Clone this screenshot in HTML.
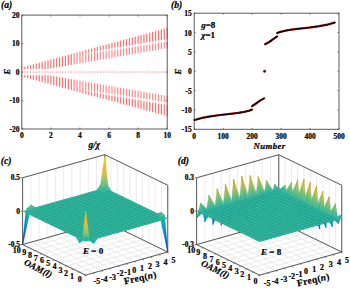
<!DOCTYPE html>
<html><head><meta charset="utf-8"><style>html,body{margin:0;padding:0;background:#fff;overflow:hidden}svg{display:block} text{stroke:#000;stroke-width:0.22px}</style></head>
<body><svg width="350" height="291" viewBox="0 0 350 291">
<defs><linearGradient id="g1" gradientUnits="userSpaceOnUse" x1="103.8" y1="188.8" x2="104.0" y2="184.7"><stop offset="0.00" stop-color="#46bb95"/><stop offset="0.20" stop-color="#4cbc92"/><stop offset="0.40" stop-color="#52bd8f"/><stop offset="0.60" stop-color="#57bd8c"/><stop offset="0.80" stop-color="#5dbf89"/><stop offset="1.00" stop-color="#62c086"/></linearGradient><linearGradient id="g2" gradientUnits="userSpaceOnUse" x1="100.6" y1="184.6" x2="102.1" y2="155.9"><stop offset="0.00" stop-color="#62c086"/><stop offset="0.20" stop-color="#9dc468"/><stop offset="0.40" stop-color="#d8c046"/><stop offset="0.60" stop-color="#ffb220"/><stop offset="0.80" stop-color="#ffcf01"/><stop offset="1.00" stop-color="#ffff00"/></linearGradient><linearGradient id="g3" gradientUnits="userSpaceOnUse" x1="106.9" y1="192.3" x2="105.8" y2="188.2"><stop offset="0.00" stop-color="#33b8a1"/><stop offset="0.20" stop-color="#36b99f"/><stop offset="0.40" stop-color="#3ab99c"/><stop offset="0.60" stop-color="#3eba9a"/><stop offset="0.80" stop-color="#42bb98"/><stop offset="1.00" stop-color="#46bb95"/></linearGradient><linearGradient id="g4" gradientUnits="userSpaceOnUse" x1="111.1" y1="191.1" x2="110.7" y2="184.8"><stop offset="0.00" stop-color="#33b8a1"/><stop offset="0.20" stop-color="#3cba9c"/><stop offset="0.40" stop-color="#45bb96"/><stop offset="0.60" stop-color="#4fbc91"/><stop offset="0.80" stop-color="#59be8b"/><stop offset="1.00" stop-color="#62c086"/></linearGradient><linearGradient id="g5" gradientUnits="userSpaceOnUse" x1="99.7" y1="191.9" x2="101.7" y2="187.7"><stop offset="0.00" stop-color="#33b8a1"/><stop offset="0.20" stop-color="#36b99f"/><stop offset="0.40" stop-color="#3ab99c"/><stop offset="0.60" stop-color="#3eba9a"/><stop offset="0.80" stop-color="#42bb98"/><stop offset="1.00" stop-color="#46bb95"/></linearGradient><linearGradient id="g6" gradientUnits="userSpaceOnUse" x1="96.5" y1="190.4" x2="97.5" y2="184.1"><stop offset="0.00" stop-color="#33b8a1"/><stop offset="0.20" stop-color="#3cba9c"/><stop offset="0.40" stop-color="#45bb96"/><stop offset="0.60" stop-color="#4fbc91"/><stop offset="0.80" stop-color="#59be8b"/><stop offset="1.00" stop-color="#62c086"/></linearGradient><linearGradient id="g7" gradientUnits="userSpaceOnUse" x1="99.7" y1="191.9" x2="99.9" y2="188.6"><stop offset="0.00" stop-color="#33b8a1"/><stop offset="0.20" stop-color="#36b99f"/><stop offset="0.40" stop-color="#3ab99c"/><stop offset="0.60" stop-color="#3eba9a"/><stop offset="0.80" stop-color="#42bb98"/><stop offset="1.00" stop-color="#46bb95"/></linearGradient><linearGradient id="g8" gradientUnits="userSpaceOnUse" x1="157.3" y1="216.7" x2="159.9" y2="211.5"><stop offset="0.00" stop-color="#33b8a1"/><stop offset="0.20" stop-color="#39b99d"/><stop offset="0.40" stop-color="#3fba99"/><stop offset="0.60" stop-color="#46bb95"/><stop offset="0.80" stop-color="#4dbc92"/><stop offset="1.00" stop-color="#55bd8e"/></linearGradient><linearGradient id="g9" gradientUnits="userSpaceOnUse" x1="154.2" y1="215.2" x2="154.0" y2="214.3"><stop offset="0.00" stop-color="#33b8a1"/><stop offset="0.20" stop-color="#39b99d"/><stop offset="0.40" stop-color="#3fba99"/><stop offset="0.60" stop-color="#46bb95"/><stop offset="0.80" stop-color="#4dbc92"/><stop offset="1.00" stop-color="#55bd8e"/></linearGradient><linearGradient id="g10" gradientUnits="userSpaceOnUse" x1="34.0" y1="210.4" x2="32.3" y2="204.4"><stop offset="0.00" stop-color="#33b8a1"/><stop offset="0.20" stop-color="#3ab99c"/><stop offset="0.40" stop-color="#42bb98"/><stop offset="0.60" stop-color="#4abc93"/><stop offset="0.80" stop-color="#53bd8e"/><stop offset="1.00" stop-color="#5bbe8a"/></linearGradient><linearGradient id="g11" gradientUnits="userSpaceOnUse" x1="34.9" y1="207.7" x2="35.3" y2="207.0"><stop offset="0.00" stop-color="#33b8a1"/><stop offset="0.20" stop-color="#3ab99c"/><stop offset="0.40" stop-color="#42bb98"/><stop offset="0.60" stop-color="#4abc93"/><stop offset="0.80" stop-color="#53bd8e"/><stop offset="1.00" stop-color="#5bbe8a"/></linearGradient><linearGradient id="g12" gradientUnits="userSpaceOnUse" x1="160.5" y1="218.3" x2="162.5" y2="214.1"><stop offset="0.00" stop-color="#33b8a1"/><stop offset="0.20" stop-color="#36b99f"/><stop offset="0.40" stop-color="#3ab99c"/><stop offset="0.60" stop-color="#3eba9a"/><stop offset="0.80" stop-color="#42bb98"/><stop offset="1.00" stop-color="#46bb95"/></linearGradient><linearGradient id="g13" gradientUnits="userSpaceOnUse" x1="157.3" y1="216.7" x2="158.5" y2="211.6"><stop offset="0.00" stop-color="#33b8a1"/><stop offset="0.20" stop-color="#39b99d"/><stop offset="0.40" stop-color="#3fba99"/><stop offset="0.60" stop-color="#46bb95"/><stop offset="0.80" stop-color="#4dbc92"/><stop offset="1.00" stop-color="#55bd8e"/></linearGradient><linearGradient id="g14" gradientUnits="userSpaceOnUse" x1="34.0" y1="210.4" x2="33.8" y2="204.8"><stop offset="0.00" stop-color="#33b8a1"/><stop offset="0.20" stop-color="#3ab99c"/><stop offset="0.40" stop-color="#42bb98"/><stop offset="0.60" stop-color="#4abc93"/><stop offset="0.80" stop-color="#53bd8e"/><stop offset="1.00" stop-color="#5bbe8a"/></linearGradient><linearGradient id="g15" gradientUnits="userSpaceOnUse" x1="167.8" y1="252.0" x2="179.6" y2="227.5"><stop offset="0.00" stop-color="#352a87"/><stop offset="0.20" stop-color="#1b55d7"/><stop offset="0.40" stop-color="#0f77db"/><stop offset="0.60" stop-color="#0d93d2"/><stop offset="0.80" stop-color="#07aac1"/><stop offset="1.00" stop-color="#33b8a1"/></linearGradient><linearGradient id="g16" gradientUnits="userSpaceOnUse" x1="167.8" y1="252.0" x2="158.9" y2="216.5"><stop offset="0.00" stop-color="#352a87"/><stop offset="0.20" stop-color="#1559da"/><stop offset="0.40" stop-color="#117ad9"/><stop offset="0.60" stop-color="#0998d1"/><stop offset="0.80" stop-color="#0eaeba"/><stop offset="1.00" stop-color="#46bb95"/></linearGradient><linearGradient id="g17" gradientUnits="userSpaceOnUse" x1="22.6" y1="244.6" x2="14.5" y2="215.9"><stop offset="0.00" stop-color="#352a87"/><stop offset="0.20" stop-color="#1b55d7"/><stop offset="0.40" stop-color="#0f77db"/><stop offset="0.60" stop-color="#0d93d2"/><stop offset="0.80" stop-color="#07aac1"/><stop offset="1.00" stop-color="#33b8a1"/></linearGradient><linearGradient id="g18" gradientUnits="userSpaceOnUse" x1="22.6" y1="244.6" x2="36.7" y2="213.2"><stop offset="0.00" stop-color="#352a87"/><stop offset="0.20" stop-color="#1758d9"/><stop offset="0.40" stop-color="#1079da"/><stop offset="0.60" stop-color="#0a96d1"/><stop offset="0.80" stop-color="#0bacbd"/><stop offset="1.00" stop-color="#3fba99"/></linearGradient><linearGradient id="g19" gradientUnits="userSpaceOnUse" x1="93.8" y1="243.4" x2="94.1" y2="238.1"><stop offset="0.00" stop-color="#14b0b5"/><stop offset="0.20" stop-color="#19b2b2"/><stop offset="0.40" stop-color="#1fb3ae"/><stop offset="0.60" stop-color="#25b5aa"/><stop offset="0.80" stop-color="#2cb6a5"/><stop offset="1.00" stop-color="#33b8a1"/></linearGradient><linearGradient id="g20" gradientUnits="userSpaceOnUse" x1="79.3" y1="242.7" x2="79.6" y2="237.3"><stop offset="0.00" stop-color="#14b0b5"/><stop offset="0.20" stop-color="#19b2b2"/><stop offset="0.40" stop-color="#1fb3ae"/><stop offset="0.60" stop-color="#25b5aa"/><stop offset="0.80" stop-color="#2cb6a5"/><stop offset="1.00" stop-color="#33b8a1"/></linearGradient><linearGradient id="g21" gradientUnits="userSpaceOnUse" x1="93.8" y1="243.4" x2="95.0" y2="238.5"><stop offset="0.00" stop-color="#14b0b5"/><stop offset="0.20" stop-color="#1eb3ae"/><stop offset="0.40" stop-color="#29b6a7"/><stop offset="0.60" stop-color="#36b99f"/><stop offset="0.80" stop-color="#45bb96"/><stop offset="1.00" stop-color="#55bd8e"/></linearGradient><linearGradient id="g22" gradientUnits="userSpaceOnUse" x1="93.8" y1="243.4" x2="91.1" y2="236.6"><stop offset="0.00" stop-color="#14b0b5"/><stop offset="0.20" stop-color="#1ab2b1"/><stop offset="0.40" stop-color="#21b4ac"/><stop offset="0.60" stop-color="#28b6a7"/><stop offset="0.80" stop-color="#30b7a2"/><stop offset="1.00" stop-color="#39b99d"/></linearGradient><linearGradient id="g23" gradientUnits="userSpaceOnUse" x1="79.3" y1="242.7" x2="78.7" y2="237.3"><stop offset="0.00" stop-color="#14b0b5"/><stop offset="0.20" stop-color="#1eb3ae"/><stop offset="0.40" stop-color="#29b6a7"/><stop offset="0.60" stop-color="#36b99f"/><stop offset="0.80" stop-color="#45bb96"/><stop offset="1.00" stop-color="#55bd8e"/></linearGradient><linearGradient id="g24" gradientUnits="userSpaceOnUse" x1="79.3" y1="242.7" x2="83.7" y2="236.4"><stop offset="0.00" stop-color="#14b0b5"/><stop offset="0.20" stop-color="#1ab2b1"/><stop offset="0.40" stop-color="#21b4ac"/><stop offset="0.60" stop-color="#28b6a7"/><stop offset="0.80" stop-color="#30b7a2"/><stop offset="1.00" stop-color="#39b99d"/></linearGradient><linearGradient id="g25" gradientUnits="userSpaceOnUse" x1="82.4" y1="236.9" x2="83.8" y2="210.9"><stop offset="0.00" stop-color="#55bd8e"/><stop offset="0.20" stop-color="#8fc46f"/><stop offset="0.40" stop-color="#c8c451"/><stop offset="0.60" stop-color="#feb427"/><stop offset="0.80" stop-color="#ffc20a"/><stop offset="1.00" stop-color="#ffff00"/></linearGradient><linearGradient id="g26" gradientUnits="userSpaceOnUse" x1="86.6" y1="238.4" x2="86.6" y2="237.1"><stop offset="0.00" stop-color="#39b99d"/><stop offset="0.20" stop-color="#3eba9a"/><stop offset="0.40" stop-color="#43bb97"/><stop offset="0.60" stop-color="#49bc94"/><stop offset="0.80" stop-color="#4fbc91"/><stop offset="1.00" stop-color="#55bd8e"/></linearGradient><linearGradient id="g27" gradientUnits="userSpaceOnUse" x1="281.9" y1="192.9" x2="273.6" y2="185.3"><stop offset="0.00" stop-color="#18b1b2"/><stop offset="0.20" stop-color="#24b5aa"/><stop offset="0.40" stop-color="#33b8a1"/><stop offset="0.60" stop-color="#43bb97"/><stop offset="0.80" stop-color="#55bd8e"/><stop offset="1.00" stop-color="#66c084"/></linearGradient><linearGradient id="g28" gradientUnits="userSpaceOnUse" x1="281.9" y1="192.9" x2="276.4" y2="193.9"><stop offset="0.00" stop-color="#18b1b2"/><stop offset="0.20" stop-color="#24b5aa"/><stop offset="0.40" stop-color="#33b8a1"/><stop offset="0.60" stop-color="#43bb97"/><stop offset="0.80" stop-color="#55bd8e"/><stop offset="1.00" stop-color="#66c084"/></linearGradient><linearGradient id="g29" gradientUnits="userSpaceOnUse" x1="280.9" y1="192.3" x2="284.5" y2="185.0"><stop offset="0.00" stop-color="#33b8a1"/><stop offset="0.20" stop-color="#3eba9a"/><stop offset="0.40" stop-color="#4abc93"/><stop offset="0.60" stop-color="#57bd8d"/><stop offset="0.80" stop-color="#63c086"/><stop offset="1.00" stop-color="#70c17f"/></linearGradient><linearGradient id="g30" gradientUnits="userSpaceOnUse" x1="281.9" y1="192.9" x2="281.1" y2="185.7"><stop offset="0.00" stop-color="#18b1b2"/><stop offset="0.20" stop-color="#26b5a9"/><stop offset="0.40" stop-color="#36b99f"/><stop offset="0.60" stop-color="#48bb94"/><stop offset="0.80" stop-color="#5cbe8a"/><stop offset="1.00" stop-color="#70c17f"/></linearGradient><linearGradient id="g31" gradientUnits="userSpaceOnUse" x1="270.5" y1="198.2" x2="269.1" y2="193.2"><stop offset="0.00" stop-color="#06a7c5"/><stop offset="0.20" stop-color="#09abbf"/><stop offset="0.40" stop-color="#10afb9"/><stop offset="0.60" stop-color="#1ab2b1"/><stop offset="0.80" stop-color="#25b5a9"/><stop offset="1.00" stop-color="#33b8a1"/></linearGradient><linearGradient id="g32" gradientUnits="userSpaceOnUse" x1="270.5" y1="198.2" x2="273.7" y2="184.0"><stop offset="0.00" stop-color="#06a7c5"/><stop offset="0.20" stop-color="#0dadbb"/><stop offset="0.40" stop-color="#1db3af"/><stop offset="0.60" stop-color="#32b8a1"/><stop offset="0.80" stop-color="#4bbc93"/><stop offset="1.00" stop-color="#66c084"/></linearGradient><linearGradient id="g33" gradientUnits="userSpaceOnUse" x1="288.2" y1="199.3" x2="289.6" y2="196.5"><stop offset="0.00" stop-color="#07aac1"/><stop offset="0.20" stop-color="#0cadbb"/><stop offset="0.40" stop-color="#14b0b5"/><stop offset="0.60" stop-color="#1db3af"/><stop offset="0.80" stop-color="#27b5a8"/><stop offset="1.00" stop-color="#33b8a1"/></linearGradient><linearGradient id="g34" gradientUnits="userSpaceOnUse" x1="288.2" y1="199.3" x2="287.1" y2="185.1"><stop offset="0.00" stop-color="#07aac1"/><stop offset="0.20" stop-color="#13b0b6"/><stop offset="0.40" stop-color="#25b5aa"/><stop offset="0.60" stop-color="#3bb99c"/><stop offset="0.80" stop-color="#55bd8d"/><stop offset="1.00" stop-color="#70c17f"/></linearGradient><linearGradient id="g35" gradientUnits="userSpaceOnUse" x1="269.6" y1="193.1" x2="266.0" y2="180.5"><stop offset="0.00" stop-color="#33b8a1"/><stop offset="0.20" stop-color="#49bb94"/><stop offset="0.40" stop-color="#60bf87"/><stop offset="0.60" stop-color="#78c27b"/><stop offset="0.80" stop-color="#90c46f"/><stop offset="1.00" stop-color="#a7c463"/></linearGradient><linearGradient id="g36" gradientUnits="userSpaceOnUse" x1="270.5" y1="198.2" x2="274.0" y2="182.1"><stop offset="0.00" stop-color="#06a7c5"/><stop offset="0.20" stop-color="#14b0b5"/><stop offset="0.40" stop-color="#31b8a2"/><stop offset="0.60" stop-color="#57bd8c"/><stop offset="0.80" stop-color="#7fc377"/><stop offset="1.00" stop-color="#a7c463"/></linearGradient><linearGradient id="g37" gradientUnits="userSpaceOnUse" x1="287.2" y1="195.3" x2="293.1" y2="183.2"><stop offset="0.00" stop-color="#33b8a1"/><stop offset="0.20" stop-color="#4abc93"/><stop offset="0.40" stop-color="#63c086"/><stop offset="0.60" stop-color="#7cc379"/><stop offset="0.80" stop-color="#95c46c"/><stop offset="1.00" stop-color="#aec45f"/></linearGradient><linearGradient id="g38" gradientUnits="userSpaceOnUse" x1="288.2" y1="199.3" x2="286.3" y2="183.0"><stop offset="0.00" stop-color="#07aac1"/><stop offset="0.20" stop-color="#1bb2b1"/><stop offset="0.40" stop-color="#39b99d"/><stop offset="0.60" stop-color="#60bf88"/><stop offset="0.80" stop-color="#87c473"/><stop offset="1.00" stop-color="#aec45f"/></linearGradient><linearGradient id="g39" gradientUnits="userSpaceOnUse" x1="262.3" y1="206.0" x2="259.5" y2="195.9"><stop offset="0.00" stop-color="#0d93d2"/><stop offset="0.20" stop-color="#069ece"/><stop offset="0.40" stop-color="#06a6c6"/><stop offset="0.60" stop-color="#0cadbb"/><stop offset="0.80" stop-color="#1db3af"/><stop offset="1.00" stop-color="#33b8a1"/></linearGradient><linearGradient id="g40" gradientUnits="userSpaceOnUse" x1="262.3" y1="206.0" x2="267.4" y2="180.6"><stop offset="0.00" stop-color="#0d93d2"/><stop offset="0.20" stop-color="#06a5c8"/><stop offset="0.40" stop-color="#17b1b3"/><stop offset="0.60" stop-color="#3fba99"/><stop offset="0.80" stop-color="#73c27d"/><stop offset="1.00" stop-color="#a7c463"/></linearGradient><linearGradient id="g41" gradientUnits="userSpaceOnUse" x1="294.5" y1="206.8" x2="297.6" y2="200.4"><stop offset="0.00" stop-color="#079ccf"/><stop offset="0.20" stop-color="#06a4c9"/><stop offset="0.40" stop-color="#07aac1"/><stop offset="0.60" stop-color="#11afb8"/><stop offset="0.80" stop-color="#20b4ad"/><stop offset="1.00" stop-color="#33b8a1"/></linearGradient><linearGradient id="g42" gradientUnits="userSpaceOnUse" x1="294.5" y1="206.8" x2="292.9" y2="182.3"><stop offset="0.00" stop-color="#079ccf"/><stop offset="0.20" stop-color="#08aac1"/><stop offset="0.40" stop-color="#22b4ab"/><stop offset="0.60" stop-color="#4dbc92"/><stop offset="0.80" stop-color="#7ec378"/><stop offset="1.00" stop-color="#aec45f"/></linearGradient><linearGradient id="g43" gradientUnits="userSpaceOnUse" x1="261.4" y1="195.4" x2="256.2" y2="177.2"><stop offset="0.00" stop-color="#33b8a1"/><stop offset="0.20" stop-color="#56bd8d"/><stop offset="0.40" stop-color="#7bc37a"/><stop offset="0.60" stop-color="#9fc467"/><stop offset="0.80" stop-color="#c3c454"/><stop offset="1.00" stop-color="#eabb39"/></linearGradient><linearGradient id="g44" gradientUnits="userSpaceOnUse" x1="262.3" y1="206.0" x2="268.0" y2="178.6"><stop offset="0.00" stop-color="#0d93d2"/><stop offset="0.20" stop-color="#06a8c3"/><stop offset="0.40" stop-color="#29b6a7"/><stop offset="0.60" stop-color="#66c084"/><stop offset="0.80" stop-color="#a7c463"/><stop offset="1.00" stop-color="#eabb39"/></linearGradient><linearGradient id="g45" gradientUnits="userSpaceOnUse" x1="293.5" y1="198.4" x2="301.6" y2="181.7"><stop offset="0.00" stop-color="#33b8a1"/><stop offset="0.20" stop-color="#56bd8d"/><stop offset="0.40" stop-color="#7cc379"/><stop offset="0.60" stop-color="#a0c466"/><stop offset="0.80" stop-color="#c5c453"/><stop offset="1.00" stop-color="#ecbb37"/></linearGradient><linearGradient id="g46" gradientUnits="userSpaceOnUse" x1="294.5" y1="206.8" x2="291.7" y2="180.4"><stop offset="0.00" stop-color="#079ccf"/><stop offset="0.20" stop-color="#0cadbc"/><stop offset="0.40" stop-color="#36b89f"/><stop offset="0.60" stop-color="#71c27e"/><stop offset="0.80" stop-color="#adc45f"/><stop offset="1.00" stop-color="#ecbb37"/></linearGradient><linearGradient id="g47" gradientUnits="userSpaceOnUse" x1="254.1" y1="212.8" x2="250.1" y2="198.5"><stop offset="0.00" stop-color="#137fd6"/><stop offset="0.20" stop-color="#108ed2"/><stop offset="0.40" stop-color="#069ece"/><stop offset="0.60" stop-color="#07a9c3"/><stop offset="0.80" stop-color="#17b1b3"/><stop offset="1.00" stop-color="#33b8a1"/></linearGradient><linearGradient id="g48" gradientUnits="userSpaceOnUse" x1="254.1" y1="212.8" x2="260.7" y2="177.1"><stop offset="0.00" stop-color="#137fd6"/><stop offset="0.20" stop-color="#079ecf"/><stop offset="0.40" stop-color="#15b1b4"/><stop offset="0.60" stop-color="#53bd8e"/><stop offset="0.80" stop-color="#9ec467"/><stop offset="1.00" stop-color="#eabb39"/></linearGradient><linearGradient id="g49" gradientUnits="userSpaceOnUse" x1="300.8" y1="215.5" x2="306.1" y2="204.5"><stop offset="0.00" stop-color="#1484d4"/><stop offset="0.20" stop-color="#0d93d2"/><stop offset="0.40" stop-color="#06a0cd"/><stop offset="0.60" stop-color="#07aac1"/><stop offset="0.80" stop-color="#18b1b2"/><stop offset="1.00" stop-color="#33b8a1"/></linearGradient><linearGradient id="g50" gradientUnits="userSpaceOnUse" x1="300.8" y1="215.5" x2="298.5" y2="179.7"><stop offset="0.00" stop-color="#1484d4"/><stop offset="0.20" stop-color="#06a1cc"/><stop offset="0.40" stop-color="#1ab2b1"/><stop offset="0.60" stop-color="#59be8b"/><stop offset="0.80" stop-color="#a2c465"/><stop offset="1.00" stop-color="#ecbb37"/></linearGradient><linearGradient id="g51" gradientUnits="userSpaceOnUse" x1="253.1" y1="197.7" x2="247.1" y2="176.3"><stop offset="0.00" stop-color="#33b8a1"/><stop offset="0.20" stop-color="#5dbf89"/><stop offset="0.40" stop-color="#89c472"/><stop offset="0.60" stop-color="#b4c45b"/><stop offset="0.80" stop-color="#e3bd3e"/><stop offset="1.00" stop-color="#ffb222"/></linearGradient><linearGradient id="g52" gradientUnits="userSpaceOnUse" x1="254.1" y1="212.8" x2="261.0" y2="177.6"><stop offset="0.00" stop-color="#137fd6"/><stop offset="0.20" stop-color="#06a0cd"/><stop offset="0.40" stop-color="#1fb3ae"/><stop offset="0.60" stop-color="#69c183"/><stop offset="0.80" stop-color="#bac458"/><stop offset="1.00" stop-color="#ffb222"/></linearGradient><linearGradient id="g53" gradientUnits="userSpaceOnUse" x1="299.8" y1="201.5" x2="309.5" y2="181.6"><stop offset="0.00" stop-color="#33b8a1"/><stop offset="0.20" stop-color="#5ebf88"/><stop offset="0.40" stop-color="#8cc471"/><stop offset="0.60" stop-color="#b8c459"/><stop offset="0.80" stop-color="#e8bc3a"/><stop offset="1.00" stop-color="#ffb11f"/></linearGradient><linearGradient id="g54" gradientUnits="userSpaceOnUse" x1="300.8" y1="215.5" x2="297.6" y2="179.5"><stop offset="0.00" stop-color="#1484d4"/><stop offset="0.20" stop-color="#06a3ca"/><stop offset="0.40" stop-color="#26b5a9"/><stop offset="0.60" stop-color="#72c27e"/><stop offset="0.80" stop-color="#c2c454"/><stop offset="1.00" stop-color="#ffb11f"/></linearGradient><linearGradient id="g55" gradientUnits="userSpaceOnUse" x1="245.9" y1="218.5" x2="241.0" y2="201.1"><stop offset="0.00" stop-color="#0b73dd"/><stop offset="0.20" stop-color="#1483d5"/><stop offset="0.40" stop-color="#0a96d1"/><stop offset="0.60" stop-color="#06a5c8"/><stop offset="0.80" stop-color="#12b0b6"/><stop offset="1.00" stop-color="#33b8a1"/></linearGradient><linearGradient id="g56" gradientUnits="userSpaceOnUse" x1="245.9" y1="218.5" x2="253.7" y2="176.1"><stop offset="0.00" stop-color="#0b73dd"/><stop offset="0.20" stop-color="#0b95d1"/><stop offset="0.40" stop-color="#11afb7"/><stop offset="0.60" stop-color="#5bbe8a"/><stop offset="0.80" stop-color="#b3c45c"/><stop offset="1.00" stop-color="#ffb222"/></linearGradient><linearGradient id="g57" gradientUnits="userSpaceOnUse" x1="307.1" y1="221.8" x2="313.7" y2="208.2"><stop offset="0.00" stop-color="#0f77db"/><stop offset="0.20" stop-color="#1486d3"/><stop offset="0.40" stop-color="#0899d1"/><stop offset="0.60" stop-color="#06a6c6"/><stop offset="0.80" stop-color="#14b0b5"/><stop offset="1.00" stop-color="#33b8a1"/></linearGradient><linearGradient id="g58" gradientUnits="userSpaceOnUse" x1="307.1" y1="221.8" x2="304.4" y2="178.9"><stop offset="0.00" stop-color="#0f77db"/><stop offset="0.20" stop-color="#089ad0"/><stop offset="0.40" stop-color="#17b1b3"/><stop offset="0.60" stop-color="#64c085"/><stop offset="0.80" stop-color="#bbc458"/><stop offset="1.00" stop-color="#ffb11f"/></linearGradient><linearGradient id="g59" gradientUnits="userSpaceOnUse" x1="244.9" y1="200.0" x2="238.5" y2="177.1"><stop offset="0.00" stop-color="#33b8a1"/><stop offset="0.20" stop-color="#60bf87"/><stop offset="0.40" stop-color="#90c46f"/><stop offset="0.60" stop-color="#bec456"/><stop offset="0.80" stop-color="#efba34"/><stop offset="1.00" stop-color="#ffb01a"/></linearGradient><linearGradient id="g60" gradientUnits="userSpaceOnUse" x1="245.9" y1="218.5" x2="253.4" y2="178.4"><stop offset="0.00" stop-color="#0b73dd"/><stop offset="0.20" stop-color="#0a97d1"/><stop offset="0.40" stop-color="#15b1b4"/><stop offset="0.60" stop-color="#65c085"/><stop offset="0.80" stop-color="#c0c455"/><stop offset="1.00" stop-color="#ffb01a"/></linearGradient><linearGradient id="g61" gradientUnits="userSpaceOnUse" x1="306.1" y1="204.5" x2="315.6" y2="185.0"><stop offset="0.00" stop-color="#33b8a1"/><stop offset="0.20" stop-color="#5dbf89"/><stop offset="0.40" stop-color="#8ac472"/><stop offset="0.60" stop-color="#b6c45b"/><stop offset="0.80" stop-color="#e5bd3d"/><stop offset="1.00" stop-color="#ffb221"/></linearGradient><linearGradient id="g62" gradientUnits="userSpaceOnUse" x1="307.1" y1="221.8" x2="304.3" y2="182.9"><stop offset="0.00" stop-color="#0f77db"/><stop offset="0.20" stop-color="#089ad1"/><stop offset="0.40" stop-color="#16b1b4"/><stop offset="0.60" stop-color="#61bf87"/><stop offset="0.80" stop-color="#b8c45a"/><stop offset="1.00" stop-color="#ffb221"/></linearGradient><linearGradient id="g63" gradientUnits="userSpaceOnUse" x1="237.7" y1="221.9" x2="232.5" y2="203.5"><stop offset="0.00" stop-color="#066fdf"/><stop offset="0.20" stop-color="#137fd6"/><stop offset="0.40" stop-color="#0d93d2"/><stop offset="0.60" stop-color="#06a4c9"/><stop offset="0.80" stop-color="#11afb8"/><stop offset="1.00" stop-color="#33b8a1"/></linearGradient><linearGradient id="g64" gradientUnits="userSpaceOnUse" x1="237.7" y1="221.9" x2="245.9" y2="177.0"><stop offset="0.00" stop-color="#066fdf"/><stop offset="0.20" stop-color="#0d93d2"/><stop offset="0.40" stop-color="#11afb8"/><stop offset="0.60" stop-color="#60bf87"/><stop offset="0.80" stop-color="#bec456"/><stop offset="1.00" stop-color="#ffb01a"/></linearGradient><linearGradient id="g65" gradientUnits="userSpaceOnUse" x1="313.4" y1="226.0" x2="320.5" y2="211.4"><stop offset="0.00" stop-color="#0b73dd"/><stop offset="0.20" stop-color="#1483d5"/><stop offset="0.40" stop-color="#0a96d1"/><stop offset="0.60" stop-color="#06a5c8"/><stop offset="0.80" stop-color="#12b0b6"/><stop offset="1.00" stop-color="#33b8a1"/></linearGradient><linearGradient id="g66" gradientUnits="userSpaceOnUse" x1="313.4" y1="226.0" x2="310.4" y2="182.4"><stop offset="0.00" stop-color="#0b73dd"/><stop offset="0.20" stop-color="#0b96d1"/><stop offset="0.40" stop-color="#12afb7"/><stop offset="0.60" stop-color="#5cbe89"/><stop offset="0.80" stop-color="#b5c45b"/><stop offset="1.00" stop-color="#ffb221"/></linearGradient><linearGradient id="g67" gradientUnits="userSpaceOnUse" x1="236.7" y1="202.3" x2="230.5" y2="180.1"><stop offset="0.00" stop-color="#33b8a1"/><stop offset="0.20" stop-color="#5fbf88"/><stop offset="0.40" stop-color="#8dc470"/><stop offset="0.60" stop-color="#bac458"/><stop offset="0.80" stop-color="#eabb38"/><stop offset="1.00" stop-color="#ffb11d"/></linearGradient><linearGradient id="g68" gradientUnits="userSpaceOnUse" x1="237.7" y1="221.9" x2="245.0" y2="181.2"><stop offset="0.00" stop-color="#066fdf"/><stop offset="0.20" stop-color="#0d92d2"/><stop offset="0.40" stop-color="#0faeb9"/><stop offset="0.60" stop-color="#5cbe8a"/><stop offset="0.80" stop-color="#b8c459"/><stop offset="1.00" stop-color="#ffb11d"/></linearGradient><linearGradient id="g69" gradientUnits="userSpaceOnUse" x1="312.4" y1="207.6" x2="321.8" y2="188.3"><stop offset="0.00" stop-color="#33b8a1"/><stop offset="0.20" stop-color="#5dbf89"/><stop offset="0.40" stop-color="#89c472"/><stop offset="0.60" stop-color="#b4c45b"/><stop offset="0.80" stop-color="#e3bd3e"/><stop offset="1.00" stop-color="#ffb222"/></linearGradient><linearGradient id="g70" gradientUnits="userSpaceOnUse" x1="313.4" y1="226.0" x2="310.7" y2="186.1"><stop offset="0.00" stop-color="#0b73dd"/><stop offset="0.20" stop-color="#0b95d1"/><stop offset="0.40" stop-color="#11afb7"/><stop offset="0.60" stop-color="#5bbe8a"/><stop offset="0.80" stop-color="#b3c45c"/><stop offset="1.00" stop-color="#ffb222"/></linearGradient><linearGradient id="g71" gradientUnits="userSpaceOnUse" x1="229.5" y1="224.2" x2="224.3" y2="205.8"><stop offset="0.00" stop-color="#066fdf"/><stop offset="0.20" stop-color="#137fd6"/><stop offset="0.40" stop-color="#0d93d2"/><stop offset="0.60" stop-color="#06a4c9"/><stop offset="0.80" stop-color="#11afb8"/><stop offset="1.00" stop-color="#33b8a1"/></linearGradient><linearGradient id="g72" gradientUnits="userSpaceOnUse" x1="229.5" y1="224.2" x2="237.7" y2="180.0"><stop offset="0.00" stop-color="#066fdf"/><stop offset="0.20" stop-color="#0d92d2"/><stop offset="0.40" stop-color="#0faeb9"/><stop offset="0.60" stop-color="#5cbe8a"/><stop offset="0.80" stop-color="#b8c459"/><stop offset="1.00" stop-color="#ffb11d"/></linearGradient><linearGradient id="g73" gradientUnits="userSpaceOnUse" x1="319.7" y1="229.1" x2="326.8" y2="214.5"><stop offset="0.00" stop-color="#0b73dd"/><stop offset="0.20" stop-color="#1483d5"/><stop offset="0.40" stop-color="#0a96d1"/><stop offset="0.60" stop-color="#06a5c8"/><stop offset="0.80" stop-color="#12b0b6"/><stop offset="1.00" stop-color="#33b8a1"/></linearGradient><linearGradient id="g74" gradientUnits="userSpaceOnUse" x1="319.7" y1="229.1" x2="316.6" y2="185.7"><stop offset="0.00" stop-color="#0b73dd"/><stop offset="0.20" stop-color="#0b95d1"/><stop offset="0.40" stop-color="#11afb7"/><stop offset="0.60" stop-color="#5bbe8a"/><stop offset="0.80" stop-color="#b3c45c"/><stop offset="1.00" stop-color="#ffb222"/></linearGradient><linearGradient id="g75" gradientUnits="userSpaceOnUse" x1="228.5" y1="204.6" x2="222.9" y2="184.9"><stop offset="0.00" stop-color="#33b8a1"/><stop offset="0.20" stop-color="#59be8b"/><stop offset="0.40" stop-color="#82c376"/><stop offset="0.60" stop-color="#a9c461"/><stop offset="0.80" stop-color="#d2c24a"/><stop offset="1.00" stop-color="#f8b62d"/></linearGradient><linearGradient id="g76" gradientUnits="userSpaceOnUse" x1="229.5" y1="224.2" x2="235.9" y2="185.9"><stop offset="0.00" stop-color="#066fdf"/><stop offset="0.20" stop-color="#0f8fd2"/><stop offset="0.40" stop-color="#0aacbd"/><stop offset="0.60" stop-color="#4bbc93"/><stop offset="0.80" stop-color="#a2c465"/><stop offset="1.00" stop-color="#f8b62d"/></linearGradient><linearGradient id="g77" gradientUnits="userSpaceOnUse" x1="318.7" y1="210.6" x2="327.1" y2="193.3"><stop offset="0.00" stop-color="#33b8a1"/><stop offset="0.20" stop-color="#58be8c"/><stop offset="0.40" stop-color="#7fc377"/><stop offset="0.60" stop-color="#a5c464"/><stop offset="0.80" stop-color="#cbc34f"/><stop offset="1.00" stop-color="#f3b831"/></linearGradient><linearGradient id="g78" gradientUnits="userSpaceOnUse" x1="319.7" y1="229.1" x2="317.5" y2="191.5"><stop offset="0.00" stop-color="#0b73dd"/><stop offset="0.20" stop-color="#0d93d2"/><stop offset="0.40" stop-color="#0cadbc"/><stop offset="0.60" stop-color="#4bbc93"/><stop offset="0.80" stop-color="#9fc467"/><stop offset="1.00" stop-color="#f3b831"/></linearGradient><linearGradient id="g79" gradientUnits="userSpaceOnUse" x1="221.2" y1="225.4" x2="216.4" y2="208.0"><stop offset="0.00" stop-color="#0b73dd"/><stop offset="0.20" stop-color="#1483d5"/><stop offset="0.40" stop-color="#0a96d1"/><stop offset="0.60" stop-color="#06a5c8"/><stop offset="0.80" stop-color="#12b0b6"/><stop offset="1.00" stop-color="#33b8a1"/></linearGradient><linearGradient id="g80" gradientUnits="userSpaceOnUse" x1="221.2" y1="225.4" x2="229.1" y2="184.9"><stop offset="0.00" stop-color="#0b73dd"/><stop offset="0.20" stop-color="#0c94d2"/><stop offset="0.40" stop-color="#0daebb"/><stop offset="0.60" stop-color="#50bc90"/><stop offset="0.80" stop-color="#a5c464"/><stop offset="1.00" stop-color="#f8b62d"/></linearGradient><linearGradient id="g81" gradientUnits="userSpaceOnUse" x1="326.0" y1="227.7" x2="331.3" y2="216.7"><stop offset="0.00" stop-color="#1484d4"/><stop offset="0.20" stop-color="#0d93d2"/><stop offset="0.40" stop-color="#06a0cd"/><stop offset="0.60" stop-color="#07aac1"/><stop offset="0.80" stop-color="#18b1b2"/><stop offset="1.00" stop-color="#33b8a1"/></linearGradient><linearGradient id="g82" gradientUnits="userSpaceOnUse" x1="326.0" y1="227.7" x2="323.7" y2="191.2"><stop offset="0.00" stop-color="#1484d4"/><stop offset="0.20" stop-color="#06a1cc"/><stop offset="0.40" stop-color="#1cb3af"/><stop offset="0.60" stop-color="#5ebf88"/><stop offset="0.80" stop-color="#a8c462"/><stop offset="1.00" stop-color="#f3b831"/></linearGradient><linearGradient id="g83" gradientUnits="userSpaceOnUse" x1="220.3" y1="206.9" x2="215.3" y2="189.2"><stop offset="0.00" stop-color="#33b8a1"/><stop offset="0.20" stop-color="#55bd8e"/><stop offset="0.40" stop-color="#78c27b"/><stop offset="0.60" stop-color="#9bc469"/><stop offset="0.80" stop-color="#bec456"/><stop offset="1.00" stop-color="#e4bd3d"/></linearGradient><linearGradient id="g84" gradientUnits="userSpaceOnUse" x1="221.2" y1="225.4" x2="226.9" y2="190.3"><stop offset="0.00" stop-color="#0b73dd"/><stop offset="0.20" stop-color="#0e92d2"/><stop offset="0.40" stop-color="#09acbe"/><stop offset="0.60" stop-color="#42bb98"/><stop offset="0.80" stop-color="#92c46d"/><stop offset="1.00" stop-color="#e4bd3d"/></linearGradient><linearGradient id="g85" gradientUnits="userSpaceOnUse" x1="325.0" y1="213.7" x2="332.5" y2="198.3"><stop offset="0.00" stop-color="#33b8a1"/><stop offset="0.20" stop-color="#53bd8f"/><stop offset="0.40" stop-color="#74c27d"/><stop offset="0.60" stop-color="#96c46c"/><stop offset="0.80" stop-color="#b7c45a"/><stop offset="1.00" stop-color="#dac044"/></linearGradient><linearGradient id="g86" gradientUnits="userSpaceOnUse" x1="326.0" y1="227.7" x2="324.0" y2="197.0"><stop offset="0.00" stop-color="#1484d4"/><stop offset="0.20" stop-color="#06a0cd"/><stop offset="0.40" stop-color="#16b1b4"/><stop offset="0.60" stop-color="#4fbc91"/><stop offset="0.80" stop-color="#94c46c"/><stop offset="1.00" stop-color="#dac044"/></linearGradient><linearGradient id="g87" gradientUnits="userSpaceOnUse" x1="213.0" y1="224.4" x2="209.0" y2="210.1"><stop offset="0.00" stop-color="#137fd6"/><stop offset="0.20" stop-color="#108ed2"/><stop offset="0.40" stop-color="#069ece"/><stop offset="0.60" stop-color="#07a9c3"/><stop offset="0.80" stop-color="#17b1b3"/><stop offset="1.00" stop-color="#33b8a1"/></linearGradient><linearGradient id="g88" gradientUnits="userSpaceOnUse" x1="213.0" y1="224.4" x2="219.7" y2="189.2"><stop offset="0.00" stop-color="#137fd6"/><stop offset="0.20" stop-color="#079dcf"/><stop offset="0.40" stop-color="#14b0b5"/><stop offset="0.60" stop-color="#50bc90"/><stop offset="0.80" stop-color="#99c46a"/><stop offset="1.00" stop-color="#e4bd3d"/></linearGradient><linearGradient id="g89" gradientUnits="userSpaceOnUse" x1="332.3" y1="226.8" x2="336.1" y2="219.0"><stop offset="0.00" stop-color="#0b95d1"/><stop offset="0.20" stop-color="#06a0cd"/><stop offset="0.40" stop-color="#06a7c5"/><stop offset="0.60" stop-color="#0daebb"/><stop offset="0.80" stop-color="#1eb3ae"/><stop offset="1.00" stop-color="#33b8a1"/></linearGradient><linearGradient id="g90" gradientUnits="userSpaceOnUse" x1="332.3" y1="226.8" x2="330.7" y2="196.6"><stop offset="0.00" stop-color="#0b95d1"/><stop offset="0.20" stop-color="#07a9c3"/><stop offset="0.40" stop-color="#27b5a8"/><stop offset="0.60" stop-color="#5fbf88"/><stop offset="0.80" stop-color="#9cc468"/><stop offset="1.00" stop-color="#dac044"/></linearGradient><linearGradient id="g91" gradientUnits="userSpaceOnUse" x1="212.1" y1="209.2" x2="208.2" y2="195.4"><stop offset="0.00" stop-color="#33b8a1"/><stop offset="0.20" stop-color="#4cbc92"/><stop offset="0.40" stop-color="#66c084"/><stop offset="0.60" stop-color="#81c376"/><stop offset="0.80" stop-color="#9cc468"/><stop offset="1.00" stop-color="#b6c45b"/></linearGradient><linearGradient id="g92" gradientUnits="userSpaceOnUse" x1="213.0" y1="224.4" x2="217.3" y2="196.4"><stop offset="0.00" stop-color="#137fd6"/><stop offset="0.20" stop-color="#089ad0"/><stop offset="0.40" stop-color="#0bacbd"/><stop offset="0.60" stop-color="#37b99f"/><stop offset="0.80" stop-color="#76c27c"/><stop offset="1.00" stop-color="#b6c45b"/></linearGradient><linearGradient id="g93" gradientUnits="userSpaceOnUse" x1="331.3" y1="216.7" x2="337.3" y2="204.5"><stop offset="0.00" stop-color="#33b8a1"/><stop offset="0.20" stop-color="#4abc93"/><stop offset="0.40" stop-color="#63c086"/><stop offset="0.60" stop-color="#7dc378"/><stop offset="0.80" stop-color="#96c46b"/><stop offset="1.00" stop-color="#afc45e"/></linearGradient><linearGradient id="g94" gradientUnits="userSpaceOnUse" x1="332.3" y1="226.8" x2="330.9" y2="204.0"><stop offset="0.00" stop-color="#0b95d1"/><stop offset="0.20" stop-color="#06a7c6"/><stop offset="0.40" stop-color="#1bb2b0"/><stop offset="0.60" stop-color="#47bb95"/><stop offset="0.80" stop-color="#7bc379"/><stop offset="1.00" stop-color="#afc45e"/></linearGradient><linearGradient id="g95" gradientUnits="userSpaceOnUse" x1="204.8" y1="221.7" x2="202.1" y2="212.0"><stop offset="0.00" stop-color="#0b95d1"/><stop offset="0.20" stop-color="#06a0cd"/><stop offset="0.40" stop-color="#06a7c5"/><stop offset="0.60" stop-color="#0daebb"/><stop offset="0.80" stop-color="#1eb3ae"/><stop offset="1.00" stop-color="#33b8a1"/></linearGradient><linearGradient id="g96" gradientUnits="userSpaceOnUse" x1="204.8" y1="221.7" x2="209.7" y2="195.3"><stop offset="0.00" stop-color="#0b95d1"/><stop offset="0.20" stop-color="#06a7c5"/><stop offset="0.40" stop-color="#1db3af"/><stop offset="0.60" stop-color="#4bbc93"/><stop offset="0.80" stop-color="#81c376"/><stop offset="1.00" stop-color="#b6c45b"/></linearGradient><linearGradient id="g97" gradientUnits="userSpaceOnUse" x1="338.6" y1="223.8" x2="340.0" y2="220.9"><stop offset="0.00" stop-color="#07aac1"/><stop offset="0.20" stop-color="#0cadbb"/><stop offset="0.40" stop-color="#14b0b5"/><stop offset="0.60" stop-color="#1db3af"/><stop offset="0.80" stop-color="#27b5a8"/><stop offset="1.00" stop-color="#33b8a1"/></linearGradient><linearGradient id="g98" gradientUnits="userSpaceOnUse" x1="338.6" y1="223.8" x2="338.0" y2="203.6"><stop offset="0.00" stop-color="#07aac1"/><stop offset="0.20" stop-color="#1bb2b0"/><stop offset="0.40" stop-color="#3ab99d"/><stop offset="0.60" stop-color="#60bf87"/><stop offset="0.80" stop-color="#88c473"/><stop offset="1.00" stop-color="#afc45e"/></linearGradient><linearGradient id="g99" gradientUnits="userSpaceOnUse" x1="203.9" y1="211.5" x2="201.4" y2="202.9"><stop offset="0.00" stop-color="#33b8a1"/><stop offset="0.20" stop-color="#40ba99"/><stop offset="0.40" stop-color="#4ebc91"/><stop offset="0.60" stop-color="#5dbf89"/><stop offset="0.80" stop-color="#6cc181"/><stop offset="1.00" stop-color="#7bc37a"/></linearGradient><linearGradient id="g100" gradientUnits="userSpaceOnUse" x1="204.8" y1="221.7" x2="207.2" y2="204.0"><stop offset="0.00" stop-color="#0b95d1"/><stop offset="0.20" stop-color="#06a4c9"/><stop offset="0.40" stop-color="#0eaeba"/><stop offset="0.60" stop-color="#2ab6a6"/><stop offset="0.80" stop-color="#50bc90"/><stop offset="1.00" stop-color="#7bc37a"/></linearGradient><linearGradient id="g101" gradientUnits="userSpaceOnUse" x1="337.6" y1="219.8" x2="340.6" y2="213.6"><stop offset="0.00" stop-color="#33b8a1"/><stop offset="0.20" stop-color="#3bb99c"/><stop offset="0.40" stop-color="#44bb97"/><stop offset="0.60" stop-color="#4dbc92"/><stop offset="0.80" stop-color="#57bd8c"/><stop offset="1.00" stop-color="#60bf87"/></linearGradient><linearGradient id="g102" gradientUnits="userSpaceOnUse" x1="338.6" y1="223.8" x2="338.2" y2="214.3"><stop offset="0.00" stop-color="#07aac1"/><stop offset="0.20" stop-color="#11afb8"/><stop offset="0.40" stop-color="#20b4ad"/><stop offset="0.60" stop-color="#33b8a1"/><stop offset="0.80" stop-color="#49bb94"/><stop offset="1.00" stop-color="#60bf87"/></linearGradient><linearGradient id="g103" gradientUnits="userSpaceOnUse" x1="196.6" y1="217.9" x2="195.5" y2="213.9"><stop offset="0.00" stop-color="#07aac1"/><stop offset="0.20" stop-color="#0cadbb"/><stop offset="0.40" stop-color="#14b0b5"/><stop offset="0.60" stop-color="#1db3af"/><stop offset="0.80" stop-color="#27b5a8"/><stop offset="1.00" stop-color="#33b8a1"/></linearGradient><linearGradient id="g104" gradientUnits="userSpaceOnUse" x1="196.6" y1="217.9" x2="199.3" y2="202.9"><stop offset="0.00" stop-color="#07aac1"/><stop offset="0.20" stop-color="#14b0b5"/><stop offset="0.40" stop-color="#28b6a8"/><stop offset="0.60" stop-color="#41ba99"/><stop offset="0.80" stop-color="#5dbf89"/><stop offset="1.00" stop-color="#7bc37a"/></linearGradient></defs>
<rect width="350" height="291" fill="#fff"/>
<g><rect x="21.20" y="67.49" width="1.2" height="1.42" fill="#ee5a5a" fill-opacity="0.85"/><rect x="21.20" y="75.18" width="1.2" height="1.42" fill="#ee5a5a" fill-opacity="0.85"/><rect x="21.20" y="71.45" width="1.2" height="1.2" fill="#f07070" fill-opacity="0.8"/><rect x="24.11" y="66.70" width="1.2" height="2.22" fill="#ee5a5a" fill-opacity="0.85"/><rect x="24.11" y="75.18" width="1.2" height="2.22" fill="#ee5a5a" fill-opacity="0.85"/><rect x="24.11" y="71.45" width="1.2" height="1.2" fill="#f07070" fill-opacity="0.8"/><rect x="27.02" y="65.91" width="1.2" height="3.01" fill="#ee5a5a" fill-opacity="0.85"/><rect x="27.02" y="75.18" width="1.2" height="3.01" fill="#ee5a5a" fill-opacity="0.85"/><rect x="27.02" y="71.45" width="1.2" height="1.2" fill="#f07070" fill-opacity="0.8"/><rect x="29.92" y="65.12" width="1.2" height="3.80" fill="#ee5a5a" fill-opacity="0.85"/><rect x="29.92" y="75.18" width="1.2" height="3.80" fill="#ee5a5a" fill-opacity="0.85"/><rect x="29.92" y="71.45" width="1.2" height="1.2" fill="#f07070" fill-opacity="0.8"/><rect x="32.83" y="64.33" width="1.2" height="4.59" fill="#ee5a5a" fill-opacity="0.85"/><rect x="32.83" y="75.18" width="1.2" height="4.59" fill="#ee5a5a" fill-opacity="0.85"/><rect x="32.83" y="71.45" width="1.2" height="1.2" fill="#f07070" fill-opacity="0.8"/><rect x="35.74" y="63.54" width="1.2" height="5.38" fill="#ee5a5a" fill-opacity="0.85"/><rect x="35.74" y="75.18" width="1.2" height="5.38" fill="#ee5a5a" fill-opacity="0.85"/><rect x="35.74" y="71.45" width="1.2" height="1.2" fill="#f07070" fill-opacity="0.8"/><rect x="38.65" y="62.74" width="1.2" height="6.17" fill="#ee5a5a" fill-opacity="0.85"/><rect x="38.65" y="75.18" width="1.2" height="6.17" fill="#ee5a5a" fill-opacity="0.85"/><rect x="38.65" y="71.45" width="1.2" height="1.2" fill="#f07070" fill-opacity="0.8"/><rect x="41.56" y="61.95" width="1.2" height="6.96" fill="#ee5a5a" fill-opacity="0.85"/><rect x="41.56" y="75.18" width="1.2" height="6.96" fill="#ee5a5a" fill-opacity="0.85"/><rect x="41.56" y="71.45" width="1.2" height="1.2" fill="#f07070" fill-opacity="0.8"/><rect x="44.46" y="61.16" width="1.2" height="7.76" fill="#ee5a5a" fill-opacity="0.85"/><rect x="44.46" y="75.18" width="1.2" height="7.76" fill="#ee5a5a" fill-opacity="0.85"/><rect x="44.46" y="71.45" width="1.2" height="1.2" fill="#f07070" fill-opacity="0.8"/><rect x="47.37" y="60.37" width="1.2" height="8.55" fill="#ee5a5a" fill-opacity="0.85"/><rect x="47.37" y="75.18" width="1.2" height="8.55" fill="#ee5a5a" fill-opacity="0.85"/><rect x="47.37" y="71.45" width="1.2" height="1.2" fill="#f07070" fill-opacity="0.8"/><rect x="50.28" y="59.58" width="1.2" height="8.92" fill="#ee5a5a" fill-opacity="0.85"/><rect x="50.28" y="75.60" width="1.2" height="8.92" fill="#ee5a5a" fill-opacity="0.85"/><rect x="50.28" y="71.45" width="1.2" height="1.2" fill="#f07070" fill-opacity="0.8"/><rect x="53.19" y="58.79" width="1.2" height="9.20" fill="#ee5a5a" fill-opacity="0.85"/><rect x="53.19" y="76.11" width="1.2" height="9.20" fill="#ee5a5a" fill-opacity="0.85"/><rect x="53.19" y="71.45" width="1.2" height="1.2" fill="#f07070" fill-opacity="0.8"/><rect x="56.10" y="57.99" width="1.2" height="9.48" fill="#ee5a5a" fill-opacity="0.85"/><rect x="56.10" y="76.62" width="1.2" height="9.48" fill="#ee5a5a" fill-opacity="0.85"/><rect x="56.10" y="71.45" width="1.2" height="1.2" fill="#f07070" fill-opacity="0.8"/><rect x="59.00" y="57.20" width="1.2" height="9.77" fill="#ee5a5a" fill-opacity="0.85"/><rect x="59.00" y="77.13" width="1.2" height="9.77" fill="#ee5a5a" fill-opacity="0.85"/><rect x="59.00" y="71.45" width="1.2" height="1.2" fill="#f07070" fill-opacity="0.8"/><rect x="61.91" y="56.41" width="1.2" height="10.05" fill="#ee5a5a" fill-opacity="0.85"/><rect x="61.91" y="77.64" width="1.2" height="10.05" fill="#ee5a5a" fill-opacity="0.85"/><rect x="61.91" y="71.45" width="1.2" height="1.2" fill="#f07070" fill-opacity="0.8"/><rect x="64.82" y="55.62" width="1.2" height="10.33" fill="#ee5a5a" fill-opacity="0.85"/><rect x="64.82" y="78.15" width="1.2" height="10.33" fill="#ee5a5a" fill-opacity="0.85"/><rect x="64.82" y="71.45" width="1.2" height="1.2" fill="#f07070" fill-opacity="0.8"/><rect x="67.73" y="54.83" width="1.2" height="10.61" fill="#ee5a5a" fill-opacity="0.85"/><rect x="67.73" y="78.66" width="1.2" height="10.61" fill="#ee5a5a" fill-opacity="0.85"/><rect x="67.73" y="71.45" width="1.2" height="1.2" fill="#f07070" fill-opacity="0.8"/><rect x="70.64" y="54.04" width="1.2" height="10.90" fill="#ee5a5a" fill-opacity="0.85"/><rect x="70.64" y="79.17" width="1.2" height="10.90" fill="#ee5a5a" fill-opacity="0.85"/><rect x="70.64" y="71.45" width="1.2" height="1.2" fill="#f07070" fill-opacity="0.8"/><rect x="73.54" y="56.47" width="1.2" height="7.96" fill="#ee5a5a" fill-opacity="0.7"/><rect x="73.54" y="54.67" width="1.2" height="1.79" fill="#ee5a5a" fill-opacity="0.8208"/><rect x="73.54" y="53.25" width="1.2" height="1.43" fill="#ee5a5a" fill-opacity="0.85"/><rect x="73.54" y="79.68" width="1.2" height="7.96" fill="#ee5a5a" fill-opacity="0.7"/><rect x="73.54" y="87.63" width="1.2" height="1.79" fill="#ee5a5a" fill-opacity="0.8208"/><rect x="73.54" y="89.43" width="1.2" height="1.43" fill="#ee5a5a" fill-opacity="0.85"/><rect x="73.54" y="71.45" width="1.2" height="1.2" fill="#f07070" fill-opacity="0.8"/><rect x="76.45" y="56.01" width="1.2" height="7.91" fill="#ee5a5a" fill-opacity="0.7"/><rect x="76.45" y="54.18" width="1.2" height="1.82" fill="#ee5a5a" fill-opacity="0.7623999999999999"/><rect x="76.45" y="52.45" width="1.2" height="1.73" fill="#ee5a5a" fill-opacity="0.85"/><rect x="76.45" y="80.19" width="1.2" height="7.91" fill="#ee5a5a" fill-opacity="0.7"/><rect x="76.45" y="88.09" width="1.2" height="1.82" fill="#ee5a5a" fill-opacity="0.7623999999999999"/><rect x="76.45" y="89.92" width="1.2" height="1.73" fill="#ee5a5a" fill-opacity="0.85"/><rect x="76.45" y="71.45" width="1.2" height="1.2" fill="#f07070" fill-opacity="0.8"/><rect x="79.36" y="55.55" width="1.2" height="7.86" fill="#ee5a5a" fill-opacity="0.7"/><rect x="79.36" y="53.70" width="1.2" height="1.85" fill="#ee5a5a" fill-opacity="0.704"/><rect x="79.36" y="51.66" width="1.2" height="2.04" fill="#ee5a5a" fill-opacity="0.85"/><rect x="79.36" y="80.70" width="1.2" height="7.86" fill="#ee5a5a" fill-opacity="0.7"/><rect x="79.36" y="88.55" width="1.2" height="1.85" fill="#ee5a5a" fill-opacity="0.704"/><rect x="79.36" y="90.40" width="1.2" height="2.04" fill="#ee5a5a" fill-opacity="0.85"/><rect x="79.36" y="71.45" width="1.2" height="1.2" fill="#f07070" fill-opacity="0.8"/><rect x="82.27" y="55.09" width="1.2" height="7.81" fill="#ee5a5a" fill-opacity="0.7"/><rect x="82.27" y="53.21" width="1.2" height="1.88" fill="#ee5a5a" fill-opacity="0.6456"/><rect x="82.27" y="50.87" width="1.2" height="2.34" fill="#ee5a5a" fill-opacity="0.85"/><rect x="82.27" y="81.20" width="1.2" height="7.81" fill="#ee5a5a" fill-opacity="0.7"/><rect x="82.27" y="89.01" width="1.2" height="1.88" fill="#ee5a5a" fill-opacity="0.6456"/><rect x="82.27" y="90.89" width="1.2" height="2.34" fill="#ee5a5a" fill-opacity="0.85"/><rect x="82.27" y="71.45" width="1.2" height="1.2" fill="#f07070" fill-opacity="0.8"/><rect x="85.18" y="54.63" width="1.2" height="7.75" fill="#ee5a5a" fill-opacity="0.7"/><rect x="85.18" y="52.72" width="1.2" height="1.91" fill="#ee5a5a" fill-opacity="0.5871999999999999"/><rect x="85.18" y="50.08" width="1.2" height="2.65" fill="#ee5a5a" fill-opacity="0.85"/><rect x="85.18" y="81.71" width="1.2" height="7.75" fill="#ee5a5a" fill-opacity="0.7"/><rect x="85.18" y="89.47" width="1.2" height="1.91" fill="#ee5a5a" fill-opacity="0.5871999999999999"/><rect x="85.18" y="91.38" width="1.2" height="2.65" fill="#ee5a5a" fill-opacity="0.85"/><rect x="85.18" y="71.45" width="1.2" height="1.2" fill="#f07070" fill-opacity="0.8"/><rect x="88.08" y="54.17" width="1.2" height="7.70" fill="#ee5a5a" fill-opacity="0.7"/><rect x="88.08" y="52.24" width="1.2" height="1.94" fill="#ee5a5a" fill-opacity="0.5287999999999998"/><rect x="88.08" y="49.29" width="1.2" height="2.95" fill="#ee5a5a" fill-opacity="0.85"/><rect x="88.08" y="82.22" width="1.2" height="7.70" fill="#ee5a5a" fill-opacity="0.7"/><rect x="88.08" y="89.93" width="1.2" height="1.94" fill="#ee5a5a" fill-opacity="0.5287999999999998"/><rect x="88.08" y="91.86" width="1.2" height="2.95" fill="#ee5a5a" fill-opacity="0.85"/><rect x="88.08" y="71.45" width="1.2" height="1.2" fill="#f07070" fill-opacity="0.8"/><rect x="90.99" y="53.71" width="1.2" height="7.65" fill="#ee5a5a" fill-opacity="0.7"/><rect x="90.99" y="51.75" width="1.2" height="1.96" fill="#ee5a5a" fill-opacity="0.4703999999999998"/><rect x="90.99" y="48.50" width="1.2" height="3.25" fill="#ee5a5a" fill-opacity="0.85"/><rect x="90.99" y="82.73" width="1.2" height="7.65" fill="#ee5a5a" fill-opacity="0.7"/><rect x="90.99" y="90.39" width="1.2" height="1.96" fill="#ee5a5a" fill-opacity="0.4703999999999998"/><rect x="90.99" y="92.35" width="1.2" height="3.25" fill="#ee5a5a" fill-opacity="0.85"/><rect x="90.99" y="71.45" width="1.2" height="1.2" fill="#f07070" fill-opacity="0.8"/><rect x="93.90" y="53.26" width="1.2" height="7.60" fill="#ee5a5a" fill-opacity="0.7"/><rect x="93.90" y="51.26" width="1.2" height="1.99" fill="#ee5a5a" fill-opacity="0.412"/><rect x="93.90" y="47.70" width="1.2" height="3.56" fill="#ee5a5a" fill-opacity="0.85"/><rect x="93.90" y="83.24" width="1.2" height="7.60" fill="#ee5a5a" fill-opacity="0.7"/><rect x="93.90" y="90.84" width="1.2" height="1.99" fill="#ee5a5a" fill-opacity="0.412"/><rect x="93.90" y="92.84" width="1.2" height="3.56" fill="#ee5a5a" fill-opacity="0.85"/><rect x="93.90" y="71.45" width="1.2" height="1.2" fill="#f07070" fill-opacity="0.8"/><rect x="96.81" y="52.80" width="1.2" height="7.55" fill="#ee5a5a" fill-opacity="0.7"/><rect x="96.81" y="50.78" width="1.2" height="2.02" fill="#ee5a5a" fill-opacity="0.35359999999999997"/><rect x="96.81" y="46.91" width="1.2" height="3.86" fill="#ee5a5a" fill-opacity="0.85"/><rect x="96.81" y="83.75" width="1.2" height="7.55" fill="#ee5a5a" fill-opacity="0.7"/><rect x="96.81" y="91.30" width="1.2" height="2.02" fill="#ee5a5a" fill-opacity="0.35359999999999997"/><rect x="96.81" y="93.32" width="1.2" height="3.86" fill="#ee5a5a" fill-opacity="0.85"/><rect x="96.81" y="71.45" width="1.2" height="1.2" fill="#f07070" fill-opacity="0.8"/><rect x="99.72" y="52.34" width="1.2" height="7.50" fill="#ee5a5a" fill-opacity="0.7"/><rect x="99.72" y="50.29" width="1.2" height="2.05" fill="#ee5a5a" fill-opacity="0.2951999999999999"/><rect x="99.72" y="46.12" width="1.2" height="4.17" fill="#ee5a5a" fill-opacity="0.85"/><rect x="99.72" y="84.26" width="1.2" height="7.50" fill="#ee5a5a" fill-opacity="0.7"/><rect x="99.72" y="91.76" width="1.2" height="2.05" fill="#ee5a5a" fill-opacity="0.2951999999999999"/><rect x="99.72" y="93.81" width="1.2" height="4.17" fill="#ee5a5a" fill-opacity="0.85"/><rect x="99.72" y="71.45" width="1.2" height="1.2" fill="#f07070" fill-opacity="0.8"/><rect x="102.62" y="51.88" width="1.2" height="7.45" fill="#ee5a5a" fill-opacity="0.7"/><rect x="102.62" y="49.80" width="1.2" height="2.08" fill="#ee5a5a" fill-opacity="0.2367999999999999"/><rect x="102.62" y="45.33" width="1.2" height="4.47" fill="#ee5a5a" fill-opacity="0.85"/><rect x="102.62" y="84.77" width="1.2" height="7.45" fill="#ee5a5a" fill-opacity="0.7"/><rect x="102.62" y="92.22" width="1.2" height="2.08" fill="#ee5a5a" fill-opacity="0.2367999999999999"/><rect x="102.62" y="94.30" width="1.2" height="4.47" fill="#ee5a5a" fill-opacity="0.85"/><rect x="102.62" y="71.45" width="1.2" height="1.2" fill="#f07070" fill-opacity="0.8"/><rect x="105.53" y="51.42" width="1.2" height="7.40" fill="#ee5a5a" fill-opacity="0.7"/><rect x="105.53" y="49.32" width="1.2" height="2.11" fill="#ee5a5a" fill-opacity="0.17839999999999978"/><rect x="105.53" y="44.54" width="1.2" height="4.78" fill="#ee5a5a" fill-opacity="0.85"/><rect x="105.53" y="85.28" width="1.2" height="7.40" fill="#ee5a5a" fill-opacity="0.7"/><rect x="105.53" y="92.68" width="1.2" height="2.11" fill="#ee5a5a" fill-opacity="0.17839999999999978"/><rect x="105.53" y="94.78" width="1.2" height="4.78" fill="#ee5a5a" fill-opacity="0.85"/><rect x="105.53" y="71.45" width="1.2" height="1.2" fill="#f07070" fill-opacity="0.8"/><rect x="108.44" y="50.96" width="1.2" height="7.35" fill="#ee5a5a" fill-opacity="0.7"/><rect x="108.44" y="48.83" width="1.2" height="2.14" fill="#ee5a5a" fill-opacity="0.12"/><rect x="108.44" y="43.75" width="1.2" height="5.08" fill="#ee5a5a" fill-opacity="0.85"/><rect x="108.44" y="85.79" width="1.2" height="7.35" fill="#ee5a5a" fill-opacity="0.7"/><rect x="108.44" y="93.14" width="1.2" height="2.14" fill="#ee5a5a" fill-opacity="0.12"/><rect x="108.44" y="95.27" width="1.2" height="5.08" fill="#ee5a5a" fill-opacity="0.85"/><rect x="108.44" y="71.45" width="1.2" height="1.2" fill="#f07070" fill-opacity="0.8"/><rect x="111.35" y="50.51" width="1.2" height="7.30" fill="#ee5a5a" fill-opacity="0.7"/><rect x="111.35" y="48.34" width="1.2" height="2.16" fill="#ee5a5a" fill-opacity="0.12"/><rect x="111.35" y="42.95" width="1.2" height="5.39" fill="#ee5a5a" fill-opacity="0.85"/><rect x="111.35" y="86.30" width="1.2" height="7.30" fill="#ee5a5a" fill-opacity="0.7"/><rect x="111.35" y="93.59" width="1.2" height="2.16" fill="#ee5a5a" fill-opacity="0.12"/><rect x="111.35" y="95.76" width="1.2" height="5.39" fill="#ee5a5a" fill-opacity="0.85"/><rect x="111.35" y="71.45" width="1.2" height="1.2" fill="#f07070" fill-opacity="0.8"/><rect x="114.26" y="50.05" width="1.2" height="7.25" fill="#ee5a5a" fill-opacity="0.7"/><rect x="114.26" y="47.85" width="1.2" height="2.19" fill="#ee5a5a" fill-opacity="0.12"/><rect x="114.26" y="42.16" width="1.2" height="5.69" fill="#ee5a5a" fill-opacity="0.85"/><rect x="114.26" y="86.80" width="1.2" height="7.25" fill="#ee5a5a" fill-opacity="0.7"/><rect x="114.26" y="94.05" width="1.2" height="2.19" fill="#ee5a5a" fill-opacity="0.12"/><rect x="114.26" y="96.25" width="1.2" height="5.69" fill="#ee5a5a" fill-opacity="0.85"/><rect x="114.26" y="71.45" width="1.2" height="1.2" fill="#f07070" fill-opacity="0.8"/><rect x="117.16" y="49.59" width="1.2" height="7.20" fill="#ee5a5a" fill-opacity="0.7"/><rect x="117.16" y="47.37" width="1.2" height="2.22" fill="#ee5a5a" fill-opacity="0.12"/><rect x="117.16" y="41.37" width="1.2" height="6.00" fill="#ee5a5a" fill-opacity="0.85"/><rect x="117.16" y="87.31" width="1.2" height="7.20" fill="#ee5a5a" fill-opacity="0.7"/><rect x="117.16" y="94.51" width="1.2" height="2.22" fill="#ee5a5a" fill-opacity="0.12"/><rect x="117.16" y="96.73" width="1.2" height="6.00" fill="#ee5a5a" fill-opacity="0.85"/><rect x="117.16" y="71.45" width="1.2" height="1.2" fill="#f07070" fill-opacity="0.8"/><rect x="120.07" y="49.13" width="1.2" height="7.15" fill="#ee5a5a" fill-opacity="0.7"/><rect x="120.07" y="46.88" width="1.2" height="2.25" fill="#ee5a5a" fill-opacity="0.12"/><rect x="120.07" y="40.58" width="1.2" height="6.30" fill="#ee5a5a" fill-opacity="0.85"/><rect x="120.07" y="87.82" width="1.2" height="7.15" fill="#ee5a5a" fill-opacity="0.7"/><rect x="120.07" y="94.97" width="1.2" height="2.25" fill="#ee5a5a" fill-opacity="0.12"/><rect x="120.07" y="97.22" width="1.2" height="6.30" fill="#ee5a5a" fill-opacity="0.85"/><rect x="120.07" y="71.45" width="1.2" height="1.2" fill="#f07070" fill-opacity="0.8"/><rect x="122.98" y="48.67" width="1.2" height="7.10" fill="#ee5a5a" fill-opacity="0.7"/><rect x="122.98" y="46.39" width="1.2" height="2.28" fill="#ee5a5a" fill-opacity="0.12"/><rect x="122.98" y="39.79" width="1.2" height="6.61" fill="#ee5a5a" fill-opacity="0.85"/><rect x="122.98" y="88.33" width="1.2" height="7.10" fill="#ee5a5a" fill-opacity="0.7"/><rect x="122.98" y="95.43" width="1.2" height="2.28" fill="#ee5a5a" fill-opacity="0.12"/><rect x="122.98" y="97.71" width="1.2" height="6.61" fill="#ee5a5a" fill-opacity="0.85"/><rect x="122.98" y="71.45" width="1.2" height="1.2" fill="#f07070" fill-opacity="0.8"/><rect x="125.89" y="48.21" width="1.2" height="7.05" fill="#ee5a5a" fill-opacity="0.7"/><rect x="125.89" y="45.91" width="1.2" height="2.31" fill="#ee5a5a" fill-opacity="0.12"/><rect x="125.89" y="39.00" width="1.2" height="6.91" fill="#ee5a5a" fill-opacity="0.85"/><rect x="125.89" y="88.84" width="1.2" height="7.05" fill="#ee5a5a" fill-opacity="0.7"/><rect x="125.89" y="95.89" width="1.2" height="2.31" fill="#ee5a5a" fill-opacity="0.12"/><rect x="125.89" y="98.19" width="1.2" height="6.91" fill="#ee5a5a" fill-opacity="0.85"/><rect x="125.89" y="71.45" width="1.2" height="1.2" fill="#f07070" fill-opacity="0.8"/><rect x="128.80" y="47.76" width="1.2" height="6.99" fill="#ee5a5a" fill-opacity="0.7"/><rect x="128.80" y="45.42" width="1.2" height="2.33" fill="#ee5a5a" fill-opacity="0.12"/><rect x="128.80" y="38.20" width="1.2" height="7.22" fill="#ee5a5a" fill-opacity="0.85"/><rect x="128.80" y="89.35" width="1.2" height="6.99" fill="#ee5a5a" fill-opacity="0.7"/><rect x="128.80" y="96.34" width="1.2" height="2.33" fill="#ee5a5a" fill-opacity="0.12"/><rect x="128.80" y="98.68" width="1.2" height="7.22" fill="#ee5a5a" fill-opacity="0.85"/><rect x="128.80" y="71.45" width="1.2" height="1.2" fill="#f07070" fill-opacity="0.8"/><rect x="131.70" y="47.30" width="1.2" height="6.94" fill="#ee5a5a" fill-opacity="0.7"/><rect x="131.70" y="44.93" width="1.2" height="2.36" fill="#ee5a5a" fill-opacity="0.12"/><rect x="131.70" y="37.41" width="1.2" height="7.52" fill="#ee5a5a" fill-opacity="0.85"/><rect x="131.70" y="89.86" width="1.2" height="6.94" fill="#ee5a5a" fill-opacity="0.7"/><rect x="131.70" y="96.80" width="1.2" height="2.36" fill="#ee5a5a" fill-opacity="0.12"/><rect x="131.70" y="99.17" width="1.2" height="7.52" fill="#ee5a5a" fill-opacity="0.85"/><rect x="131.70" y="71.45" width="1.2" height="1.2" fill="#f07070" fill-opacity="0.8"/><rect x="134.61" y="46.84" width="1.2" height="6.89" fill="#ee5a5a" fill-opacity="0.7"/><rect x="134.61" y="44.45" width="1.2" height="2.39" fill="#ee5a5a" fill-opacity="0.12"/><rect x="134.61" y="36.62" width="1.2" height="7.82" fill="#ee5a5a" fill-opacity="0.85"/><rect x="134.61" y="90.37" width="1.2" height="6.89" fill="#ee5a5a" fill-opacity="0.7"/><rect x="134.61" y="97.26" width="1.2" height="2.39" fill="#ee5a5a" fill-opacity="0.12"/><rect x="134.61" y="99.65" width="1.2" height="7.82" fill="#ee5a5a" fill-opacity="0.85"/><rect x="134.61" y="71.45" width="1.2" height="1.2" fill="#f07070" fill-opacity="0.8"/><rect x="137.52" y="46.38" width="1.2" height="6.84" fill="#ee5a5a" fill-opacity="0.7"/><rect x="137.52" y="43.96" width="1.2" height="2.42" fill="#ee5a5a" fill-opacity="0.12"/><rect x="137.52" y="35.83" width="1.2" height="8.13" fill="#ee5a5a" fill-opacity="0.85"/><rect x="137.52" y="90.88" width="1.2" height="6.84" fill="#ee5a5a" fill-opacity="0.7"/><rect x="137.52" y="97.72" width="1.2" height="2.42" fill="#ee5a5a" fill-opacity="0.12"/><rect x="137.52" y="100.14" width="1.2" height="8.13" fill="#ee5a5a" fill-opacity="0.85"/><rect x="137.52" y="71.45" width="1.2" height="1.2" fill="#f07070" fill-opacity="0.8"/><rect x="140.43" y="45.92" width="1.2" height="6.79" fill="#ee5a5a" fill-opacity="0.7"/><rect x="140.43" y="43.47" width="1.2" height="2.45" fill="#ee5a5a" fill-opacity="0.12"/><rect x="140.43" y="35.04" width="1.2" height="8.43" fill="#ee5a5a" fill-opacity="0.85"/><rect x="140.43" y="91.39" width="1.2" height="6.79" fill="#ee5a5a" fill-opacity="0.7"/><rect x="140.43" y="98.18" width="1.2" height="2.45" fill="#ee5a5a" fill-opacity="0.12"/><rect x="140.43" y="100.63" width="1.2" height="8.43" fill="#ee5a5a" fill-opacity="0.85"/><rect x="140.43" y="71.45" width="1.2" height="1.2" fill="#f07070" fill-opacity="0.8"/><rect x="143.34" y="45.46" width="1.2" height="6.74" fill="#ee5a5a" fill-opacity="0.7"/><rect x="143.34" y="42.99" width="1.2" height="2.48" fill="#ee5a5a" fill-opacity="0.12"/><rect x="143.34" y="34.25" width="1.2" height="8.74" fill="#ee5a5a" fill-opacity="0.85"/><rect x="143.34" y="91.90" width="1.2" height="6.74" fill="#ee5a5a" fill-opacity="0.7"/><rect x="143.34" y="98.64" width="1.2" height="2.48" fill="#ee5a5a" fill-opacity="0.12"/><rect x="143.34" y="101.11" width="1.2" height="8.74" fill="#ee5a5a" fill-opacity="0.85"/><rect x="143.34" y="71.45" width="1.2" height="1.2" fill="#f07070" fill-opacity="0.8"/><rect x="146.24" y="45.00" width="1.2" height="6.69" fill="#ee5a5a" fill-opacity="0.7"/><rect x="146.24" y="42.50" width="1.2" height="2.51" fill="#ee5a5a" fill-opacity="0.12"/><rect x="146.24" y="33.45" width="1.2" height="9.04" fill="#ee5a5a" fill-opacity="0.85"/><rect x="146.24" y="92.41" width="1.2" height="6.69" fill="#ee5a5a" fill-opacity="0.7"/><rect x="146.24" y="99.10" width="1.2" height="2.51" fill="#ee5a5a" fill-opacity="0.12"/><rect x="146.24" y="101.60" width="1.2" height="9.04" fill="#ee5a5a" fill-opacity="0.85"/><rect x="146.24" y="71.45" width="1.2" height="1.2" fill="#f07070" fill-opacity="0.8"/><rect x="149.15" y="44.55" width="1.2" height="6.64" fill="#ee5a5a" fill-opacity="0.7"/><rect x="149.15" y="42.01" width="1.2" height="2.53" fill="#ee5a5a" fill-opacity="0.12"/><rect x="149.15" y="32.66" width="1.2" height="9.35" fill="#ee5a5a" fill-opacity="0.85"/><rect x="149.15" y="92.91" width="1.2" height="6.64" fill="#ee5a5a" fill-opacity="0.7"/><rect x="149.15" y="99.55" width="1.2" height="2.53" fill="#ee5a5a" fill-opacity="0.12"/><rect x="149.15" y="102.09" width="1.2" height="9.35" fill="#ee5a5a" fill-opacity="0.85"/><rect x="149.15" y="71.45" width="1.2" height="1.2" fill="#f07070" fill-opacity="0.8"/><rect x="152.06" y="44.09" width="1.2" height="6.59" fill="#ee5a5a" fill-opacity="0.7"/><rect x="152.06" y="41.52" width="1.2" height="2.56" fill="#ee5a5a" fill-opacity="0.12"/><rect x="152.06" y="31.87" width="1.2" height="9.65" fill="#ee5a5a" fill-opacity="0.85"/><rect x="152.06" y="93.42" width="1.2" height="6.59" fill="#ee5a5a" fill-opacity="0.7"/><rect x="152.06" y="100.01" width="1.2" height="2.56" fill="#ee5a5a" fill-opacity="0.12"/><rect x="152.06" y="102.58" width="1.2" height="9.65" fill="#ee5a5a" fill-opacity="0.85"/><rect x="152.06" y="71.45" width="1.2" height="1.2" fill="#f07070" fill-opacity="0.8"/><rect x="154.97" y="43.63" width="1.2" height="6.54" fill="#ee5a5a" fill-opacity="0.7"/><rect x="154.97" y="41.04" width="1.2" height="2.59" fill="#ee5a5a" fill-opacity="0.12"/><rect x="154.97" y="31.08" width="1.2" height="9.96" fill="#ee5a5a" fill-opacity="0.85"/><rect x="154.97" y="93.93" width="1.2" height="6.54" fill="#ee5a5a" fill-opacity="0.7"/><rect x="154.97" y="100.47" width="1.2" height="2.59" fill="#ee5a5a" fill-opacity="0.12"/><rect x="154.97" y="103.06" width="1.2" height="9.96" fill="#ee5a5a" fill-opacity="0.85"/><rect x="154.97" y="71.45" width="1.2" height="1.2" fill="#f07070" fill-opacity="0.8"/><rect x="157.88" y="43.17" width="1.2" height="6.49" fill="#ee5a5a" fill-opacity="0.7"/><rect x="157.88" y="40.55" width="1.2" height="2.62" fill="#ee5a5a" fill-opacity="0.12"/><rect x="157.88" y="30.29" width="1.2" height="10.26" fill="#ee5a5a" fill-opacity="0.85"/><rect x="157.88" y="94.44" width="1.2" height="6.49" fill="#ee5a5a" fill-opacity="0.7"/><rect x="157.88" y="100.93" width="1.2" height="2.62" fill="#ee5a5a" fill-opacity="0.12"/><rect x="157.88" y="103.55" width="1.2" height="10.26" fill="#ee5a5a" fill-opacity="0.85"/><rect x="157.88" y="71.45" width="1.2" height="1.2" fill="#f07070" fill-opacity="0.8"/><rect x="160.78" y="42.71" width="1.2" height="6.44" fill="#ee5a5a" fill-opacity="0.7"/><rect x="160.78" y="40.06" width="1.2" height="2.65" fill="#ee5a5a" fill-opacity="0.12"/><rect x="160.78" y="29.50" width="1.2" height="10.57" fill="#ee5a5a" fill-opacity="0.85"/><rect x="160.78" y="94.95" width="1.2" height="6.44" fill="#ee5a5a" fill-opacity="0.7"/><rect x="160.78" y="101.39" width="1.2" height="2.65" fill="#ee5a5a" fill-opacity="0.12"/><rect x="160.78" y="104.04" width="1.2" height="10.57" fill="#ee5a5a" fill-opacity="0.85"/><rect x="160.78" y="71.45" width="1.2" height="1.2" fill="#f07070" fill-opacity="0.8"/><rect x="163.69" y="42.25" width="1.2" height="6.39" fill="#ee5a5a" fill-opacity="0.7"/><rect x="163.69" y="39.58" width="1.2" height="2.68" fill="#ee5a5a" fill-opacity="0.12"/><rect x="163.69" y="28.71" width="1.2" height="10.87" fill="#ee5a5a" fill-opacity="0.85"/><rect x="163.69" y="95.46" width="1.2" height="6.39" fill="#ee5a5a" fill-opacity="0.7"/><rect x="163.69" y="101.85" width="1.2" height="2.68" fill="#ee5a5a" fill-opacity="0.12"/><rect x="163.69" y="104.52" width="1.2" height="10.87" fill="#ee5a5a" fill-opacity="0.85"/><rect x="163.69" y="71.45" width="1.2" height="1.2" fill="#f07070" fill-opacity="0.8"/><rect x="166.60" y="41.80" width="1.2" height="6.34" fill="#ee5a5a" fill-opacity="0.7"/><rect x="166.60" y="39.09" width="1.2" height="2.71" fill="#ee5a5a" fill-opacity="0.12"/><rect x="166.60" y="27.91" width="1.2" height="11.18" fill="#ee5a5a" fill-opacity="0.85"/><rect x="166.60" y="95.97" width="1.2" height="6.34" fill="#ee5a5a" fill-opacity="0.7"/><rect x="166.60" y="102.30" width="1.2" height="2.71" fill="#ee5a5a" fill-opacity="0.12"/><rect x="166.60" y="105.01" width="1.2" height="11.18" fill="#ee5a5a" fill-opacity="0.85"/><rect x="166.60" y="71.45" width="1.2" height="1.2" fill="#f07070" fill-opacity="0.8"/></g>
<rect x="21.8" y="15.1" width="145.40" height="113.90" fill="none" stroke="#5a5a5a" stroke-width="1"/>
<text x="21.80" y="138.4" font-family="Liberation Serif" font-weight="bold" font-size="7.5" text-anchor="middle">0</text>
<text x="50.88" y="138.4" font-family="Liberation Serif" font-weight="bold" font-size="7.5" text-anchor="middle">2</text>
<text x="79.96" y="138.4" font-family="Liberation Serif" font-weight="bold" font-size="7.5" text-anchor="middle">4</text>
<text x="109.04" y="138.4" font-family="Liberation Serif" font-weight="bold" font-size="7.5" text-anchor="middle">6</text>
<text x="138.12" y="138.4" font-family="Liberation Serif" font-weight="bold" font-size="7.5" text-anchor="middle">8</text>
<text x="167.20" y="138.4" font-family="Liberation Serif" font-weight="bold" font-size="7.5" text-anchor="middle">10</text>
<text x="19.6" y="17.70" font-family="Liberation Serif" font-weight="bold" font-size="7.5" text-anchor="end">20</text>
<text x="19.6" y="46.18" font-family="Liberation Serif" font-weight="bold" font-size="7.5" text-anchor="end">10</text>
<text x="19.6" y="74.65" font-family="Liberation Serif" font-weight="bold" font-size="7.5" text-anchor="end">0</text>
<text x="19.6" y="103.12" font-family="Liberation Serif" font-weight="bold" font-size="7.5" text-anchor="end">-10</text>
<text x="19.6" y="131.60" font-family="Liberation Serif" font-weight="bold" font-size="7.5" text-anchor="end">-20</text>
<line x1="21.80" y1="129.0" x2="21.80" y2="127.5" stroke="#5a5a5a" stroke-width="0.8"/><line x1="21.80" y1="15.1" x2="21.80" y2="16.6" stroke="#5a5a5a" stroke-width="0.8"/><line x1="50.88" y1="129.0" x2="50.88" y2="127.5" stroke="#5a5a5a" stroke-width="0.8"/><line x1="50.88" y1="15.1" x2="50.88" y2="16.6" stroke="#5a5a5a" stroke-width="0.8"/><line x1="79.96" y1="129.0" x2="79.96" y2="127.5" stroke="#5a5a5a" stroke-width="0.8"/><line x1="79.96" y1="15.1" x2="79.96" y2="16.6" stroke="#5a5a5a" stroke-width="0.8"/><line x1="109.04" y1="129.0" x2="109.04" y2="127.5" stroke="#5a5a5a" stroke-width="0.8"/><line x1="109.04" y1="15.1" x2="109.04" y2="16.6" stroke="#5a5a5a" stroke-width="0.8"/><line x1="138.12" y1="129.0" x2="138.12" y2="127.5" stroke="#5a5a5a" stroke-width="0.8"/><line x1="138.12" y1="15.1" x2="138.12" y2="16.6" stroke="#5a5a5a" stroke-width="0.8"/><line x1="167.20" y1="129.0" x2="167.20" y2="127.5" stroke="#5a5a5a" stroke-width="0.8"/><line x1="167.20" y1="15.1" x2="167.20" y2="16.6" stroke="#5a5a5a" stroke-width="0.8"/><line x1="21.8" y1="15.10" x2="23.3" y2="15.10" stroke="#5a5a5a" stroke-width="0.8"/><line x1="167.2" y1="15.10" x2="165.7" y2="15.10" stroke="#5a5a5a" stroke-width="0.8"/><line x1="21.8" y1="43.58" x2="23.3" y2="43.58" stroke="#5a5a5a" stroke-width="0.8"/><line x1="167.2" y1="43.58" x2="165.7" y2="43.58" stroke="#5a5a5a" stroke-width="0.8"/><line x1="21.8" y1="72.05" x2="23.3" y2="72.05" stroke="#5a5a5a" stroke-width="0.8"/><line x1="167.2" y1="72.05" x2="165.7" y2="72.05" stroke="#5a5a5a" stroke-width="0.8"/><line x1="21.8" y1="100.52" x2="23.3" y2="100.52" stroke="#5a5a5a" stroke-width="0.8"/><line x1="167.2" y1="100.52" x2="165.7" y2="100.52" stroke="#5a5a5a" stroke-width="0.8"/><line x1="21.8" y1="129.00" x2="23.3" y2="129.00" stroke="#5a5a5a" stroke-width="0.8"/><line x1="167.2" y1="129.00" x2="165.7" y2="129.00" stroke="#5a5a5a" stroke-width="0.8"/>
<text x="94.3" y="148" font-family="Liberation Serif" font-weight="bold" font-style="italic" font-size="9.5" text-anchor="middle">g/χ</text>
<text transform="translate(10.2,71.7) rotate(-90)" font-family="Liberation Serif" font-weight="bold" font-style="italic" font-size="8.3" text-anchor="middle">E</text>
<text x="1" y="7.5" font-family="Liberation Serif" font-weight="bold" font-style="italic" font-size="9.7">(a)</text>
<rect x="194.2" y="13.2" width="144.80" height="116.10" fill="none" stroke="#5a5a5a" stroke-width="1"/>
<text x="194.20" y="138.5" font-family="Liberation Serif" font-weight="bold" font-size="7.5" text-anchor="middle">0</text>
<text x="223.16" y="138.5" font-family="Liberation Serif" font-weight="bold" font-size="7.5" text-anchor="middle">100</text>
<text x="252.12" y="138.5" font-family="Liberation Serif" font-weight="bold" font-size="7.5" text-anchor="middle">200</text>
<text x="281.08" y="138.5" font-family="Liberation Serif" font-weight="bold" font-size="7.5" text-anchor="middle">300</text>
<text x="310.04" y="138.5" font-family="Liberation Serif" font-weight="bold" font-size="7.5" text-anchor="middle">400</text>
<text x="339.00" y="138.5" font-family="Liberation Serif" font-weight="bold" font-size="7.5" text-anchor="middle">500</text>
<text x="191.8" y="16.30" font-family="Liberation Serif" font-weight="bold" font-size="7.5" text-anchor="end">15</text>
<text x="191.8" y="35.65" font-family="Liberation Serif" font-weight="bold" font-size="7.5" text-anchor="end">10</text>
<text x="191.8" y="55.00" font-family="Liberation Serif" font-weight="bold" font-size="7.5" text-anchor="end">5</text>
<text x="191.8" y="74.35" font-family="Liberation Serif" font-weight="bold" font-size="7.5" text-anchor="end">0</text>
<text x="191.8" y="93.70" font-family="Liberation Serif" font-weight="bold" font-size="7.5" text-anchor="end">-5</text>
<text x="191.8" y="113.05" font-family="Liberation Serif" font-weight="bold" font-size="7.5" text-anchor="end">-10</text>
<text x="191.8" y="132.40" font-family="Liberation Serif" font-weight="bold" font-size="7.5" text-anchor="end">-15</text>
<line x1="194.20" y1="129.3" x2="194.20" y2="127.80000000000001" stroke="#5a5a5a" stroke-width="0.8"/><line x1="194.20" y1="13.2" x2="194.20" y2="14.7" stroke="#5a5a5a" stroke-width="0.8"/><line x1="223.16" y1="129.3" x2="223.16" y2="127.80000000000001" stroke="#5a5a5a" stroke-width="0.8"/><line x1="223.16" y1="13.2" x2="223.16" y2="14.7" stroke="#5a5a5a" stroke-width="0.8"/><line x1="252.12" y1="129.3" x2="252.12" y2="127.80000000000001" stroke="#5a5a5a" stroke-width="0.8"/><line x1="252.12" y1="13.2" x2="252.12" y2="14.7" stroke="#5a5a5a" stroke-width="0.8"/><line x1="281.08" y1="129.3" x2="281.08" y2="127.80000000000001" stroke="#5a5a5a" stroke-width="0.8"/><line x1="281.08" y1="13.2" x2="281.08" y2="14.7" stroke="#5a5a5a" stroke-width="0.8"/><line x1="310.04" y1="129.3" x2="310.04" y2="127.80000000000001" stroke="#5a5a5a" stroke-width="0.8"/><line x1="310.04" y1="13.2" x2="310.04" y2="14.7" stroke="#5a5a5a" stroke-width="0.8"/><line x1="339.00" y1="129.3" x2="339.00" y2="127.80000000000001" stroke="#5a5a5a" stroke-width="0.8"/><line x1="339.00" y1="13.2" x2="339.00" y2="14.7" stroke="#5a5a5a" stroke-width="0.8"/><line x1="194.2" y1="13.20" x2="195.7" y2="13.20" stroke="#5a5a5a" stroke-width="0.8"/><line x1="339.0" y1="13.20" x2="337.5" y2="13.20" stroke="#5a5a5a" stroke-width="0.8"/><line x1="194.2" y1="32.55" x2="195.7" y2="32.55" stroke="#5a5a5a" stroke-width="0.8"/><line x1="339.0" y1="32.55" x2="337.5" y2="32.55" stroke="#5a5a5a" stroke-width="0.8"/><line x1="194.2" y1="51.90" x2="195.7" y2="51.90" stroke="#5a5a5a" stroke-width="0.8"/><line x1="339.0" y1="51.90" x2="337.5" y2="51.90" stroke="#5a5a5a" stroke-width="0.8"/><line x1="194.2" y1="71.25" x2="195.7" y2="71.25" stroke="#5a5a5a" stroke-width="0.8"/><line x1="339.0" y1="71.25" x2="337.5" y2="71.25" stroke="#5a5a5a" stroke-width="0.8"/><line x1="194.2" y1="90.60" x2="195.7" y2="90.60" stroke="#5a5a5a" stroke-width="0.8"/><line x1="339.0" y1="90.60" x2="337.5" y2="90.60" stroke="#5a5a5a" stroke-width="0.8"/><line x1="194.2" y1="109.95" x2="195.7" y2="109.95" stroke="#5a5a5a" stroke-width="0.8"/><line x1="339.0" y1="109.95" x2="337.5" y2="109.95" stroke="#5a5a5a" stroke-width="0.8"/><line x1="194.2" y1="129.30" x2="195.7" y2="129.30" stroke="#5a5a5a" stroke-width="0.8"/><line x1="339.0" y1="129.30" x2="337.5" y2="129.30" stroke="#5a5a5a" stroke-width="0.8"/>
<polyline points="194.50,120.00 202.00,117.90 210.00,116.40 220.00,115.00 230.00,113.90 238.00,112.90 244.00,111.90 249.00,110.70 252.00,109.60" fill="none" stroke="#b02020" stroke-width="2.2" stroke-linecap="round" stroke-linejoin="round"/>
<polyline points="194.50,120.00 202.00,117.90 210.00,116.40 220.00,115.00 230.00,113.90 238.00,112.90 244.00,111.90 249.00,110.70 252.00,109.60" fill="none" stroke="#1a0505" stroke-width="1.55" stroke-linecap="round" stroke-linejoin="round"/>
<polyline points="252.10,106.20 256.00,103.50 260.00,100.60 264.10,98.40" fill="none" stroke="#b02020" stroke-width="2.2" stroke-linecap="round" stroke-linejoin="round"/>
<polyline points="252.10,106.20 256.00,103.50 260.00,100.60 264.10,98.40" fill="none" stroke="#1a0505" stroke-width="1.55" stroke-linecap="round" stroke-linejoin="round"/>
<polyline points="334.70,22.60 327.20,24.70 319.20,26.20 309.20,27.60 299.20,28.70 291.20,29.70 285.20,30.70 280.20,31.90 277.20,33.00" fill="none" stroke="#b02020" stroke-width="2.2" stroke-linecap="round" stroke-linejoin="round"/>
<polyline points="334.70,22.60 327.20,24.70 319.20,26.20 309.20,27.60 299.20,28.70 291.20,29.70 285.20,30.70 280.20,31.90 277.20,33.00" fill="none" stroke="#1a0505" stroke-width="1.55" stroke-linecap="round" stroke-linejoin="round"/>
<polyline points="277.10,36.40 273.20,39.10 269.20,42.00 265.10,44.20" fill="none" stroke="#b02020" stroke-width="2.2" stroke-linecap="round" stroke-linejoin="round"/>
<polyline points="277.10,36.40 273.20,39.10 269.20,42.00 265.10,44.20" fill="none" stroke="#1a0505" stroke-width="1.55" stroke-linecap="round" stroke-linejoin="round"/>
<circle cx="264.6" cy="71.3" r="1.3" fill="#3a0a0a" stroke="#c02020" stroke-width="0.5"/>
<text x="269.5" y="149.2" font-family="Liberation Serif" font-weight="bold" font-style="italic" font-size="8.8" letter-spacing="0.35" text-anchor="middle">Number</text>
<text transform="translate(180.9,71.7) rotate(-90)" font-family="Liberation Serif" font-weight="bold" font-style="italic" font-size="8.3" text-anchor="middle">E</text>
<text x="171" y="7.7" font-family="Liberation Serif" font-weight="bold" font-style="italic" font-size="9.7">(b)</text>
<text x="201.2" y="27.7" font-family="Liberation Serif" font-weight="bold" font-size="9"><tspan font-style="italic">g</tspan>=8</text>
<text x="201.2" y="38.2" font-family="Liberation Serif" font-weight="bold" font-size="9"><tspan font-style="italic">χ</tspan>=1</text>
<line x1="22.60" y1="244.55" x2="22.60" y2="177.80" stroke="#e6e6e6" stroke-width="0.8"/><line x1="30.81" y1="242.24" x2="30.81" y2="175.49" stroke="#e6e6e6" stroke-width="0.8"/><line x1="39.03" y1="239.93" x2="39.03" y2="173.18" stroke="#e6e6e6" stroke-width="0.8"/><line x1="47.24" y1="237.62" x2="47.24" y2="170.87" stroke="#e6e6e6" stroke-width="0.8"/><line x1="55.46" y1="235.31" x2="55.46" y2="168.56" stroke="#e6e6e6" stroke-width="0.8"/><line x1="63.67" y1="233.00" x2="63.67" y2="166.25" stroke="#e6e6e6" stroke-width="0.8"/><line x1="71.89" y1="230.69" x2="71.89" y2="163.94" stroke="#e6e6e6" stroke-width="0.8"/><line x1="80.10" y1="228.38" x2="80.10" y2="161.63" stroke="#e6e6e6" stroke-width="0.8"/><line x1="88.32" y1="226.07" x2="88.32" y2="159.32" stroke="#e6e6e6" stroke-width="0.8"/><line x1="96.53" y1="223.76" x2="96.53" y2="157.01" stroke="#e6e6e6" stroke-width="0.8"/><line x1="104.75" y1="221.45" x2="104.75" y2="154.70" stroke="#e6e6e6" stroke-width="0.8"/><line x1="167.75" y1="252.00" x2="167.75" y2="185.25" stroke="#e6e6e6" stroke-width="0.8"/><line x1="161.45" y1="248.95" x2="161.45" y2="182.20" stroke="#e6e6e6" stroke-width="0.8"/><line x1="155.15" y1="245.89" x2="155.15" y2="179.14" stroke="#e6e6e6" stroke-width="0.8"/><line x1="148.85" y1="242.84" x2="148.85" y2="176.09" stroke="#e6e6e6" stroke-width="0.8"/><line x1="142.55" y1="239.78" x2="142.55" y2="173.03" stroke="#e6e6e6" stroke-width="0.8"/><line x1="136.25" y1="236.73" x2="136.25" y2="169.98" stroke="#e6e6e6" stroke-width="0.8"/><line x1="129.95" y1="233.67" x2="129.95" y2="166.92" stroke="#e6e6e6" stroke-width="0.8"/><line x1="123.65" y1="230.62" x2="123.65" y2="163.87" stroke="#e6e6e6" stroke-width="0.8"/><line x1="117.35" y1="227.56" x2="117.35" y2="160.81" stroke="#e6e6e6" stroke-width="0.8"/><line x1="111.05" y1="224.51" x2="111.05" y2="157.76" stroke="#e6e6e6" stroke-width="0.8"/><line x1="104.75" y1="221.45" x2="104.75" y2="154.70" stroke="#e6e6e6" stroke-width="0.8"/><polyline points="22.60,177.80 104.75,154.70 167.75,185.25" fill="none" stroke="#e6e6e6" stroke-width="0.8"/><polyline points="22.60,211.18 104.75,188.08 167.75,218.63" fill="none" stroke="#e6e6e6" stroke-width="0.8"/><polyline points="22.60,244.55 104.75,221.45 167.75,252.00" fill="none" stroke="#e6e6e6" stroke-width="0.8"/><line x1="85.60" y1="275.10" x2="22.60" y2="244.55" stroke="#e6e6e6" stroke-width="0.8"/><line x1="93.81" y1="272.79" x2="30.81" y2="242.24" stroke="#e6e6e6" stroke-width="0.8"/><line x1="102.03" y1="270.48" x2="39.03" y2="239.93" stroke="#e6e6e6" stroke-width="0.8"/><line x1="110.24" y1="268.17" x2="47.24" y2="237.62" stroke="#e6e6e6" stroke-width="0.8"/><line x1="118.46" y1="265.86" x2="55.46" y2="235.31" stroke="#e6e6e6" stroke-width="0.8"/><line x1="126.67" y1="263.55" x2="63.67" y2="233.00" stroke="#e6e6e6" stroke-width="0.8"/><line x1="134.89" y1="261.24" x2="71.89" y2="230.69" stroke="#e6e6e6" stroke-width="0.8"/><line x1="143.10" y1="258.93" x2="80.10" y2="228.38" stroke="#e6e6e6" stroke-width="0.8"/><line x1="151.32" y1="256.62" x2="88.32" y2="226.07" stroke="#e6e6e6" stroke-width="0.8"/><line x1="159.53" y1="254.31" x2="96.53" y2="223.76" stroke="#e6e6e6" stroke-width="0.8"/><line x1="167.75" y1="252.00" x2="104.75" y2="221.45" stroke="#e6e6e6" stroke-width="0.8"/><line x1="85.60" y1="275.10" x2="167.75" y2="252.00" stroke="#e6e6e6" stroke-width="0.8"/><line x1="79.30" y1="272.05" x2="161.45" y2="248.95" stroke="#e6e6e6" stroke-width="0.8"/><line x1="73.00" y1="268.99" x2="155.15" y2="245.89" stroke="#e6e6e6" stroke-width="0.8"/><line x1="66.70" y1="265.94" x2="148.85" y2="242.84" stroke="#e6e6e6" stroke-width="0.8"/><line x1="60.40" y1="262.88" x2="142.55" y2="239.78" stroke="#e6e6e6" stroke-width="0.8"/><line x1="54.10" y1="259.83" x2="136.25" y2="236.73" stroke="#e6e6e6" stroke-width="0.8"/><line x1="47.80" y1="256.77" x2="129.95" y2="233.67" stroke="#e6e6e6" stroke-width="0.8"/><line x1="41.50" y1="253.72" x2="123.65" y2="230.62" stroke="#e6e6e6" stroke-width="0.8"/><line x1="35.20" y1="250.66" x2="117.35" y2="227.56" stroke="#e6e6e6" stroke-width="0.8"/><line x1="28.90" y1="247.61" x2="111.05" y2="224.51" stroke="#e6e6e6" stroke-width="0.8"/><line x1="22.60" y1="244.55" x2="104.75" y2="221.45" stroke="#e6e6e6" stroke-width="0.8"/><line x1="22.60" y1="244.55" x2="104.75" y2="221.45" stroke="#5a5a5a" stroke-width="1.0"/><line x1="104.75" y1="221.45" x2="167.75" y2="252.00" stroke="#5a5a5a" stroke-width="1.0"/><line x1="22.60" y1="244.55" x2="85.60" y2="275.10" stroke="#5a5a5a" stroke-width="1.0"/><line x1="85.60" y1="275.10" x2="167.75" y2="252.00" stroke="#5a5a5a" stroke-width="1.0"/><line x1="22.60" y1="244.55" x2="22.60" y2="177.80" stroke="#5a5a5a" stroke-width="1.0"/><line x1="104.75" y1="221.45" x2="104.75" y2="154.70" stroke="#5a5a5a" stroke-width="1.0"/><line x1="167.75" y1="252.00" x2="167.75" y2="185.25" stroke="#5a5a5a" stroke-width="1.0"/><line x1="22.60" y1="177.80" x2="104.75" y2="154.70" stroke="#5a5a5a" stroke-width="1.0"/><line x1="104.75" y1="154.70" x2="167.75" y2="185.25" stroke="#5a5a5a" stroke-width="1.0"/><line x1="85.60" y1="275.10" x2="84.20" y2="275.50" stroke="#5a5a5a" stroke-width="0.8"/><line x1="79.30" y1="272.05" x2="77.90" y2="272.44" stroke="#5a5a5a" stroke-width="0.8"/><line x1="73.00" y1="268.99" x2="71.60" y2="269.39" stroke="#5a5a5a" stroke-width="0.8"/><line x1="66.70" y1="265.94" x2="65.30" y2="266.33" stroke="#5a5a5a" stroke-width="0.8"/><line x1="60.40" y1="262.88" x2="59.00" y2="263.28" stroke="#5a5a5a" stroke-width="0.8"/><line x1="54.10" y1="259.83" x2="52.70" y2="260.23" stroke="#5a5a5a" stroke-width="0.8"/><line x1="47.80" y1="256.77" x2="46.40" y2="257.17" stroke="#5a5a5a" stroke-width="0.8"/><line x1="41.50" y1="253.72" x2="40.10" y2="254.12" stroke="#5a5a5a" stroke-width="0.8"/><line x1="35.20" y1="250.66" x2="33.80" y2="251.06" stroke="#5a5a5a" stroke-width="0.8"/><line x1="28.90" y1="247.61" x2="27.50" y2="248.01" stroke="#5a5a5a" stroke-width="0.8"/><line x1="22.60" y1="244.55" x2="21.20" y2="244.95" stroke="#5a5a5a" stroke-width="0.8"/><line x1="85.60" y1="275.10" x2="86.10" y2="276.50" stroke="#5a5a5a" stroke-width="0.8"/><line x1="93.81" y1="272.79" x2="94.31" y2="274.19" stroke="#5a5a5a" stroke-width="0.8"/><line x1="102.03" y1="270.48" x2="102.53" y2="271.88" stroke="#5a5a5a" stroke-width="0.8"/><line x1="110.24" y1="268.17" x2="110.74" y2="269.57" stroke="#5a5a5a" stroke-width="0.8"/><line x1="118.46" y1="265.86" x2="118.96" y2="267.26" stroke="#5a5a5a" stroke-width="0.8"/><line x1="126.67" y1="263.55" x2="127.17" y2="264.95" stroke="#5a5a5a" stroke-width="0.8"/><line x1="134.89" y1="261.24" x2="135.39" y2="262.64" stroke="#5a5a5a" stroke-width="0.8"/><line x1="143.10" y1="258.93" x2="143.60" y2="260.33" stroke="#5a5a5a" stroke-width="0.8"/><line x1="151.32" y1="256.62" x2="151.82" y2="258.02" stroke="#5a5a5a" stroke-width="0.8"/><line x1="159.53" y1="254.31" x2="160.03" y2="255.71" stroke="#5a5a5a" stroke-width="0.8"/><line x1="167.75" y1="252.00" x2="168.25" y2="253.40" stroke="#5a5a5a" stroke-width="0.8"/><line x1="22.60" y1="177.80" x2="20.60" y2="177.80" stroke="#5a5a5a" stroke-width="0.8"/><line x1="22.60" y1="211.18" x2="20.60" y2="211.18" stroke="#5a5a5a" stroke-width="0.8"/><line x1="22.60" y1="244.55" x2="20.60" y2="244.55" stroke="#5a5a5a" stroke-width="0.8"/>
<g stroke-linejoin="round"><polygon points="22.6,211.2 104.8,188.1 167.8,218.6 85.6,241.7" fill="#33b8a1"/><polygon points="103.8,188.8 100.6,184.6 107.9,184.9" fill="url(#g1)" stroke="url(#g1)" stroke-width="0.3"/><polygon points="100.6,184.6 104.8,156.0 107.9,184.9" fill="url(#g2)" stroke="url(#g2)" stroke-width="0.3"/><polygon points="103.8,188.8 100.6,184.6 104.8,156.0 107.9,184.9" fill="none" stroke="#000" stroke-opacity="0.18" stroke-width="0.35"/><polygon points="106.9,192.3 103.8,188.8 111.1,191.1" fill="url(#g3)" stroke="url(#g3)" stroke-width="0.3"/><polygon points="103.8,188.8 107.9,184.9 111.1,191.1" fill="url(#g4)" stroke="url(#g4)" stroke-width="0.3"/><polygon points="106.9,192.3 103.8,188.8 107.9,184.9 111.1,191.1" fill="none" stroke="#000" stroke-opacity="0.18" stroke-width="0.35"/><polygon points="99.7,191.9 96.5,190.4 103.8,188.8" fill="url(#g5)" stroke="url(#g5)" stroke-width="0.3"/><polygon points="96.5,190.4 100.6,184.6 103.8,188.8" fill="url(#g6)" stroke="url(#g6)" stroke-width="0.3"/><polygon points="99.7,191.9 96.5,190.4 100.6,184.6 103.8,188.8" fill="none" stroke="#000" stroke-opacity="0.18" stroke-width="0.35"/><polygon points="110.1,193.8 106.9,192.3 111.1,191.1 114.2,192.7" fill="#33b8a1" stroke="#0d6e5a" stroke-opacity="0.45" stroke-width="0.35"/><polygon points="102.8,193.4 99.7,191.9 106.9,192.3" fill="#33b8a1" stroke="#33b8a1" stroke-width="0.3"/><polygon points="99.7,191.9 103.8,188.8 106.9,192.3" fill="url(#g7)" stroke="url(#g7)" stroke-width="0.3"/><polygon points="102.8,193.4 99.7,191.9 103.8,188.8 106.9,192.3" fill="none" stroke="#000" stroke-opacity="0.18" stroke-width="0.35"/><polygon points="95.6,193.1 92.4,191.5 96.5,190.4 99.7,191.9" fill="#33b8a1" stroke="#0d6e5a" stroke-opacity="0.45" stroke-width="0.35"/><polygon points="113.2,195.3 110.1,193.8 114.2,192.7 117.3,194.2" fill="#33b8a1" stroke="#0d6e5a" stroke-opacity="0.45" stroke-width="0.35"/><polygon points="106.0,195.0 102.8,193.4 106.9,192.3 110.1,193.8" fill="#33b8a1" stroke="#0d6e5a" stroke-opacity="0.45" stroke-width="0.35"/><polygon points="98.7,194.6 95.6,193.1 99.7,191.9 102.8,193.4" fill="#33b8a1" stroke="#0d6e5a" stroke-opacity="0.45" stroke-width="0.35"/><polygon points="91.5,194.2 88.3,192.7 92.4,191.5 95.6,193.1" fill="#33b8a1" stroke="#0d6e5a" stroke-opacity="0.45" stroke-width="0.35"/><polygon points="116.4,196.9 113.2,195.3 117.3,194.2 120.5,195.7" fill="#33b8a1" stroke="#0d6e5a" stroke-opacity="0.45" stroke-width="0.35"/><polygon points="109.1,196.5 106.0,195.0 110.1,193.8 113.2,195.3" fill="#33b8a1" stroke="#0d6e5a" stroke-opacity="0.45" stroke-width="0.35"/><polygon points="101.9,196.1 98.7,194.6 102.8,193.4 106.0,195.0" fill="#33b8a1" stroke="#0d6e5a" stroke-opacity="0.45" stroke-width="0.35"/><polygon points="94.6,195.8 91.5,194.2 95.6,193.1 98.7,194.6" fill="#33b8a1" stroke="#0d6e5a" stroke-opacity="0.45" stroke-width="0.35"/><polygon points="87.4,195.4 84.2,193.9 88.3,192.7 91.5,194.2" fill="#33b8a1" stroke="#0d6e5a" stroke-opacity="0.45" stroke-width="0.35"/><polygon points="119.5,198.4 116.4,196.9 120.5,195.7 123.7,197.2" fill="#33b8a1" stroke="#0d6e5a" stroke-opacity="0.45" stroke-width="0.35"/><polygon points="112.3,198.0 109.1,196.5 113.2,195.3 116.4,196.9" fill="#33b8a1" stroke="#0d6e5a" stroke-opacity="0.45" stroke-width="0.35"/><polygon points="105.0,197.7 101.9,196.1 106.0,195.0 109.1,196.5" fill="#33b8a1" stroke="#0d6e5a" stroke-opacity="0.45" stroke-width="0.35"/><polygon points="97.8,197.3 94.6,195.8 98.7,194.6 101.9,196.1" fill="#33b8a1" stroke="#0d6e5a" stroke-opacity="0.45" stroke-width="0.35"/><polygon points="90.5,196.9 87.4,195.4 91.5,194.2 94.6,195.8" fill="#33b8a1" stroke="#0d6e5a" stroke-opacity="0.45" stroke-width="0.35"/><polygon points="83.3,196.5 80.1,195.0 84.2,193.9 87.4,195.4" fill="#33b8a1" stroke="#0d6e5a" stroke-opacity="0.45" stroke-width="0.35"/><polygon points="122.7,199.9 119.5,198.4 123.7,197.2 126.8,198.8" fill="#33b8a1" stroke="#0d6e5a" stroke-opacity="0.45" stroke-width="0.35"/><polygon points="115.4,199.6 112.3,198.0 116.4,196.9 119.5,198.4" fill="#33b8a1" stroke="#0d6e5a" stroke-opacity="0.45" stroke-width="0.35"/><polygon points="108.2,199.2 105.0,197.7 109.1,196.5 112.3,198.0" fill="#33b8a1" stroke="#0d6e5a" stroke-opacity="0.45" stroke-width="0.35"/><polygon points="100.9,198.8 97.8,197.3 101.9,196.1 105.0,197.7" fill="#33b8a1" stroke="#0d6e5a" stroke-opacity="0.45" stroke-width="0.35"/><polygon points="93.7,198.4 90.5,196.9 94.6,195.8 97.8,197.3" fill="#33b8a1" stroke="#0d6e5a" stroke-opacity="0.45" stroke-width="0.35"/><polygon points="86.4,198.1 83.3,196.5 87.4,195.4 90.5,196.9" fill="#33b8a1" stroke="#0d6e5a" stroke-opacity="0.45" stroke-width="0.35"/><polygon points="79.1,197.7 76.0,196.2 80.1,195.0 83.3,196.5" fill="#33b8a1" stroke="#0d6e5a" stroke-opacity="0.45" stroke-width="0.35"/><polygon points="125.8,201.5 122.7,199.9 126.8,198.8 129.9,200.3" fill="#33b8a1" stroke="#0d6e5a" stroke-opacity="0.45" stroke-width="0.35"/><polygon points="118.6,201.1 115.4,199.6 119.5,198.4 122.7,199.9" fill="#33b8a1" stroke="#0d6e5a" stroke-opacity="0.45" stroke-width="0.35"/><polygon points="111.3,200.7 108.2,199.2 112.3,198.0 115.4,199.6" fill="#33b8a1" stroke="#0d6e5a" stroke-opacity="0.45" stroke-width="0.35"/><polygon points="104.1,200.3 100.9,198.8 105.0,197.7 108.2,199.2" fill="#33b8a1" stroke="#0d6e5a" stroke-opacity="0.45" stroke-width="0.35"/><polygon points="96.8,200.0 93.7,198.4 97.8,197.3 100.9,198.8" fill="#33b8a1" stroke="#0d6e5a" stroke-opacity="0.45" stroke-width="0.35"/><polygon points="89.6,199.6 86.4,198.1 90.5,196.9 93.7,198.4" fill="#33b8a1" stroke="#0d6e5a" stroke-opacity="0.45" stroke-width="0.35"/><polygon points="82.3,199.2 79.1,197.7 83.3,196.5 86.4,198.1" fill="#33b8a1" stroke="#0d6e5a" stroke-opacity="0.45" stroke-width="0.35"/><polygon points="75.0,198.8 71.9,197.3 76.0,196.2 79.1,197.7" fill="#33b8a1" stroke="#0d6e5a" stroke-opacity="0.45" stroke-width="0.35"/><polygon points="129.0,203.0 125.8,201.5 129.9,200.3 133.1,201.8" fill="#33b8a1" stroke="#0d6e5a" stroke-opacity="0.45" stroke-width="0.35"/><polygon points="121.7,202.6 118.6,201.1 122.7,199.9 125.8,201.5" fill="#33b8a1" stroke="#0d6e5a" stroke-opacity="0.45" stroke-width="0.35"/><polygon points="114.5,202.2 111.3,200.7 115.4,199.6 118.6,201.1" fill="#33b8a1" stroke="#0d6e5a" stroke-opacity="0.45" stroke-width="0.35"/><polygon points="107.2,201.9 104.1,200.3 108.2,199.2 111.3,200.7" fill="#33b8a1" stroke="#0d6e5a" stroke-opacity="0.45" stroke-width="0.35"/><polygon points="100.0,201.5 96.8,200.0 100.9,198.8 104.1,200.3" fill="#33b8a1" stroke="#0d6e5a" stroke-opacity="0.45" stroke-width="0.35"/><polygon points="92.7,201.1 89.6,199.6 93.7,198.4 96.8,200.0" fill="#33b8a1" stroke="#0d6e5a" stroke-opacity="0.45" stroke-width="0.35"/><polygon points="85.4,200.7 82.3,199.2 86.4,198.1 89.6,199.6" fill="#33b8a1" stroke="#0d6e5a" stroke-opacity="0.45" stroke-width="0.35"/><polygon points="78.2,200.4 75.0,198.8 79.1,197.7 82.3,199.2" fill="#33b8a1" stroke="#0d6e5a" stroke-opacity="0.45" stroke-width="0.35"/><polygon points="70.9,200.0 67.8,198.5 71.9,197.3 75.0,198.8" fill="#33b8a1" stroke="#0d6e5a" stroke-opacity="0.45" stroke-width="0.35"/><polygon points="132.1,204.5 129.0,203.0 133.1,201.8 136.2,203.4" fill="#33b8a1" stroke="#0d6e5a" stroke-opacity="0.45" stroke-width="0.35"/><polygon points="124.9,204.1 121.7,202.6 125.8,201.5 129.0,203.0" fill="#33b8a1" stroke="#0d6e5a" stroke-opacity="0.45" stroke-width="0.35"/><polygon points="117.6,203.8 114.5,202.2 118.6,201.1 121.7,202.6" fill="#33b8a1" stroke="#0d6e5a" stroke-opacity="0.45" stroke-width="0.35"/><polygon points="110.4,203.4 107.2,201.9 111.3,200.7 114.5,202.2" fill="#33b8a1" stroke="#0d6e5a" stroke-opacity="0.45" stroke-width="0.35"/><polygon points="103.1,203.0 100.0,201.5 104.1,200.3 107.2,201.9" fill="#33b8a1" stroke="#0d6e5a" stroke-opacity="0.45" stroke-width="0.35"/><polygon points="95.9,202.6 92.7,201.1 96.8,200.0 100.0,201.5" fill="#33b8a1" stroke="#0d6e5a" stroke-opacity="0.45" stroke-width="0.35"/><polygon points="88.6,202.3 85.4,200.7 89.6,199.6 92.7,201.1" fill="#33b8a1" stroke="#0d6e5a" stroke-opacity="0.45" stroke-width="0.35"/><polygon points="81.3,201.9 78.2,200.4 82.3,199.2 85.4,200.7" fill="#33b8a1" stroke="#0d6e5a" stroke-opacity="0.45" stroke-width="0.35"/><polygon points="74.1,201.5 70.9,200.0 75.0,198.8 78.2,200.4" fill="#33b8a1" stroke="#0d6e5a" stroke-opacity="0.45" stroke-width="0.35"/><polygon points="66.8,201.2 63.7,199.6 67.8,198.5 70.9,200.0" fill="#33b8a1" stroke="#0d6e5a" stroke-opacity="0.45" stroke-width="0.35"/><polygon points="135.3,206.0 132.1,204.5 136.2,203.4 139.4,204.9" fill="#33b8a1" stroke="#0d6e5a" stroke-opacity="0.45" stroke-width="0.35"/><polygon points="128.0,205.7 124.9,204.1 129.0,203.0 132.1,204.5" fill="#33b8a1" stroke="#0d6e5a" stroke-opacity="0.45" stroke-width="0.35"/><polygon points="120.8,205.3 117.6,203.8 121.7,202.6 124.9,204.1" fill="#33b8a1" stroke="#0d6e5a" stroke-opacity="0.45" stroke-width="0.35"/><polygon points="113.5,204.9 110.4,203.4 114.5,202.2 117.6,203.8" fill="#33b8a1" stroke="#0d6e5a" stroke-opacity="0.45" stroke-width="0.35"/><polygon points="106.3,204.5 103.1,203.0 107.2,201.9 110.4,203.4" fill="#33b8a1" stroke="#0d6e5a" stroke-opacity="0.45" stroke-width="0.35"/><polygon points="99.0,204.2 95.9,202.6 100.0,201.5 103.1,203.0" fill="#33b8a1" stroke="#0d6e5a" stroke-opacity="0.45" stroke-width="0.35"/><polygon points="91.7,203.8 88.6,202.3 92.7,201.1 95.9,202.6" fill="#33b8a1" stroke="#0d6e5a" stroke-opacity="0.45" stroke-width="0.35"/><polygon points="84.5,203.4 81.3,201.9 85.4,200.7 88.6,202.3" fill="#33b8a1" stroke="#0d6e5a" stroke-opacity="0.45" stroke-width="0.35"/><polygon points="77.2,203.1 74.1,201.5 78.2,200.4 81.3,201.9" fill="#33b8a1" stroke="#0d6e5a" stroke-opacity="0.45" stroke-width="0.35"/><polygon points="70.0,202.7 66.8,201.2 70.9,200.0 74.1,201.5" fill="#33b8a1" stroke="#0d6e5a" stroke-opacity="0.45" stroke-width="0.35"/><polygon points="62.7,202.3 59.6,200.8 63.7,199.6 66.8,201.2" fill="#33b8a1" stroke="#0d6e5a" stroke-opacity="0.45" stroke-width="0.35"/><polygon points="138.4,207.6 135.3,206.0 139.4,204.9 142.6,206.4" fill="#33b8a1" stroke="#0d6e5a" stroke-opacity="0.45" stroke-width="0.35"/><polygon points="131.2,207.2 128.0,205.7 132.1,204.5 135.3,206.0" fill="#33b8a1" stroke="#0d6e5a" stroke-opacity="0.45" stroke-width="0.35"/><polygon points="123.9,206.8 120.8,205.3 124.9,204.1 128.0,205.7" fill="#33b8a1" stroke="#0d6e5a" stroke-opacity="0.45" stroke-width="0.35"/><polygon points="116.7,206.4 113.5,204.9 117.6,203.8 120.8,205.3" fill="#33b8a1" stroke="#0d6e5a" stroke-opacity="0.45" stroke-width="0.35"/><polygon points="109.4,206.1 106.3,204.5 110.4,203.4 113.5,204.9" fill="#33b8a1" stroke="#0d6e5a" stroke-opacity="0.45" stroke-width="0.35"/><polygon points="102.2,205.7 99.0,204.2 103.1,203.0 106.3,204.5" fill="#33b8a1" stroke="#0d6e5a" stroke-opacity="0.45" stroke-width="0.35"/><polygon points="94.9,205.3 91.7,203.8 95.9,202.6 99.0,204.2" fill="#33b8a1" stroke="#0d6e5a" stroke-opacity="0.45" stroke-width="0.35"/><polygon points="87.6,205.0 84.5,203.4 88.6,202.3 91.7,203.8" fill="#33b8a1" stroke="#0d6e5a" stroke-opacity="0.45" stroke-width="0.35"/><polygon points="80.4,204.6 77.2,203.1 81.3,201.9 84.5,203.4" fill="#33b8a1" stroke="#0d6e5a" stroke-opacity="0.45" stroke-width="0.35"/><polygon points="73.1,204.2 70.0,202.7 74.1,201.5 77.2,203.1" fill="#33b8a1" stroke="#0d6e5a" stroke-opacity="0.45" stroke-width="0.35"/><polygon points="65.9,203.8 62.7,202.3 66.8,201.2 70.0,202.7" fill="#33b8a1" stroke="#0d6e5a" stroke-opacity="0.45" stroke-width="0.35"/><polygon points="58.6,203.5 55.5,201.9 59.6,200.8 62.7,202.3" fill="#33b8a1" stroke="#0d6e5a" stroke-opacity="0.45" stroke-width="0.35"/><polygon points="141.6,209.1 138.4,207.6 142.6,206.4 145.7,207.9" fill="#33b8a1" stroke="#0d6e5a" stroke-opacity="0.45" stroke-width="0.35"/><polygon points="134.3,208.7 131.2,207.2 135.3,206.0 138.4,207.6" fill="#33b8a1" stroke="#0d6e5a" stroke-opacity="0.45" stroke-width="0.35"/><polygon points="127.1,208.3 123.9,206.8 128.0,205.7 131.2,207.2" fill="#33b8a1" stroke="#0d6e5a" stroke-opacity="0.45" stroke-width="0.35"/><polygon points="119.8,208.0 116.7,206.4 120.8,205.3 123.9,206.8" fill="#33b8a1" stroke="#0d6e5a" stroke-opacity="0.45" stroke-width="0.35"/><polygon points="112.6,207.6 109.4,206.1 113.5,204.9 116.7,206.4" fill="#33b8a1" stroke="#0d6e5a" stroke-opacity="0.45" stroke-width="0.35"/><polygon points="105.3,207.2 102.2,205.7 106.3,204.5 109.4,206.1" fill="#33b8a1" stroke="#0d6e5a" stroke-opacity="0.45" stroke-width="0.35"/><polygon points="98.0,206.9 94.9,205.3 99.0,204.2 102.2,205.7" fill="#33b8a1" stroke="#0d6e5a" stroke-opacity="0.45" stroke-width="0.35"/><polygon points="90.8,206.5 87.6,205.0 91.7,203.8 94.9,205.3" fill="#33b8a1" stroke="#0d6e5a" stroke-opacity="0.45" stroke-width="0.35"/><polygon points="83.5,206.1 80.4,204.6 84.5,203.4 87.6,205.0" fill="#33b8a1" stroke="#0d6e5a" stroke-opacity="0.45" stroke-width="0.35"/><polygon points="76.3,205.7 73.1,204.2 77.2,203.1 80.4,204.6" fill="#33b8a1" stroke="#0d6e5a" stroke-opacity="0.45" stroke-width="0.35"/><polygon points="69.0,205.4 65.9,203.8 70.0,202.7 73.1,204.2" fill="#33b8a1" stroke="#0d6e5a" stroke-opacity="0.45" stroke-width="0.35"/><polygon points="61.8,205.0 58.6,203.5 62.7,202.3 65.9,203.8" fill="#33b8a1" stroke="#0d6e5a" stroke-opacity="0.45" stroke-width="0.35"/><polygon points="54.5,204.6 51.4,203.1 55.5,201.9 58.6,203.5" fill="#33b8a1" stroke="#0d6e5a" stroke-opacity="0.45" stroke-width="0.35"/><polygon points="144.7,210.6 141.6,209.1 145.7,207.9 148.8,209.5" fill="#33b8a1" stroke="#0d6e5a" stroke-opacity="0.45" stroke-width="0.35"/><polygon points="137.5,210.2 134.3,208.7 138.4,207.6 141.6,209.1" fill="#33b8a1" stroke="#0d6e5a" stroke-opacity="0.45" stroke-width="0.35"/><polygon points="130.2,209.9 127.1,208.3 131.2,207.2 134.3,208.7" fill="#33b8a1" stroke="#0d6e5a" stroke-opacity="0.45" stroke-width="0.35"/><polygon points="123.0,209.5 119.8,208.0 123.9,206.8 127.1,208.3" fill="#33b8a1" stroke="#0d6e5a" stroke-opacity="0.45" stroke-width="0.35"/><polygon points="115.7,209.1 112.6,207.6 116.7,206.4 119.8,208.0" fill="#33b8a1" stroke="#0d6e5a" stroke-opacity="0.45" stroke-width="0.35"/><polygon points="108.5,208.8 105.3,207.2 109.4,206.1 112.6,207.6" fill="#33b8a1" stroke="#0d6e5a" stroke-opacity="0.45" stroke-width="0.35"/><polygon points="101.2,208.4 98.0,206.9 102.2,205.7 105.3,207.2" fill="#33b8a1" stroke="#0d6e5a" stroke-opacity="0.45" stroke-width="0.35"/><polygon points="93.9,208.0 90.8,206.5 94.9,205.3 98.0,206.9" fill="#33b8a1" stroke="#0d6e5a" stroke-opacity="0.45" stroke-width="0.35"/><polygon points="86.7,207.6 83.5,206.1 87.6,205.0 90.8,206.5" fill="#33b8a1" stroke="#0d6e5a" stroke-opacity="0.45" stroke-width="0.35"/><polygon points="79.4,207.3 76.3,205.7 80.4,204.6 83.5,206.1" fill="#33b8a1" stroke="#0d6e5a" stroke-opacity="0.45" stroke-width="0.35"/><polygon points="72.2,206.9 69.0,205.4 73.1,204.2 76.3,205.7" fill="#33b8a1" stroke="#0d6e5a" stroke-opacity="0.45" stroke-width="0.35"/><polygon points="64.9,206.5 61.8,205.0 65.9,203.8 69.0,205.4" fill="#33b8a1" stroke="#0d6e5a" stroke-opacity="0.45" stroke-width="0.35"/><polygon points="57.7,206.1 54.5,204.6 58.6,203.5 61.8,205.0" fill="#33b8a1" stroke="#0d6e5a" stroke-opacity="0.45" stroke-width="0.35"/><polygon points="50.4,205.8 47.2,204.2 51.4,203.1 54.5,204.6" fill="#33b8a1" stroke="#0d6e5a" stroke-opacity="0.45" stroke-width="0.35"/><polygon points="147.9,212.1 144.7,210.6 148.8,209.5 152.0,211.0" fill="#33b8a1" stroke="#0d6e5a" stroke-opacity="0.45" stroke-width="0.35"/><polygon points="140.6,211.8 137.5,210.2 141.6,209.1 144.7,210.6" fill="#33b8a1" stroke="#0d6e5a" stroke-opacity="0.45" stroke-width="0.35"/><polygon points="133.4,211.4 130.2,209.9 134.3,208.7 137.5,210.2" fill="#33b8a1" stroke="#0d6e5a" stroke-opacity="0.45" stroke-width="0.35"/><polygon points="126.1,211.0 123.0,209.5 127.1,208.3 130.2,209.9" fill="#33b8a1" stroke="#0d6e5a" stroke-opacity="0.45" stroke-width="0.35"/><polygon points="118.9,210.7 115.7,209.1 119.8,208.0 123.0,209.5" fill="#33b8a1" stroke="#0d6e5a" stroke-opacity="0.45" stroke-width="0.35"/><polygon points="111.6,210.3 108.5,208.8 112.6,207.6 115.7,209.1" fill="#33b8a1" stroke="#0d6e5a" stroke-opacity="0.45" stroke-width="0.35"/><polygon points="104.3,209.9 101.2,208.4 105.3,207.2 108.5,208.8" fill="#33b8a1" stroke="#0d6e5a" stroke-opacity="0.45" stroke-width="0.35"/><polygon points="97.1,209.5 93.9,208.0 98.0,206.9 101.2,208.4" fill="#33b8a1" stroke="#0d6e5a" stroke-opacity="0.45" stroke-width="0.35"/><polygon points="89.8,209.2 86.7,207.6 90.8,206.5 93.9,208.0" fill="#33b8a1" stroke="#0d6e5a" stroke-opacity="0.45" stroke-width="0.35"/><polygon points="82.6,208.8 79.4,207.3 83.5,206.1 86.7,207.6" fill="#33b8a1" stroke="#0d6e5a" stroke-opacity="0.45" stroke-width="0.35"/><polygon points="75.3,208.4 72.2,206.9 76.3,205.7 79.4,207.3" fill="#33b8a1" stroke="#0d6e5a" stroke-opacity="0.45" stroke-width="0.35"/><polygon points="68.1,208.0 64.9,206.5 69.0,205.4 72.2,206.9" fill="#33b8a1" stroke="#0d6e5a" stroke-opacity="0.45" stroke-width="0.35"/><polygon points="60.8,207.7 57.7,206.1 61.8,205.0 64.9,206.5" fill="#33b8a1" stroke="#0d6e5a" stroke-opacity="0.45" stroke-width="0.35"/><polygon points="53.5,207.3 50.4,205.8 54.5,204.6 57.7,206.1" fill="#33b8a1" stroke="#0d6e5a" stroke-opacity="0.45" stroke-width="0.35"/><polygon points="46.3,206.9 43.1,205.4 47.2,204.2 50.4,205.8" fill="#33b8a1" stroke="#0d6e5a" stroke-opacity="0.45" stroke-width="0.35"/><polygon points="151.0,213.7 147.9,212.1 152.0,211.0 155.2,212.5" fill="#33b8a1" stroke="#0d6e5a" stroke-opacity="0.45" stroke-width="0.35"/><polygon points="143.8,213.3 140.6,211.8 144.7,210.6 147.9,212.1" fill="#33b8a1" stroke="#0d6e5a" stroke-opacity="0.45" stroke-width="0.35"/><polygon points="136.5,212.9 133.4,211.4 137.5,210.2 140.6,211.8" fill="#33b8a1" stroke="#0d6e5a" stroke-opacity="0.45" stroke-width="0.35"/><polygon points="129.3,212.6 126.1,211.0 130.2,209.9 133.4,211.4" fill="#33b8a1" stroke="#0d6e5a" stroke-opacity="0.45" stroke-width="0.35"/><polygon points="122.0,212.2 118.9,210.7 123.0,209.5 126.1,211.0" fill="#33b8a1" stroke="#0d6e5a" stroke-opacity="0.45" stroke-width="0.35"/><polygon points="114.8,211.8 111.6,210.3 115.7,209.1 118.9,210.7" fill="#33b8a1" stroke="#0d6e5a" stroke-opacity="0.45" stroke-width="0.35"/><polygon points="107.5,211.4 104.3,209.9 108.5,208.8 111.6,210.3" fill="#33b8a1" stroke="#0d6e5a" stroke-opacity="0.45" stroke-width="0.35"/><polygon points="100.2,211.1 97.1,209.5 101.2,208.4 104.3,209.9" fill="#33b8a1" stroke="#0d6e5a" stroke-opacity="0.45" stroke-width="0.35"/><polygon points="93.0,210.7 89.8,209.2 93.9,208.0 97.1,209.5" fill="#33b8a1" stroke="#0d6e5a" stroke-opacity="0.45" stroke-width="0.35"/><polygon points="85.7,210.3 82.6,208.8 86.7,207.6 89.8,209.2" fill="#33b8a1" stroke="#0d6e5a" stroke-opacity="0.45" stroke-width="0.35"/><polygon points="78.5,209.9 75.3,208.4 79.4,207.3 82.6,208.8" fill="#33b8a1" stroke="#0d6e5a" stroke-opacity="0.45" stroke-width="0.35"/><polygon points="71.2,209.6 68.1,208.0 72.2,206.9 75.3,208.4" fill="#33b8a1" stroke="#0d6e5a" stroke-opacity="0.45" stroke-width="0.35"/><polygon points="64.0,209.2 60.8,207.7 64.9,206.5 68.1,208.0" fill="#33b8a1" stroke="#0d6e5a" stroke-opacity="0.45" stroke-width="0.35"/><polygon points="56.7,208.8 53.5,207.3 57.7,206.1 60.8,207.7" fill="#33b8a1" stroke="#0d6e5a" stroke-opacity="0.45" stroke-width="0.35"/><polygon points="49.4,208.5 46.3,206.9 50.4,205.8 53.5,207.3" fill="#33b8a1" stroke="#0d6e5a" stroke-opacity="0.45" stroke-width="0.35"/><polygon points="42.2,208.1 39.0,206.6 43.1,205.4 46.3,206.9" fill="#33b8a1" stroke="#0d6e5a" stroke-opacity="0.45" stroke-width="0.35"/><polygon points="154.2,215.2 151.0,213.7 155.2,212.5 158.3,214.0" fill="#33b8a1" stroke="#0d6e5a" stroke-opacity="0.45" stroke-width="0.35"/><polygon points="146.9,214.8 143.8,213.3 147.9,212.1 151.0,213.7" fill="#33b8a1" stroke="#0d6e5a" stroke-opacity="0.45" stroke-width="0.35"/><polygon points="139.7,214.5 136.5,212.9 140.6,211.8 143.8,213.3" fill="#33b8a1" stroke="#0d6e5a" stroke-opacity="0.45" stroke-width="0.35"/><polygon points="132.4,214.1 129.3,212.6 133.4,211.4 136.5,212.9" fill="#33b8a1" stroke="#0d6e5a" stroke-opacity="0.45" stroke-width="0.35"/><polygon points="125.2,213.7 122.0,212.2 126.1,211.0 129.3,212.6" fill="#33b8a1" stroke="#0d6e5a" stroke-opacity="0.45" stroke-width="0.35"/><polygon points="117.9,213.3 114.8,211.8 118.9,210.7 122.0,212.2" fill="#33b8a1" stroke="#0d6e5a" stroke-opacity="0.45" stroke-width="0.35"/><polygon points="110.6,213.0 107.5,211.4 111.6,210.3 114.8,211.8" fill="#33b8a1" stroke="#0d6e5a" stroke-opacity="0.45" stroke-width="0.35"/><polygon points="103.4,212.6 100.2,211.1 104.3,209.9 107.5,211.4" fill="#33b8a1" stroke="#0d6e5a" stroke-opacity="0.45" stroke-width="0.35"/><polygon points="96.1,212.2 93.0,210.7 97.1,209.5 100.2,211.1" fill="#33b8a1" stroke="#0d6e5a" stroke-opacity="0.45" stroke-width="0.35"/><polygon points="88.9,211.8 85.7,210.3 89.8,209.2 93.0,210.7" fill="#33b8a1" stroke="#0d6e5a" stroke-opacity="0.45" stroke-width="0.35"/><polygon points="81.6,211.5 78.5,209.9 82.6,208.8 85.7,210.3" fill="#33b8a1" stroke="#0d6e5a" stroke-opacity="0.45" stroke-width="0.35"/><polygon points="74.4,211.1 71.2,209.6 75.3,208.4 78.5,209.9" fill="#33b8a1" stroke="#0d6e5a" stroke-opacity="0.45" stroke-width="0.35"/><polygon points="67.1,210.7 64.0,209.2 68.1,208.0 71.2,209.6" fill="#33b8a1" stroke="#0d6e5a" stroke-opacity="0.45" stroke-width="0.35"/><polygon points="59.8,210.4 56.7,208.8 60.8,207.7 64.0,209.2" fill="#33b8a1" stroke="#0d6e5a" stroke-opacity="0.45" stroke-width="0.35"/><polygon points="52.6,210.0 49.4,208.5 53.5,207.3 56.7,208.8" fill="#33b8a1" stroke="#0d6e5a" stroke-opacity="0.45" stroke-width="0.35"/><polygon points="45.3,209.6 42.2,208.1 46.3,206.9 49.4,208.5" fill="#33b8a1" stroke="#0d6e5a" stroke-opacity="0.45" stroke-width="0.35"/><polygon points="38.1,209.2 34.9,207.7 39.0,206.6 42.2,208.1" fill="#33b8a1" stroke="#0d6e5a" stroke-opacity="0.45" stroke-width="0.35"/><polygon points="157.3,216.7 154.2,215.2 161.4,212.2" fill="url(#g8)" stroke="url(#g8)" stroke-width="0.3"/><polygon points="154.2,215.2 158.3,214.0 161.4,212.2" fill="url(#g9)" stroke="url(#g9)" stroke-width="0.3"/><polygon points="157.3,216.7 154.2,215.2 158.3,214.0 161.4,212.2" fill="none" stroke="#000" stroke-opacity="0.18" stroke-width="0.35"/><polygon points="150.1,216.4 146.9,214.8 151.0,213.7 154.2,215.2" fill="#33b8a1" stroke="#0d6e5a" stroke-opacity="0.45" stroke-width="0.35"/><polygon points="142.8,216.0 139.7,214.5 143.8,213.3 146.9,214.8" fill="#33b8a1" stroke="#0d6e5a" stroke-opacity="0.45" stroke-width="0.35"/><polygon points="135.6,215.6 132.4,214.1 136.5,212.9 139.7,214.5" fill="#33b8a1" stroke="#0d6e5a" stroke-opacity="0.45" stroke-width="0.35"/><polygon points="128.3,215.2 125.2,213.7 129.3,212.6 132.4,214.1" fill="#33b8a1" stroke="#0d6e5a" stroke-opacity="0.45" stroke-width="0.35"/><polygon points="121.1,214.9 117.9,213.3 122.0,212.2 125.2,213.7" fill="#33b8a1" stroke="#0d6e5a" stroke-opacity="0.45" stroke-width="0.35"/><polygon points="113.8,214.5 110.6,213.0 114.8,211.8 117.9,213.3" fill="#33b8a1" stroke="#0d6e5a" stroke-opacity="0.45" stroke-width="0.35"/><polygon points="106.5,214.1 103.4,212.6 107.5,211.4 110.6,213.0" fill="#33b8a1" stroke="#0d6e5a" stroke-opacity="0.45" stroke-width="0.35"/><polygon points="99.3,213.7 96.1,212.2 100.2,211.1 103.4,212.6" fill="#33b8a1" stroke="#0d6e5a" stroke-opacity="0.45" stroke-width="0.35"/><polygon points="92.0,213.4 88.9,211.8 93.0,210.7 96.1,212.2" fill="#33b8a1" stroke="#0d6e5a" stroke-opacity="0.45" stroke-width="0.35"/><polygon points="84.8,213.0 81.6,211.5 85.7,210.3 88.9,211.8" fill="#33b8a1" stroke="#0d6e5a" stroke-opacity="0.45" stroke-width="0.35"/><polygon points="77.5,212.6 74.4,211.1 78.5,209.9 81.6,211.5" fill="#33b8a1" stroke="#0d6e5a" stroke-opacity="0.45" stroke-width="0.35"/><polygon points="70.3,212.3 67.1,210.7 71.2,209.6 74.4,211.1" fill="#33b8a1" stroke="#0d6e5a" stroke-opacity="0.45" stroke-width="0.35"/><polygon points="63.0,211.9 59.8,210.4 64.0,209.2 67.1,210.7" fill="#33b8a1" stroke="#0d6e5a" stroke-opacity="0.45" stroke-width="0.35"/><polygon points="55.7,211.5 52.6,210.0 56.7,208.8 59.8,210.4" fill="#33b8a1" stroke="#0d6e5a" stroke-opacity="0.45" stroke-width="0.35"/><polygon points="48.5,211.1 45.3,209.6 49.4,208.5 52.6,210.0" fill="#33b8a1" stroke="#0d6e5a" stroke-opacity="0.45" stroke-width="0.35"/><polygon points="41.2,210.8 38.1,209.2 42.2,208.1 45.3,209.6" fill="#33b8a1" stroke="#0d6e5a" stroke-opacity="0.45" stroke-width="0.35"/><polygon points="34.0,210.4 30.8,204.9 38.1,209.2" fill="url(#g10)" stroke="url(#g10)" stroke-width="0.3"/><polygon points="30.8,204.9 34.9,207.7 38.1,209.2" fill="url(#g11)" stroke="url(#g11)" stroke-width="0.3"/><polygon points="34.0,210.4 30.8,204.9 34.9,207.7 38.1,209.2" fill="none" stroke="#000" stroke-opacity="0.18" stroke-width="0.35"/><polygon points="160.5,218.3 157.3,216.7 164.6,215.1" fill="url(#g12)" stroke="url(#g12)" stroke-width="0.3"/><polygon points="157.3,216.7 161.4,212.2 164.6,215.1" fill="url(#g13)" stroke="url(#g13)" stroke-width="0.3"/><polygon points="160.5,218.3 157.3,216.7 161.4,212.2 164.6,215.1" fill="none" stroke="#000" stroke-opacity="0.18" stroke-width="0.35"/><polygon points="153.2,217.9 150.1,216.4 154.2,215.2 157.3,216.7" fill="#33b8a1" stroke="#0d6e5a" stroke-opacity="0.45" stroke-width="0.35"/><polygon points="146.0,217.5 142.8,216.0 146.9,214.8 150.1,216.4" fill="#33b8a1" stroke="#0d6e5a" stroke-opacity="0.45" stroke-width="0.35"/><polygon points="138.7,217.1 135.6,215.6 139.7,214.5 142.8,216.0" fill="#33b8a1" stroke="#0d6e5a" stroke-opacity="0.45" stroke-width="0.35"/><polygon points="131.5,216.8 128.3,215.2 132.4,214.1 135.6,215.6" fill="#33b8a1" stroke="#0d6e5a" stroke-opacity="0.45" stroke-width="0.35"/><polygon points="124.2,216.4 121.1,214.9 125.2,213.7 128.3,215.2" fill="#33b8a1" stroke="#0d6e5a" stroke-opacity="0.45" stroke-width="0.35"/><polygon points="116.9,216.0 113.8,214.5 117.9,213.3 121.1,214.9" fill="#33b8a1" stroke="#0d6e5a" stroke-opacity="0.45" stroke-width="0.35"/><polygon points="109.7,215.6 106.5,214.1 110.6,213.0 113.8,214.5" fill="#33b8a1" stroke="#0d6e5a" stroke-opacity="0.45" stroke-width="0.35"/><polygon points="102.4,215.3 99.3,213.7 103.4,212.6 106.5,214.1" fill="#33b8a1" stroke="#0d6e5a" stroke-opacity="0.45" stroke-width="0.35"/><polygon points="95.2,214.9 92.0,213.4 96.1,212.2 99.3,213.7" fill="#33b8a1" stroke="#0d6e5a" stroke-opacity="0.45" stroke-width="0.35"/><polygon points="87.9,214.5 84.8,213.0 88.9,211.8 92.0,213.4" fill="#33b8a1" stroke="#0d6e5a" stroke-opacity="0.45" stroke-width="0.35"/><polygon points="80.7,214.2 77.5,212.6 81.6,211.5 84.8,213.0" fill="#33b8a1" stroke="#0d6e5a" stroke-opacity="0.45" stroke-width="0.35"/><polygon points="73.4,213.8 70.3,212.3 74.4,211.1 77.5,212.6" fill="#33b8a1" stroke="#0d6e5a" stroke-opacity="0.45" stroke-width="0.35"/><polygon points="66.1,213.4 63.0,211.9 67.1,210.7 70.3,212.3" fill="#33b8a1" stroke="#0d6e5a" stroke-opacity="0.45" stroke-width="0.35"/><polygon points="58.9,213.0 55.7,211.5 59.8,210.4 63.0,211.9" fill="#33b8a1" stroke="#0d6e5a" stroke-opacity="0.45" stroke-width="0.35"/><polygon points="51.6,212.7 48.5,211.1 52.6,210.0 55.7,211.5" fill="#33b8a1" stroke="#0d6e5a" stroke-opacity="0.45" stroke-width="0.35"/><polygon points="44.4,212.3 41.2,210.8 45.3,209.6 48.5,211.1" fill="#33b8a1" stroke="#0d6e5a" stroke-opacity="0.45" stroke-width="0.35"/><polygon points="37.1,211.9 34.0,210.4 38.1,209.2 41.2,210.8" fill="#33b8a1" stroke="#0d6e5a" stroke-opacity="0.45" stroke-width="0.35"/><polygon points="29.9,211.5 26.7,208.7 34.0,210.4" fill="#37b99e" stroke="#37b99e" stroke-width="0.3"/><polygon points="26.7,208.7 30.8,204.9 34.0,210.4" fill="url(#g14)" stroke="url(#g14)" stroke-width="0.3"/><polygon points="29.9,211.5 26.7,208.7 30.8,204.9 34.0,210.4" fill="none" stroke="#000" stroke-opacity="0.18" stroke-width="0.35"/><polygon points="163.6,219.8 160.5,218.3 167.8,252.0" fill="url(#g15)" stroke="url(#g15)" stroke-width="0.3"/><polygon points="160.5,218.3 164.6,215.1 167.8,252.0" fill="url(#g16)" stroke="url(#g16)" stroke-width="0.3"/><polygon points="163.6,219.8 160.5,218.3 164.6,215.1 167.8,252.0" fill="none" stroke="#000" stroke-opacity="0.18" stroke-width="0.35"/><polygon points="156.4,219.4 153.2,217.9 157.3,216.7 160.5,218.3" fill="#33b8a1" stroke="#0d6e5a" stroke-opacity="0.45" stroke-width="0.35"/><polygon points="149.1,219.0 146.0,217.5 150.1,216.4 153.2,217.9" fill="#33b8a1" stroke="#0d6e5a" stroke-opacity="0.45" stroke-width="0.35"/><polygon points="141.9,218.7 138.7,217.1 142.8,216.0 146.0,217.5" fill="#33b8a1" stroke="#0d6e5a" stroke-opacity="0.45" stroke-width="0.35"/><polygon points="134.6,218.3 131.5,216.8 135.6,215.6 138.7,217.1" fill="#33b8a1" stroke="#0d6e5a" stroke-opacity="0.45" stroke-width="0.35"/><polygon points="127.4,217.9 124.2,216.4 128.3,215.2 131.5,216.8" fill="#33b8a1" stroke="#0d6e5a" stroke-opacity="0.45" stroke-width="0.35"/><polygon points="120.1,217.5 116.9,216.0 121.1,214.9 124.2,216.4" fill="#33b8a1" stroke="#0d6e5a" stroke-opacity="0.45" stroke-width="0.35"/><polygon points="112.8,217.2 109.7,215.6 113.8,214.5 116.9,216.0" fill="#33b8a1" stroke="#0d6e5a" stroke-opacity="0.45" stroke-width="0.35"/><polygon points="105.6,216.8 102.4,215.3 106.5,214.1 109.7,215.6" fill="#33b8a1" stroke="#0d6e5a" stroke-opacity="0.45" stroke-width="0.35"/><polygon points="98.3,216.4 95.2,214.9 99.3,213.7 102.4,215.3" fill="#33b8a1" stroke="#0d6e5a" stroke-opacity="0.45" stroke-width="0.35"/><polygon points="91.1,216.1 87.9,214.5 92.0,213.4 95.2,214.9" fill="#33b8a1" stroke="#0d6e5a" stroke-opacity="0.45" stroke-width="0.35"/><polygon points="83.8,215.7 80.7,214.2 84.8,213.0 87.9,214.5" fill="#33b8a1" stroke="#0d6e5a" stroke-opacity="0.45" stroke-width="0.35"/><polygon points="76.6,215.3 73.4,213.8 77.5,212.6 80.7,214.2" fill="#33b8a1" stroke="#0d6e5a" stroke-opacity="0.45" stroke-width="0.35"/><polygon points="69.3,214.9 66.1,213.4 70.3,212.3 73.4,213.8" fill="#33b8a1" stroke="#0d6e5a" stroke-opacity="0.45" stroke-width="0.35"/><polygon points="62.0,214.6 58.9,213.0 63.0,211.9 66.1,213.4" fill="#33b8a1" stroke="#0d6e5a" stroke-opacity="0.45" stroke-width="0.35"/><polygon points="54.8,214.2 51.6,212.7 55.7,211.5 58.9,213.0" fill="#33b8a1" stroke="#0d6e5a" stroke-opacity="0.45" stroke-width="0.35"/><polygon points="47.5,213.8 44.4,212.3 48.5,211.1 51.6,212.7" fill="#33b8a1" stroke="#0d6e5a" stroke-opacity="0.45" stroke-width="0.35"/><polygon points="40.3,213.4 37.1,211.9 41.2,210.8 44.4,212.3" fill="#33b8a1" stroke="#0d6e5a" stroke-opacity="0.45" stroke-width="0.35"/><polygon points="33.0,213.1 29.9,211.5 34.0,210.4 37.1,211.9" fill="#33b8a1" stroke="#0d6e5a" stroke-opacity="0.45" stroke-width="0.35"/><polygon points="25.7,212.7 22.6,244.6 29.9,211.5" fill="url(#g17)" stroke="url(#g17)" stroke-width="0.3"/><polygon points="22.6,244.6 26.7,208.7 29.9,211.5" fill="url(#g18)" stroke="url(#g18)" stroke-width="0.3"/><polygon points="25.7,212.7 22.6,244.6 26.7,208.7 29.9,211.5" fill="none" stroke="#000" stroke-opacity="0.18" stroke-width="0.35"/><polygon points="159.5,220.9 156.4,219.4 160.5,218.3 163.6,219.8" fill="#33b8a1" stroke="#0d6e5a" stroke-opacity="0.45" stroke-width="0.35"/><polygon points="152.3,220.6 149.1,219.0 153.2,217.9 156.4,219.4" fill="#33b8a1" stroke="#0d6e5a" stroke-opacity="0.45" stroke-width="0.35"/><polygon points="145.0,220.2 141.9,218.7 146.0,217.5 149.1,219.0" fill="#33b8a1" stroke="#0d6e5a" stroke-opacity="0.45" stroke-width="0.35"/><polygon points="137.8,219.8 134.6,218.3 138.7,217.1 141.9,218.7" fill="#33b8a1" stroke="#0d6e5a" stroke-opacity="0.45" stroke-width="0.35"/><polygon points="130.5,219.4 127.4,217.9 131.5,216.8 134.6,218.3" fill="#33b8a1" stroke="#0d6e5a" stroke-opacity="0.45" stroke-width="0.35"/><polygon points="123.2,219.1 120.1,217.5 124.2,216.4 127.4,217.9" fill="#33b8a1" stroke="#0d6e5a" stroke-opacity="0.45" stroke-width="0.35"/><polygon points="116.0,218.7 112.8,217.2 116.9,216.0 120.1,217.5" fill="#33b8a1" stroke="#0d6e5a" stroke-opacity="0.45" stroke-width="0.35"/><polygon points="108.7,218.3 105.6,216.8 109.7,215.6 112.8,217.2" fill="#33b8a1" stroke="#0d6e5a" stroke-opacity="0.45" stroke-width="0.35"/><polygon points="101.5,218.0 98.3,216.4 102.4,215.3 105.6,216.8" fill="#33b8a1" stroke="#0d6e5a" stroke-opacity="0.45" stroke-width="0.35"/><polygon points="94.2,217.6 91.1,216.1 95.2,214.9 98.3,216.4" fill="#33b8a1" stroke="#0d6e5a" stroke-opacity="0.45" stroke-width="0.35"/><polygon points="87.0,217.2 83.8,215.7 87.9,214.5 91.1,216.1" fill="#33b8a1" stroke="#0d6e5a" stroke-opacity="0.45" stroke-width="0.35"/><polygon points="79.7,216.8 76.6,215.3 80.7,214.2 83.8,215.7" fill="#33b8a1" stroke="#0d6e5a" stroke-opacity="0.45" stroke-width="0.35"/><polygon points="72.4,216.5 69.3,214.9 73.4,213.8 76.6,215.3" fill="#33b8a1" stroke="#0d6e5a" stroke-opacity="0.45" stroke-width="0.35"/><polygon points="65.2,216.1 62.0,214.6 66.1,213.4 69.3,214.9" fill="#33b8a1" stroke="#0d6e5a" stroke-opacity="0.45" stroke-width="0.35"/><polygon points="57.9,215.7 54.8,214.2 58.9,213.0 62.0,214.6" fill="#33b8a1" stroke="#0d6e5a" stroke-opacity="0.45" stroke-width="0.35"/><polygon points="50.7,215.3 47.5,213.8 51.6,212.7 54.8,214.2" fill="#33b8a1" stroke="#0d6e5a" stroke-opacity="0.45" stroke-width="0.35"/><polygon points="43.4,215.0 40.3,213.4 44.4,212.3 47.5,213.8" fill="#33b8a1" stroke="#0d6e5a" stroke-opacity="0.45" stroke-width="0.35"/><polygon points="36.2,214.6 33.0,213.1 37.1,211.9 40.3,213.4" fill="#33b8a1" stroke="#0d6e5a" stroke-opacity="0.45" stroke-width="0.35"/><polygon points="28.9,214.2 25.7,212.7 29.9,211.5 33.0,213.1" fill="#33b8a1" stroke="#0d6e5a" stroke-opacity="0.45" stroke-width="0.35"/><polygon points="155.4,222.1 152.3,220.6 156.4,219.4 159.5,220.9" fill="#33b8a1" stroke="#0d6e5a" stroke-opacity="0.45" stroke-width="0.35"/><polygon points="148.2,221.7 145.0,220.2 149.1,219.0 152.3,220.6" fill="#33b8a1" stroke="#0d6e5a" stroke-opacity="0.45" stroke-width="0.35"/><polygon points="140.9,221.3 137.8,219.8 141.9,218.7 145.0,220.2" fill="#33b8a1" stroke="#0d6e5a" stroke-opacity="0.45" stroke-width="0.35"/><polygon points="133.7,221.0 130.5,219.4 134.6,218.3 137.8,219.8" fill="#33b8a1" stroke="#0d6e5a" stroke-opacity="0.45" stroke-width="0.35"/><polygon points="126.4,220.6 123.2,219.1 127.4,217.9 130.5,219.4" fill="#33b8a1" stroke="#0d6e5a" stroke-opacity="0.45" stroke-width="0.35"/><polygon points="119.1,220.2 116.0,218.7 120.1,217.5 123.2,219.1" fill="#33b8a1" stroke="#0d6e5a" stroke-opacity="0.45" stroke-width="0.35"/><polygon points="111.9,219.9 108.7,218.3 112.8,217.2 116.0,218.7" fill="#33b8a1" stroke="#0d6e5a" stroke-opacity="0.45" stroke-width="0.35"/><polygon points="104.6,219.5 101.5,218.0 105.6,216.8 108.7,218.3" fill="#33b8a1" stroke="#0d6e5a" stroke-opacity="0.45" stroke-width="0.35"/><polygon points="97.4,219.1 94.2,217.6 98.3,216.4 101.5,218.0" fill="#33b8a1" stroke="#0d6e5a" stroke-opacity="0.45" stroke-width="0.35"/><polygon points="90.1,218.7 87.0,217.2 91.1,216.1 94.2,217.6" fill="#33b8a1" stroke="#0d6e5a" stroke-opacity="0.45" stroke-width="0.35"/><polygon points="82.9,218.4 79.7,216.8 83.8,215.7 87.0,217.2" fill="#33b8a1" stroke="#0d6e5a" stroke-opacity="0.45" stroke-width="0.35"/><polygon points="75.6,218.0 72.4,216.5 76.6,215.3 79.7,216.8" fill="#33b8a1" stroke="#0d6e5a" stroke-opacity="0.45" stroke-width="0.35"/><polygon points="68.3,217.6 65.2,216.1 69.3,214.9 72.4,216.5" fill="#33b8a1" stroke="#0d6e5a" stroke-opacity="0.45" stroke-width="0.35"/><polygon points="61.1,217.2 57.9,215.7 62.0,214.6 65.2,216.1" fill="#33b8a1" stroke="#0d6e5a" stroke-opacity="0.45" stroke-width="0.35"/><polygon points="53.8,216.9 50.7,215.3 54.8,214.2 57.9,215.7" fill="#33b8a1" stroke="#0d6e5a" stroke-opacity="0.45" stroke-width="0.35"/><polygon points="46.6,216.5 43.4,215.0 47.5,213.8 50.7,215.3" fill="#33b8a1" stroke="#0d6e5a" stroke-opacity="0.45" stroke-width="0.35"/><polygon points="39.3,216.1 36.2,214.6 40.3,213.4 43.4,215.0" fill="#33b8a1" stroke="#0d6e5a" stroke-opacity="0.45" stroke-width="0.35"/><polygon points="32.0,215.8 28.9,214.2 33.0,213.1 36.2,214.6" fill="#33b8a1" stroke="#0d6e5a" stroke-opacity="0.45" stroke-width="0.35"/><polygon points="151.3,223.2 148.2,221.7 152.3,220.6 155.4,222.1" fill="#33b8a1" stroke="#0d6e5a" stroke-opacity="0.45" stroke-width="0.35"/><polygon points="144.1,222.9 140.9,221.3 145.0,220.2 148.2,221.7" fill="#33b8a1" stroke="#0d6e5a" stroke-opacity="0.45" stroke-width="0.35"/><polygon points="136.8,222.5 133.7,221.0 137.8,219.8 140.9,221.3" fill="#33b8a1" stroke="#0d6e5a" stroke-opacity="0.45" stroke-width="0.35"/><polygon points="129.5,222.1 126.4,220.6 130.5,219.4 133.7,221.0" fill="#33b8a1" stroke="#0d6e5a" stroke-opacity="0.45" stroke-width="0.35"/><polygon points="122.3,221.8 119.1,220.2 123.2,219.1 126.4,220.6" fill="#33b8a1" stroke="#0d6e5a" stroke-opacity="0.45" stroke-width="0.35"/><polygon points="115.0,221.4 111.9,219.9 116.0,218.7 119.1,220.2" fill="#33b8a1" stroke="#0d6e5a" stroke-opacity="0.45" stroke-width="0.35"/><polygon points="107.8,221.0 104.6,219.5 108.7,218.3 111.9,219.9" fill="#33b8a1" stroke="#0d6e5a" stroke-opacity="0.45" stroke-width="0.35"/><polygon points="100.5,220.6 97.4,219.1 101.5,218.0 104.6,219.5" fill="#33b8a1" stroke="#0d6e5a" stroke-opacity="0.45" stroke-width="0.35"/><polygon points="93.3,220.3 90.1,218.7 94.2,217.6 97.4,219.1" fill="#33b8a1" stroke="#0d6e5a" stroke-opacity="0.45" stroke-width="0.35"/><polygon points="86.0,219.9 82.9,218.4 87.0,217.2 90.1,218.7" fill="#33b8a1" stroke="#0d6e5a" stroke-opacity="0.45" stroke-width="0.35"/><polygon points="78.7,219.5 75.6,218.0 79.7,216.8 82.9,218.4" fill="#33b8a1" stroke="#0d6e5a" stroke-opacity="0.45" stroke-width="0.35"/><polygon points="71.5,219.1 68.3,217.6 72.4,216.5 75.6,218.0" fill="#33b8a1" stroke="#0d6e5a" stroke-opacity="0.45" stroke-width="0.35"/><polygon points="64.2,218.8 61.1,217.2 65.2,216.1 68.3,217.6" fill="#33b8a1" stroke="#0d6e5a" stroke-opacity="0.45" stroke-width="0.35"/><polygon points="57.0,218.4 53.8,216.9 57.9,215.7 61.1,217.2" fill="#33b8a1" stroke="#0d6e5a" stroke-opacity="0.45" stroke-width="0.35"/><polygon points="49.7,218.0 46.6,216.5 50.7,215.3 53.8,216.9" fill="#33b8a1" stroke="#0d6e5a" stroke-opacity="0.45" stroke-width="0.35"/><polygon points="42.5,217.7 39.3,216.1 43.4,215.0 46.6,216.5" fill="#33b8a1" stroke="#0d6e5a" stroke-opacity="0.45" stroke-width="0.35"/><polygon points="35.2,217.3 32.0,215.8 36.2,214.6 39.3,216.1" fill="#33b8a1" stroke="#0d6e5a" stroke-opacity="0.45" stroke-width="0.35"/><polygon points="147.2,224.4 144.1,222.9 148.2,221.7 151.3,223.2" fill="#33b8a1" stroke="#0d6e5a" stroke-opacity="0.45" stroke-width="0.35"/><polygon points="140.0,224.0 136.8,222.5 140.9,221.3 144.1,222.9" fill="#33b8a1" stroke="#0d6e5a" stroke-opacity="0.45" stroke-width="0.35"/><polygon points="132.7,223.7 129.5,222.1 133.7,221.0 136.8,222.5" fill="#33b8a1" stroke="#0d6e5a" stroke-opacity="0.45" stroke-width="0.35"/><polygon points="125.4,223.3 122.3,221.8 126.4,220.6 129.5,222.1" fill="#33b8a1" stroke="#0d6e5a" stroke-opacity="0.45" stroke-width="0.35"/><polygon points="118.2,222.9 115.0,221.4 119.1,220.2 122.3,221.8" fill="#33b8a1" stroke="#0d6e5a" stroke-opacity="0.45" stroke-width="0.35"/><polygon points="110.9,222.5 107.8,221.0 111.9,219.9 115.0,221.4" fill="#33b8a1" stroke="#0d6e5a" stroke-opacity="0.45" stroke-width="0.35"/><polygon points="103.7,222.2 100.5,220.6 104.6,219.5 107.8,221.0" fill="#33b8a1" stroke="#0d6e5a" stroke-opacity="0.45" stroke-width="0.35"/><polygon points="96.4,221.8 93.3,220.3 97.4,219.1 100.5,220.6" fill="#33b8a1" stroke="#0d6e5a" stroke-opacity="0.45" stroke-width="0.35"/><polygon points="89.2,221.4 86.0,219.9 90.1,218.7 93.3,220.3" fill="#33b8a1" stroke="#0d6e5a" stroke-opacity="0.45" stroke-width="0.35"/><polygon points="81.9,221.0 78.7,219.5 82.9,218.4 86.0,219.9" fill="#33b8a1" stroke="#0d6e5a" stroke-opacity="0.45" stroke-width="0.35"/><polygon points="74.6,220.7 71.5,219.1 75.6,218.0 78.7,219.5" fill="#33b8a1" stroke="#0d6e5a" stroke-opacity="0.45" stroke-width="0.35"/><polygon points="67.4,220.3 64.2,218.8 68.3,217.6 71.5,219.1" fill="#33b8a1" stroke="#0d6e5a" stroke-opacity="0.45" stroke-width="0.35"/><polygon points="60.1,219.9 57.0,218.4 61.1,217.2 64.2,218.8" fill="#33b8a1" stroke="#0d6e5a" stroke-opacity="0.45" stroke-width="0.35"/><polygon points="52.9,219.6 49.7,218.0 53.8,216.9 57.0,218.4" fill="#33b8a1" stroke="#0d6e5a" stroke-opacity="0.45" stroke-width="0.35"/><polygon points="45.6,219.2 42.5,217.7 46.6,216.5 49.7,218.0" fill="#33b8a1" stroke="#0d6e5a" stroke-opacity="0.45" stroke-width="0.35"/><polygon points="38.3,218.8 35.2,217.3 39.3,216.1 42.5,217.7" fill="#33b8a1" stroke="#0d6e5a" stroke-opacity="0.45" stroke-width="0.35"/><polygon points="143.1,225.6 140.0,224.0 144.1,222.9 147.2,224.4" fill="#33b8a1" stroke="#0d6e5a" stroke-opacity="0.45" stroke-width="0.35"/><polygon points="135.8,225.2 132.7,223.7 136.8,222.5 140.0,224.0" fill="#33b8a1" stroke="#0d6e5a" stroke-opacity="0.45" stroke-width="0.35"/><polygon points="128.6,224.8 125.4,223.3 129.5,222.1 132.7,223.7" fill="#33b8a1" stroke="#0d6e5a" stroke-opacity="0.45" stroke-width="0.35"/><polygon points="121.3,224.4 118.2,222.9 122.3,221.8 125.4,223.3" fill="#33b8a1" stroke="#0d6e5a" stroke-opacity="0.45" stroke-width="0.35"/><polygon points="114.1,224.1 110.9,222.5 115.0,221.4 118.2,222.9" fill="#33b8a1" stroke="#0d6e5a" stroke-opacity="0.45" stroke-width="0.35"/><polygon points="106.8,223.7 103.7,222.2 107.8,221.0 110.9,222.5" fill="#33b8a1" stroke="#0d6e5a" stroke-opacity="0.45" stroke-width="0.35"/><polygon points="99.6,223.3 96.4,221.8 100.5,220.6 103.7,222.2" fill="#33b8a1" stroke="#0d6e5a" stroke-opacity="0.45" stroke-width="0.35"/><polygon points="92.3,222.9 89.2,221.4 93.3,220.3 96.4,221.8" fill="#33b8a1" stroke="#0d6e5a" stroke-opacity="0.45" stroke-width="0.35"/><polygon points="85.0,222.6 81.9,221.0 86.0,219.9 89.2,221.4" fill="#33b8a1" stroke="#0d6e5a" stroke-opacity="0.45" stroke-width="0.35"/><polygon points="77.8,222.2 74.6,220.7 78.7,219.5 81.9,221.0" fill="#33b8a1" stroke="#0d6e5a" stroke-opacity="0.45" stroke-width="0.35"/><polygon points="70.5,221.8 67.4,220.3 71.5,219.1 74.6,220.7" fill="#33b8a1" stroke="#0d6e5a" stroke-opacity="0.45" stroke-width="0.35"/><polygon points="63.3,221.5 60.1,219.9 64.2,218.8 67.4,220.3" fill="#33b8a1" stroke="#0d6e5a" stroke-opacity="0.45" stroke-width="0.35"/><polygon points="56.0,221.1 52.9,219.6 57.0,218.4 60.1,219.9" fill="#33b8a1" stroke="#0d6e5a" stroke-opacity="0.45" stroke-width="0.35"/><polygon points="48.8,220.7 45.6,219.2 49.7,218.0 52.9,219.6" fill="#33b8a1" stroke="#0d6e5a" stroke-opacity="0.45" stroke-width="0.35"/><polygon points="41.5,220.3 38.3,218.8 42.5,217.7 45.6,219.2" fill="#33b8a1" stroke="#0d6e5a" stroke-opacity="0.45" stroke-width="0.35"/><polygon points="139.0,226.7 135.8,225.2 140.0,224.0 143.1,225.6" fill="#33b8a1" stroke="#0d6e5a" stroke-opacity="0.45" stroke-width="0.35"/><polygon points="131.7,226.3 128.6,224.8 132.7,223.7 135.8,225.2" fill="#33b8a1" stroke="#0d6e5a" stroke-opacity="0.45" stroke-width="0.35"/><polygon points="124.5,226.0 121.3,224.4 125.4,223.3 128.6,224.8" fill="#33b8a1" stroke="#0d6e5a" stroke-opacity="0.45" stroke-width="0.35"/><polygon points="117.2,225.6 114.1,224.1 118.2,222.9 121.3,224.4" fill="#33b8a1" stroke="#0d6e5a" stroke-opacity="0.45" stroke-width="0.35"/><polygon points="110.0,225.2 106.8,223.7 110.9,222.5 114.1,224.1" fill="#33b8a1" stroke="#0d6e5a" stroke-opacity="0.45" stroke-width="0.35"/><polygon points="102.7,224.8 99.6,223.3 103.7,222.2 106.8,223.7" fill="#33b8a1" stroke="#0d6e5a" stroke-opacity="0.45" stroke-width="0.35"/><polygon points="95.5,224.5 92.3,222.9 96.4,221.8 99.6,223.3" fill="#33b8a1" stroke="#0d6e5a" stroke-opacity="0.45" stroke-width="0.35"/><polygon points="88.2,224.1 85.0,222.6 89.2,221.4 92.3,222.9" fill="#33b8a1" stroke="#0d6e5a" stroke-opacity="0.45" stroke-width="0.35"/><polygon points="80.9,223.7 77.8,222.2 81.9,221.0 85.0,222.6" fill="#33b8a1" stroke="#0d6e5a" stroke-opacity="0.45" stroke-width="0.35"/><polygon points="73.7,223.4 70.5,221.8 74.6,220.7 77.8,222.2" fill="#33b8a1" stroke="#0d6e5a" stroke-opacity="0.45" stroke-width="0.35"/><polygon points="66.4,223.0 63.3,221.5 67.4,220.3 70.5,221.8" fill="#33b8a1" stroke="#0d6e5a" stroke-opacity="0.45" stroke-width="0.35"/><polygon points="59.2,222.6 56.0,221.1 60.1,219.9 63.3,221.5" fill="#33b8a1" stroke="#0d6e5a" stroke-opacity="0.45" stroke-width="0.35"/><polygon points="51.9,222.2 48.8,220.7 52.9,219.6 56.0,221.1" fill="#33b8a1" stroke="#0d6e5a" stroke-opacity="0.45" stroke-width="0.35"/><polygon points="44.6,221.9 41.5,220.3 45.6,219.2 48.8,220.7" fill="#33b8a1" stroke="#0d6e5a" stroke-opacity="0.45" stroke-width="0.35"/><polygon points="134.9,227.9 131.7,226.3 135.8,225.2 139.0,226.7" fill="#33b8a1" stroke="#0d6e5a" stroke-opacity="0.45" stroke-width="0.35"/><polygon points="127.6,227.5 124.5,226.0 128.6,224.8 131.7,226.3" fill="#33b8a1" stroke="#0d6e5a" stroke-opacity="0.45" stroke-width="0.35"/><polygon points="120.4,227.1 117.2,225.6 121.3,224.4 124.5,226.0" fill="#33b8a1" stroke="#0d6e5a" stroke-opacity="0.45" stroke-width="0.35"/><polygon points="113.1,226.7 110.0,225.2 114.1,224.1 117.2,225.6" fill="#33b8a1" stroke="#0d6e5a" stroke-opacity="0.45" stroke-width="0.35"/><polygon points="105.9,226.4 102.7,224.8 106.8,223.7 110.0,225.2" fill="#33b8a1" stroke="#0d6e5a" stroke-opacity="0.45" stroke-width="0.35"/><polygon points="98.6,226.0 95.5,224.5 99.6,223.3 102.7,224.8" fill="#33b8a1" stroke="#0d6e5a" stroke-opacity="0.45" stroke-width="0.35"/><polygon points="91.3,225.6 88.2,224.1 92.3,222.9 95.5,224.5" fill="#33b8a1" stroke="#0d6e5a" stroke-opacity="0.45" stroke-width="0.35"/><polygon points="84.1,225.3 80.9,223.7 85.0,222.6 88.2,224.1" fill="#33b8a1" stroke="#0d6e5a" stroke-opacity="0.45" stroke-width="0.35"/><polygon points="76.8,224.9 73.7,223.4 77.8,222.2 80.9,223.7" fill="#33b8a1" stroke="#0d6e5a" stroke-opacity="0.45" stroke-width="0.35"/><polygon points="69.6,224.5 66.4,223.0 70.5,221.8 73.7,223.4" fill="#33b8a1" stroke="#0d6e5a" stroke-opacity="0.45" stroke-width="0.35"/><polygon points="62.3,224.1 59.2,222.6 63.3,221.5 66.4,223.0" fill="#33b8a1" stroke="#0d6e5a" stroke-opacity="0.45" stroke-width="0.35"/><polygon points="55.1,223.8 51.9,222.2 56.0,221.1 59.2,222.6" fill="#33b8a1" stroke="#0d6e5a" stroke-opacity="0.45" stroke-width="0.35"/><polygon points="47.8,223.4 44.6,221.9 48.8,220.7 51.9,222.2" fill="#33b8a1" stroke="#0d6e5a" stroke-opacity="0.45" stroke-width="0.35"/><polygon points="130.8,229.0 127.6,227.5 131.7,226.3 134.9,227.9" fill="#33b8a1" stroke="#0d6e5a" stroke-opacity="0.45" stroke-width="0.35"/><polygon points="123.5,228.6 120.4,227.1 124.5,226.0 127.6,227.5" fill="#33b8a1" stroke="#0d6e5a" stroke-opacity="0.45" stroke-width="0.35"/><polygon points="116.3,228.3 113.1,226.7 117.2,225.6 120.4,227.1" fill="#33b8a1" stroke="#0d6e5a" stroke-opacity="0.45" stroke-width="0.35"/><polygon points="109.0,227.9 105.9,226.4 110.0,225.2 113.1,226.7" fill="#33b8a1" stroke="#0d6e5a" stroke-opacity="0.45" stroke-width="0.35"/><polygon points="101.8,227.5 98.6,226.0 102.7,224.8 105.9,226.4" fill="#33b8a1" stroke="#0d6e5a" stroke-opacity="0.45" stroke-width="0.35"/><polygon points="94.5,227.2 91.3,225.6 95.5,224.5 98.6,226.0" fill="#33b8a1" stroke="#0d6e5a" stroke-opacity="0.45" stroke-width="0.35"/><polygon points="87.2,226.8 84.1,225.3 88.2,224.1 91.3,225.6" fill="#33b8a1" stroke="#0d6e5a" stroke-opacity="0.45" stroke-width="0.35"/><polygon points="80.0,226.4 76.8,224.9 80.9,223.7 84.1,225.3" fill="#33b8a1" stroke="#0d6e5a" stroke-opacity="0.45" stroke-width="0.35"/><polygon points="72.7,226.0 69.6,224.5 73.7,223.4 76.8,224.9" fill="#33b8a1" stroke="#0d6e5a" stroke-opacity="0.45" stroke-width="0.35"/><polygon points="65.5,225.7 62.3,224.1 66.4,223.0 69.6,224.5" fill="#33b8a1" stroke="#0d6e5a" stroke-opacity="0.45" stroke-width="0.35"/><polygon points="58.2,225.3 55.1,223.8 59.2,222.6 62.3,224.1" fill="#33b8a1" stroke="#0d6e5a" stroke-opacity="0.45" stroke-width="0.35"/><polygon points="50.9,224.9 47.8,223.4 51.9,222.2 55.1,223.8" fill="#33b8a1" stroke="#0d6e5a" stroke-opacity="0.45" stroke-width="0.35"/><polygon points="126.7,230.2 123.5,228.6 127.6,227.5 130.8,229.0" fill="#33b8a1" stroke="#0d6e5a" stroke-opacity="0.45" stroke-width="0.35"/><polygon points="119.4,229.8 116.3,228.3 120.4,227.1 123.5,228.6" fill="#33b8a1" stroke="#0d6e5a" stroke-opacity="0.45" stroke-width="0.35"/><polygon points="112.2,229.4 109.0,227.9 113.1,226.7 116.3,228.3" fill="#33b8a1" stroke="#0d6e5a" stroke-opacity="0.45" stroke-width="0.35"/><polygon points="104.9,229.1 101.8,227.5 105.9,226.4 109.0,227.9" fill="#33b8a1" stroke="#0d6e5a" stroke-opacity="0.45" stroke-width="0.35"/><polygon points="97.6,228.7 94.5,227.2 98.6,226.0 101.8,227.5" fill="#33b8a1" stroke="#0d6e5a" stroke-opacity="0.45" stroke-width="0.35"/><polygon points="90.4,228.3 87.2,226.8 91.3,225.6 94.5,227.2" fill="#33b8a1" stroke="#0d6e5a" stroke-opacity="0.45" stroke-width="0.35"/><polygon points="83.1,227.9 80.0,226.4 84.1,225.3 87.2,226.8" fill="#33b8a1" stroke="#0d6e5a" stroke-opacity="0.45" stroke-width="0.35"/><polygon points="75.9,227.6 72.7,226.0 76.8,224.9 80.0,226.4" fill="#33b8a1" stroke="#0d6e5a" stroke-opacity="0.45" stroke-width="0.35"/><polygon points="68.6,227.2 65.5,225.7 69.6,224.5 72.7,226.0" fill="#33b8a1" stroke="#0d6e5a" stroke-opacity="0.45" stroke-width="0.35"/><polygon points="61.4,226.8 58.2,225.3 62.3,224.1 65.5,225.7" fill="#33b8a1" stroke="#0d6e5a" stroke-opacity="0.45" stroke-width="0.35"/><polygon points="54.1,226.5 50.9,224.9 55.1,223.8 58.2,225.3" fill="#33b8a1" stroke="#0d6e5a" stroke-opacity="0.45" stroke-width="0.35"/><polygon points="122.6,231.3 119.4,229.8 123.5,228.6 126.7,230.2" fill="#33b8a1" stroke="#0d6e5a" stroke-opacity="0.45" stroke-width="0.35"/><polygon points="115.3,231.0 112.2,229.4 116.3,228.3 119.4,229.8" fill="#33b8a1" stroke="#0d6e5a" stroke-opacity="0.45" stroke-width="0.35"/><polygon points="108.1,230.6 104.9,229.1 109.0,227.9 112.2,229.4" fill="#33b8a1" stroke="#0d6e5a" stroke-opacity="0.45" stroke-width="0.35"/><polygon points="100.8,230.2 97.6,228.7 101.8,227.5 104.9,229.1" fill="#33b8a1" stroke="#0d6e5a" stroke-opacity="0.45" stroke-width="0.35"/><polygon points="93.5,229.8 90.4,228.3 94.5,227.2 97.6,228.7" fill="#33b8a1" stroke="#0d6e5a" stroke-opacity="0.45" stroke-width="0.35"/><polygon points="86.3,229.5 83.1,227.9 87.2,226.8 90.4,228.3" fill="#33b8a1" stroke="#0d6e5a" stroke-opacity="0.45" stroke-width="0.35"/><polygon points="79.0,229.1 75.9,227.6 80.0,226.4 83.1,227.9" fill="#33b8a1" stroke="#0d6e5a" stroke-opacity="0.45" stroke-width="0.35"/><polygon points="71.8,228.7 68.6,227.2 72.7,226.0 75.9,227.6" fill="#33b8a1" stroke="#0d6e5a" stroke-opacity="0.45" stroke-width="0.35"/><polygon points="64.5,228.4 61.4,226.8 65.5,225.7 68.6,227.2" fill="#33b8a1" stroke="#0d6e5a" stroke-opacity="0.45" stroke-width="0.35"/><polygon points="57.2,228.0 54.1,226.5 58.2,225.3 61.4,226.8" fill="#33b8a1" stroke="#0d6e5a" stroke-opacity="0.45" stroke-width="0.35"/><polygon points="118.5,232.5 115.3,231.0 119.4,229.8 122.6,231.3" fill="#33b8a1" stroke="#0d6e5a" stroke-opacity="0.45" stroke-width="0.35"/><polygon points="111.2,232.1 108.1,230.6 112.2,229.4 115.3,231.0" fill="#33b8a1" stroke="#0d6e5a" stroke-opacity="0.45" stroke-width="0.35"/><polygon points="103.9,231.7 100.8,230.2 104.9,229.1 108.1,230.6" fill="#33b8a1" stroke="#0d6e5a" stroke-opacity="0.45" stroke-width="0.35"/><polygon points="96.7,231.4 93.5,229.8 97.6,228.7 100.8,230.2" fill="#33b8a1" stroke="#0d6e5a" stroke-opacity="0.45" stroke-width="0.35"/><polygon points="89.4,231.0 86.3,229.5 90.4,228.3 93.5,229.8" fill="#33b8a1" stroke="#0d6e5a" stroke-opacity="0.45" stroke-width="0.35"/><polygon points="82.2,230.6 79.0,229.1 83.1,227.9 86.3,229.5" fill="#33b8a1" stroke="#0d6e5a" stroke-opacity="0.45" stroke-width="0.35"/><polygon points="74.9,230.2 71.8,228.7 75.9,227.6 79.0,229.1" fill="#33b8a1" stroke="#0d6e5a" stroke-opacity="0.45" stroke-width="0.35"/><polygon points="67.7,229.9 64.5,228.4 68.6,227.2 71.8,228.7" fill="#33b8a1" stroke="#0d6e5a" stroke-opacity="0.45" stroke-width="0.35"/><polygon points="60.4,229.5 57.2,228.0 61.4,226.8 64.5,228.4" fill="#33b8a1" stroke="#0d6e5a" stroke-opacity="0.45" stroke-width="0.35"/><polygon points="114.4,233.6 111.2,232.1 115.3,231.0 118.5,232.5" fill="#33b8a1" stroke="#0d6e5a" stroke-opacity="0.45" stroke-width="0.35"/><polygon points="107.1,233.3 103.9,231.7 108.1,230.6 111.2,232.1" fill="#33b8a1" stroke="#0d6e5a" stroke-opacity="0.45" stroke-width="0.35"/><polygon points="99.8,232.9 96.7,231.4 100.8,230.2 103.9,231.7" fill="#33b8a1" stroke="#0d6e5a" stroke-opacity="0.45" stroke-width="0.35"/><polygon points="92.6,232.5 89.4,231.0 93.5,229.8 96.7,231.4" fill="#33b8a1" stroke="#0d6e5a" stroke-opacity="0.45" stroke-width="0.35"/><polygon points="85.3,232.2 82.2,230.6 86.3,229.5 89.4,231.0" fill="#33b8a1" stroke="#0d6e5a" stroke-opacity="0.45" stroke-width="0.35"/><polygon points="78.1,231.8 74.9,230.2 79.0,229.1 82.2,230.6" fill="#33b8a1" stroke="#0d6e5a" stroke-opacity="0.45" stroke-width="0.35"/><polygon points="70.8,231.4 67.7,229.9 71.8,228.7 74.9,230.2" fill="#33b8a1" stroke="#0d6e5a" stroke-opacity="0.45" stroke-width="0.35"/><polygon points="63.5,231.0 60.4,229.5 64.5,228.4 67.7,229.9" fill="#33b8a1" stroke="#0d6e5a" stroke-opacity="0.45" stroke-width="0.35"/><polygon points="110.2,234.8 107.1,233.3 111.2,232.1 114.4,233.6" fill="#33b8a1" stroke="#0d6e5a" stroke-opacity="0.45" stroke-width="0.35"/><polygon points="103.0,234.4 99.8,232.9 103.9,231.7 107.1,233.3" fill="#33b8a1" stroke="#0d6e5a" stroke-opacity="0.45" stroke-width="0.35"/><polygon points="95.7,234.1 92.6,232.5 96.7,231.4 99.8,232.9" fill="#33b8a1" stroke="#0d6e5a" stroke-opacity="0.45" stroke-width="0.35"/><polygon points="88.5,233.7 85.3,232.2 89.4,231.0 92.6,232.5" fill="#33b8a1" stroke="#0d6e5a" stroke-opacity="0.45" stroke-width="0.35"/><polygon points="81.2,233.3 78.1,231.8 82.2,230.6 85.3,232.2" fill="#33b8a1" stroke="#0d6e5a" stroke-opacity="0.45" stroke-width="0.35"/><polygon points="74.0,232.9 70.8,231.4 74.9,230.2 78.1,231.8" fill="#33b8a1" stroke="#0d6e5a" stroke-opacity="0.45" stroke-width="0.35"/><polygon points="66.7,232.6 63.5,231.0 67.7,229.9 70.8,231.4" fill="#33b8a1" stroke="#0d6e5a" stroke-opacity="0.45" stroke-width="0.35"/><polygon points="106.1,236.0 103.0,234.4 107.1,233.3 110.2,234.8" fill="#33b8a1" stroke="#0d6e5a" stroke-opacity="0.45" stroke-width="0.35"/><polygon points="98.9,235.6 95.7,234.1 99.8,232.9 103.0,234.4" fill="#33b8a1" stroke="#0d6e5a" stroke-opacity="0.45" stroke-width="0.35"/><polygon points="91.6,235.2 88.5,233.7 92.6,232.5 95.7,234.1" fill="#33b8a1" stroke="#0d6e5a" stroke-opacity="0.45" stroke-width="0.35"/><polygon points="84.4,234.8 81.2,233.3 85.3,232.2 88.5,233.7" fill="#33b8a1" stroke="#0d6e5a" stroke-opacity="0.45" stroke-width="0.35"/><polygon points="77.1,234.5 74.0,232.9 78.1,231.8 81.2,233.3" fill="#33b8a1" stroke="#0d6e5a" stroke-opacity="0.45" stroke-width="0.35"/><polygon points="69.8,234.1 66.7,232.6 70.8,231.4 74.0,232.9" fill="#33b8a1" stroke="#0d6e5a" stroke-opacity="0.45" stroke-width="0.35"/><polygon points="102.0,237.1 98.9,235.6 103.0,234.4 106.1,236.0" fill="#33b8a1" stroke="#0d6e5a" stroke-opacity="0.45" stroke-width="0.35"/><polygon points="94.8,236.7 91.6,235.2 95.7,234.1 98.9,235.6" fill="#33b8a1" stroke="#0d6e5a" stroke-opacity="0.45" stroke-width="0.35"/><polygon points="87.5,236.4 84.4,234.8 88.5,233.7 91.6,235.2" fill="#33b8a1" stroke="#0d6e5a" stroke-opacity="0.45" stroke-width="0.35"/><polygon points="80.3,236.0 77.1,234.5 81.2,233.3 84.4,234.8" fill="#33b8a1" stroke="#0d6e5a" stroke-opacity="0.45" stroke-width="0.35"/><polygon points="73.0,235.6 69.8,234.1 74.0,232.9 77.1,234.5" fill="#33b8a1" stroke="#0d6e5a" stroke-opacity="0.45" stroke-width="0.35"/><polygon points="97.9,238.3 94.8,236.7 98.9,235.6 102.0,237.1" fill="#33b8a1" stroke="#0d6e5a" stroke-opacity="0.45" stroke-width="0.35"/><polygon points="90.7,237.9 87.5,236.4 91.6,235.2 94.8,236.7" fill="#33b8a1" stroke="#0d6e5a" stroke-opacity="0.45" stroke-width="0.35"/><polygon points="83.4,237.5 80.3,236.0 84.4,234.8 87.5,236.4" fill="#33b8a1" stroke="#0d6e5a" stroke-opacity="0.45" stroke-width="0.35"/><polygon points="76.1,237.1 73.0,235.6 77.1,234.5 80.3,236.0" fill="#33b8a1" stroke="#0d6e5a" stroke-opacity="0.45" stroke-width="0.35"/><polygon points="93.8,243.4 90.7,237.9 97.9,238.3" fill="url(#g19)" stroke="url(#g19)" stroke-width="0.3"/><polygon points="90.7,237.9 94.8,236.7 97.9,238.3" fill="#33b8a1" stroke="#33b8a1" stroke-width="0.3"/><polygon points="93.8,243.4 90.7,237.9 94.8,236.7 97.9,238.3" fill="none" stroke="#000" stroke-opacity="0.18" stroke-width="0.35"/><polygon points="86.6,238.4 83.4,237.5 87.5,236.4 90.7,237.9" fill="#34b8a0" stroke="#0d6e5a" stroke-opacity="0.45" stroke-width="0.35"/><polygon points="79.3,242.7 76.1,237.1 83.4,237.5" fill="url(#g20)" stroke="url(#g20)" stroke-width="0.3"/><polygon points="76.1,237.1 80.3,236.0 83.4,237.5" fill="#33b8a1" stroke="#33b8a1" stroke-width="0.3"/><polygon points="79.3,242.7 76.1,237.1 80.3,236.0 83.4,237.5" fill="none" stroke="#000" stroke-opacity="0.18" stroke-width="0.35"/><polygon points="89.7,237.2 86.6,238.4 93.8,243.4" fill="url(#g21)" stroke="url(#g21)" stroke-width="0.3"/><polygon points="86.6,238.4 90.7,237.9 93.8,243.4" fill="url(#g22)" stroke="url(#g22)" stroke-width="0.3"/><polygon points="89.7,237.2 86.6,238.4 90.7,237.9 93.8,243.4" fill="none" stroke="#000" stroke-opacity="0.18" stroke-width="0.35"/><polygon points="82.4,236.9 79.3,242.7 86.6,238.4" fill="url(#g23)" stroke="url(#g23)" stroke-width="0.3"/><polygon points="79.3,242.7 83.4,237.5 86.6,238.4" fill="url(#g24)" stroke="url(#g24)" stroke-width="0.3"/><polygon points="82.4,236.9 79.3,242.7 83.4,237.5 86.6,238.4" fill="none" stroke="#000" stroke-opacity="0.18" stroke-width="0.35"/><polygon points="85.6,211.0 82.4,236.9 89.7,237.2" fill="url(#g25)" stroke="url(#g25)" stroke-width="0.3"/><polygon points="82.4,236.9 86.6,238.4 89.7,237.2" fill="url(#g26)" stroke="url(#g26)" stroke-width="0.3"/><polygon points="85.6,211.0 82.4,236.9 86.6,238.4 89.7,237.2" fill="none" stroke="#000" stroke-opacity="0.18" stroke-width="0.35"/></g>
<text x="20.10" y="180.40" font-family="Liberation Serif" font-weight="bold" font-size="7.5" text-anchor="end">0.5</text>
<text x="20.10" y="213.78" font-family="Liberation Serif" font-weight="bold" font-size="7.5" text-anchor="end">0</text>
<text x="20.10" y="247.15" font-family="Liberation Serif" font-weight="bold" font-size="7.5" text-anchor="end">-0.5</text>
<text x="16.85" y="253.10" font-family="Liberation Serif" font-weight="bold" font-size="8" text-anchor="middle">10</text>
<text x="24.30" y="255.40" font-family="Liberation Serif" font-weight="bold" font-size="8" text-anchor="middle">9</text>
<text x="30.00" y="258.30" font-family="Liberation Serif" font-weight="bold" font-size="8" text-anchor="middle">8</text>
<text x="35.70" y="261.10" font-family="Liberation Serif" font-weight="bold" font-size="8" text-anchor="middle">7</text>
<text x="41.90" y="263.40" font-family="Liberation Serif" font-weight="bold" font-size="8" text-anchor="middle">6</text>
<text x="48.30" y="266.30" font-family="Liberation Serif" font-weight="bold" font-size="8" text-anchor="middle">5</text>
<text x="54.45" y="269.10" font-family="Liberation Serif" font-weight="bold" font-size="8" text-anchor="middle">4</text>
<text x="60.40" y="272.50" font-family="Liberation Serif" font-weight="bold" font-size="8" text-anchor="middle">3</text>
<text x="65.90" y="275.90" font-family="Liberation Serif" font-weight="bold" font-size="8" text-anchor="middle">2</text>
<text x="72.00" y="278.90" font-family="Liberation Serif" font-weight="bold" font-size="8" text-anchor="middle">1</text>
<text x="79.70" y="281.60" font-family="Liberation Serif" font-weight="bold" font-size="8" text-anchor="middle">0</text>
<text x="96.90" y="283.90" font-family="Liberation Serif" font-weight="bold" font-size="8" text-anchor="middle">-5</text>
<text x="104.30" y="281.60" font-family="Liberation Serif" font-weight="bold" font-size="8" text-anchor="middle">-4</text>
<text x="112.60" y="280.20" font-family="Liberation Serif" font-weight="bold" font-size="8" text-anchor="middle">-3</text>
<text x="120.20" y="276.40" font-family="Liberation Serif" font-weight="bold" font-size="8" text-anchor="middle">-2</text>
<text x="127.60" y="275.00" font-family="Liberation Serif" font-weight="bold" font-size="8" text-anchor="middle">-1</text>
<text x="134.20" y="272.90" font-family="Liberation Serif" font-weight="bold" font-size="8" text-anchor="middle">0</text>
<text x="142.00" y="271.40" font-family="Liberation Serif" font-weight="bold" font-size="8" text-anchor="middle">1</text>
<text x="150.00" y="269.30" font-family="Liberation Serif" font-weight="bold" font-size="8" text-anchor="middle">2</text>
<text x="157.50" y="267.10" font-family="Liberation Serif" font-weight="bold" font-size="8" text-anchor="middle">3</text>
<text x="165.50" y="264.60" font-family="Liberation Serif" font-weight="bold" font-size="8" text-anchor="middle">4</text>
<text x="173.50" y="262.60" font-family="Liberation Serif" font-weight="bold" font-size="8" text-anchor="middle">5</text>
<text transform="translate(38.2,268.5) rotate(27)" font-family="Liberation Serif" font-weight="bold" font-style="italic" font-size="9" letter-spacing="0.2" text-anchor="middle" dominant-baseline="central">OAM(<tspan font-style="italic">l</tspan>)</text>
<text transform="translate(141,280.8) rotate(-12.5)" font-family="Liberation Serif" font-weight="bold" font-size="9.5" letter-spacing="0.3" text-anchor="middle">Freq(<tspan font-style="italic">n</tspan>)</text>
<text x="83" y="254.4" font-family="Liberation Serif" font-weight="bold" font-size="9"><tspan font-style="italic">E</tspan> = 0</text>
<text x="0.7" y="163.6" font-family="Liberation Serif" font-weight="bold" font-style="italic" font-size="9.7">(c)</text>
<line x1="196.60" y1="244.55" x2="196.60" y2="177.80" stroke="#e6e6e6" stroke-width="0.8"/><line x1="204.82" y1="242.24" x2="204.82" y2="175.49" stroke="#e6e6e6" stroke-width="0.8"/><line x1="213.03" y1="239.93" x2="213.03" y2="173.18" stroke="#e6e6e6" stroke-width="0.8"/><line x1="221.25" y1="237.62" x2="221.25" y2="170.87" stroke="#e6e6e6" stroke-width="0.8"/><line x1="229.46" y1="235.31" x2="229.46" y2="168.56" stroke="#e6e6e6" stroke-width="0.8"/><line x1="237.68" y1="233.00" x2="237.68" y2="166.25" stroke="#e6e6e6" stroke-width="0.8"/><line x1="245.89" y1="230.69" x2="245.89" y2="163.94" stroke="#e6e6e6" stroke-width="0.8"/><line x1="254.11" y1="228.38" x2="254.11" y2="161.63" stroke="#e6e6e6" stroke-width="0.8"/><line x1="262.32" y1="226.07" x2="262.32" y2="159.32" stroke="#e6e6e6" stroke-width="0.8"/><line x1="270.54" y1="223.76" x2="270.54" y2="157.01" stroke="#e6e6e6" stroke-width="0.8"/><line x1="278.75" y1="221.45" x2="278.75" y2="154.70" stroke="#e6e6e6" stroke-width="0.8"/><line x1="341.75" y1="252.00" x2="341.75" y2="185.25" stroke="#e6e6e6" stroke-width="0.8"/><line x1="335.45" y1="248.95" x2="335.45" y2="182.20" stroke="#e6e6e6" stroke-width="0.8"/><line x1="329.15" y1="245.89" x2="329.15" y2="179.14" stroke="#e6e6e6" stroke-width="0.8"/><line x1="322.85" y1="242.84" x2="322.85" y2="176.09" stroke="#e6e6e6" stroke-width="0.8"/><line x1="316.55" y1="239.78" x2="316.55" y2="173.03" stroke="#e6e6e6" stroke-width="0.8"/><line x1="310.25" y1="236.73" x2="310.25" y2="169.98" stroke="#e6e6e6" stroke-width="0.8"/><line x1="303.95" y1="233.67" x2="303.95" y2="166.92" stroke="#e6e6e6" stroke-width="0.8"/><line x1="297.65" y1="230.62" x2="297.65" y2="163.87" stroke="#e6e6e6" stroke-width="0.8"/><line x1="291.35" y1="227.56" x2="291.35" y2="160.81" stroke="#e6e6e6" stroke-width="0.8"/><line x1="285.05" y1="224.51" x2="285.05" y2="157.76" stroke="#e6e6e6" stroke-width="0.8"/><line x1="278.75" y1="221.45" x2="278.75" y2="154.70" stroke="#e6e6e6" stroke-width="0.8"/><polyline points="196.60,177.80 278.75,154.70 341.75,185.25" fill="none" stroke="#e6e6e6" stroke-width="0.8"/><polyline points="196.60,211.18 278.75,188.08 341.75,218.63" fill="none" stroke="#e6e6e6" stroke-width="0.8"/><polyline points="196.60,244.55 278.75,221.45 341.75,252.00" fill="none" stroke="#e6e6e6" stroke-width="0.8"/><line x1="259.60" y1="275.10" x2="196.60" y2="244.55" stroke="#e6e6e6" stroke-width="0.8"/><line x1="267.81" y1="272.79" x2="204.82" y2="242.24" stroke="#e6e6e6" stroke-width="0.8"/><line x1="276.03" y1="270.48" x2="213.03" y2="239.93" stroke="#e6e6e6" stroke-width="0.8"/><line x1="284.25" y1="268.17" x2="221.25" y2="237.62" stroke="#e6e6e6" stroke-width="0.8"/><line x1="292.46" y1="265.86" x2="229.46" y2="235.31" stroke="#e6e6e6" stroke-width="0.8"/><line x1="300.68" y1="263.55" x2="237.68" y2="233.00" stroke="#e6e6e6" stroke-width="0.8"/><line x1="308.89" y1="261.24" x2="245.89" y2="230.69" stroke="#e6e6e6" stroke-width="0.8"/><line x1="317.11" y1="258.93" x2="254.11" y2="228.38" stroke="#e6e6e6" stroke-width="0.8"/><line x1="325.32" y1="256.62" x2="262.32" y2="226.07" stroke="#e6e6e6" stroke-width="0.8"/><line x1="333.54" y1="254.31" x2="270.54" y2="223.76" stroke="#e6e6e6" stroke-width="0.8"/><line x1="341.75" y1="252.00" x2="278.75" y2="221.45" stroke="#e6e6e6" stroke-width="0.8"/><line x1="259.60" y1="275.10" x2="341.75" y2="252.00" stroke="#e6e6e6" stroke-width="0.8"/><line x1="253.30" y1="272.05" x2="335.45" y2="248.95" stroke="#e6e6e6" stroke-width="0.8"/><line x1="247.00" y1="268.99" x2="329.15" y2="245.89" stroke="#e6e6e6" stroke-width="0.8"/><line x1="240.70" y1="265.94" x2="322.85" y2="242.84" stroke="#e6e6e6" stroke-width="0.8"/><line x1="234.40" y1="262.88" x2="316.55" y2="239.78" stroke="#e6e6e6" stroke-width="0.8"/><line x1="228.10" y1="259.83" x2="310.25" y2="236.73" stroke="#e6e6e6" stroke-width="0.8"/><line x1="221.80" y1="256.77" x2="303.95" y2="233.67" stroke="#e6e6e6" stroke-width="0.8"/><line x1="215.50" y1="253.72" x2="297.65" y2="230.62" stroke="#e6e6e6" stroke-width="0.8"/><line x1="209.20" y1="250.66" x2="291.35" y2="227.56" stroke="#e6e6e6" stroke-width="0.8"/><line x1="202.90" y1="247.61" x2="285.05" y2="224.51" stroke="#e6e6e6" stroke-width="0.8"/><line x1="196.60" y1="244.55" x2="278.75" y2="221.45" stroke="#e6e6e6" stroke-width="0.8"/><line x1="196.60" y1="244.55" x2="278.75" y2="221.45" stroke="#5a5a5a" stroke-width="1.0"/><line x1="278.75" y1="221.45" x2="341.75" y2="252.00" stroke="#5a5a5a" stroke-width="1.0"/><line x1="196.60" y1="244.55" x2="259.60" y2="275.10" stroke="#5a5a5a" stroke-width="1.0"/><line x1="259.60" y1="275.10" x2="341.75" y2="252.00" stroke="#5a5a5a" stroke-width="1.0"/><line x1="196.60" y1="244.55" x2="196.60" y2="177.80" stroke="#5a5a5a" stroke-width="1.0"/><line x1="278.75" y1="221.45" x2="278.75" y2="154.70" stroke="#5a5a5a" stroke-width="1.0"/><line x1="341.75" y1="252.00" x2="341.75" y2="185.25" stroke="#5a5a5a" stroke-width="1.0"/><line x1="196.60" y1="177.80" x2="278.75" y2="154.70" stroke="#5a5a5a" stroke-width="1.0"/><line x1="278.75" y1="154.70" x2="341.75" y2="185.25" stroke="#5a5a5a" stroke-width="1.0"/><line x1="259.60" y1="275.10" x2="258.20" y2="275.50" stroke="#5a5a5a" stroke-width="0.8"/><line x1="253.30" y1="272.05" x2="251.90" y2="272.44" stroke="#5a5a5a" stroke-width="0.8"/><line x1="247.00" y1="268.99" x2="245.60" y2="269.39" stroke="#5a5a5a" stroke-width="0.8"/><line x1="240.70" y1="265.94" x2="239.30" y2="266.33" stroke="#5a5a5a" stroke-width="0.8"/><line x1="234.40" y1="262.88" x2="233.00" y2="263.28" stroke="#5a5a5a" stroke-width="0.8"/><line x1="228.10" y1="259.83" x2="226.70" y2="260.23" stroke="#5a5a5a" stroke-width="0.8"/><line x1="221.80" y1="256.77" x2="220.40" y2="257.17" stroke="#5a5a5a" stroke-width="0.8"/><line x1="215.50" y1="253.72" x2="214.10" y2="254.12" stroke="#5a5a5a" stroke-width="0.8"/><line x1="209.20" y1="250.66" x2="207.80" y2="251.06" stroke="#5a5a5a" stroke-width="0.8"/><line x1="202.90" y1="247.61" x2="201.50" y2="248.01" stroke="#5a5a5a" stroke-width="0.8"/><line x1="196.60" y1="244.55" x2="195.20" y2="244.95" stroke="#5a5a5a" stroke-width="0.8"/><line x1="259.60" y1="275.10" x2="260.10" y2="276.50" stroke="#5a5a5a" stroke-width="0.8"/><line x1="267.81" y1="272.79" x2="268.31" y2="274.19" stroke="#5a5a5a" stroke-width="0.8"/><line x1="276.03" y1="270.48" x2="276.53" y2="271.88" stroke="#5a5a5a" stroke-width="0.8"/><line x1="284.25" y1="268.17" x2="284.75" y2="269.57" stroke="#5a5a5a" stroke-width="0.8"/><line x1="292.46" y1="265.86" x2="292.96" y2="267.26" stroke="#5a5a5a" stroke-width="0.8"/><line x1="300.68" y1="263.55" x2="301.18" y2="264.95" stroke="#5a5a5a" stroke-width="0.8"/><line x1="308.89" y1="261.24" x2="309.39" y2="262.64" stroke="#5a5a5a" stroke-width="0.8"/><line x1="317.11" y1="258.93" x2="317.61" y2="260.33" stroke="#5a5a5a" stroke-width="0.8"/><line x1="325.32" y1="256.62" x2="325.82" y2="258.02" stroke="#5a5a5a" stroke-width="0.8"/><line x1="333.54" y1="254.31" x2="334.04" y2="255.71" stroke="#5a5a5a" stroke-width="0.8"/><line x1="341.75" y1="252.00" x2="342.25" y2="253.40" stroke="#5a5a5a" stroke-width="0.8"/><line x1="196.60" y1="177.80" x2="194.60" y2="177.80" stroke="#5a5a5a" stroke-width="0.8"/><line x1="196.60" y1="211.18" x2="194.60" y2="211.18" stroke="#5a5a5a" stroke-width="0.8"/><line x1="196.60" y1="244.55" x2="194.60" y2="244.55" stroke="#5a5a5a" stroke-width="0.8"/>
<g stroke-linejoin="round"><polygon points="196.6,211.2 278.8,188.1 341.8,218.6 259.6,241.7" fill="#33b8a1"/><polygon points="277.8,190.8 274.6,184.2 281.9,192.9" fill="url(#g27)" stroke="url(#g27)" stroke-width="0.3"/><polygon points="274.6,184.2 278.8,188.1 281.9,192.9" fill="url(#g28)" stroke="url(#g28)" stroke-width="0.3"/><polygon points="277.8,190.8 274.6,184.2 278.8,188.1 281.9,192.9" fill="none" stroke="#000" stroke-opacity="0.18" stroke-width="0.35"/><polygon points="280.9,192.3 277.8,190.8 285.1,185.2" fill="url(#g29)" stroke="url(#g29)" stroke-width="0.3"/><polygon points="277.8,190.8 281.9,192.9 285.1,185.2" fill="url(#g30)" stroke="url(#g30)" stroke-width="0.3"/><polygon points="280.9,192.3 277.8,190.8 281.9,192.9 285.1,185.2" fill="none" stroke="#000" stroke-opacity="0.18" stroke-width="0.35"/><polygon points="273.7,191.9 270.5,198.2 277.8,190.8" fill="url(#g31)" stroke="url(#g31)" stroke-width="0.3"/><polygon points="270.5,198.2 274.6,184.2 277.8,190.8" fill="url(#g32)" stroke="url(#g32)" stroke-width="0.3"/><polygon points="273.7,191.9 270.5,198.2 274.6,184.2 277.8,190.8" fill="none" stroke="#000" stroke-opacity="0.18" stroke-width="0.35"/><polygon points="284.1,193.8 280.9,192.3 288.2,199.3" fill="url(#g33)" stroke="url(#g33)" stroke-width="0.3"/><polygon points="280.9,192.3 285.1,185.2 288.2,199.3" fill="url(#g34)" stroke="url(#g34)" stroke-width="0.3"/><polygon points="284.1,193.8 280.9,192.3 285.1,185.2 288.2,199.3" fill="none" stroke="#000" stroke-opacity="0.18" stroke-width="0.35"/><polygon points="276.8,193.4 273.7,191.9 277.8,190.8 280.9,192.3" fill="#33b8a1" stroke="#0d6e5a" stroke-opacity="0.45" stroke-width="0.35"/><polygon points="269.6,193.1 266.4,180.4 273.7,191.9" fill="url(#g35)" stroke="url(#g35)" stroke-width="0.3"/><polygon points="266.4,180.4 270.5,198.2 273.7,191.9" fill="url(#g36)" stroke="url(#g36)" stroke-width="0.3"/><polygon points="269.6,193.1 266.4,180.4 270.5,198.2 273.7,191.9" fill="none" stroke="#000" stroke-opacity="0.18" stroke-width="0.35"/><polygon points="287.2,195.3 284.1,193.8 291.4,182.4" fill="url(#g37)" stroke="url(#g37)" stroke-width="0.3"/><polygon points="284.1,193.8 288.2,199.3 291.4,182.4" fill="url(#g38)" stroke="url(#g38)" stroke-width="0.3"/><polygon points="287.2,195.3 284.1,193.8 288.2,199.3 291.4,182.4" fill="none" stroke="#000" stroke-opacity="0.18" stroke-width="0.35"/><polygon points="280.0,195.0 276.8,193.4 280.9,192.3 284.1,193.8" fill="#33b8a1" stroke="#0d6e5a" stroke-opacity="0.45" stroke-width="0.35"/><polygon points="272.7,194.6 269.6,193.1 273.7,191.9 276.8,193.4" fill="#33b8a1" stroke="#0d6e5a" stroke-opacity="0.45" stroke-width="0.35"/><polygon points="265.5,194.2 262.3,206.0 269.6,193.1" fill="url(#g39)" stroke="url(#g39)" stroke-width="0.3"/><polygon points="262.3,206.0 266.4,180.4 269.6,193.1" fill="url(#g40)" stroke="url(#g40)" stroke-width="0.3"/><polygon points="265.5,194.2 262.3,206.0 266.4,180.4 269.6,193.1" fill="none" stroke="#000" stroke-opacity="0.18" stroke-width="0.35"/><polygon points="290.4,196.9 287.2,195.3 294.5,206.8" fill="url(#g41)" stroke="url(#g41)" stroke-width="0.3"/><polygon points="287.2,195.3 291.4,182.4 294.5,206.8" fill="url(#g42)" stroke="url(#g42)" stroke-width="0.3"/><polygon points="290.4,196.9 287.2,195.3 291.4,182.4 294.5,206.8" fill="none" stroke="#000" stroke-opacity="0.18" stroke-width="0.35"/><polygon points="283.1,196.5 280.0,195.0 284.1,193.8 287.2,195.3" fill="#33b8a1" stroke="#0d6e5a" stroke-opacity="0.45" stroke-width="0.35"/><polygon points="275.9,196.1 272.7,194.6 276.8,193.4 280.0,195.0" fill="#33b8a1" stroke="#0d6e5a" stroke-opacity="0.45" stroke-width="0.35"/><polygon points="268.6,195.8 265.5,194.2 269.6,193.1 272.7,194.6" fill="#33b8a1" stroke="#0d6e5a" stroke-opacity="0.45" stroke-width="0.35"/><polygon points="261.4,195.4 258.2,176.6 265.5,194.2" fill="url(#g43)" stroke="url(#g43)" stroke-width="0.3"/><polygon points="258.2,176.6 262.3,206.0 265.5,194.2" fill="url(#g44)" stroke="url(#g44)" stroke-width="0.3"/><polygon points="261.4,195.4 258.2,176.6 262.3,206.0 265.5,194.2" fill="none" stroke="#000" stroke-opacity="0.18" stroke-width="0.35"/><polygon points="293.5,198.4 290.4,196.9 297.7,179.8" fill="url(#g45)" stroke="url(#g45)" stroke-width="0.3"/><polygon points="290.4,196.9 294.5,206.8 297.7,179.8" fill="url(#g46)" stroke="url(#g46)" stroke-width="0.3"/><polygon points="293.5,198.4 290.4,196.9 294.5,206.8 297.7,179.8" fill="none" stroke="#000" stroke-opacity="0.18" stroke-width="0.35"/><polygon points="286.3,198.0 283.1,196.5 287.2,195.3 290.4,196.9" fill="#33b8a1" stroke="#0d6e5a" stroke-opacity="0.45" stroke-width="0.35"/><polygon points="279.0,197.7 275.9,196.1 280.0,195.0 283.1,196.5" fill="#33b8a1" stroke="#0d6e5a" stroke-opacity="0.45" stroke-width="0.35"/><polygon points="271.8,197.3 268.6,195.8 272.7,194.6 275.9,196.1" fill="#33b8a1" stroke="#0d6e5a" stroke-opacity="0.45" stroke-width="0.35"/><polygon points="264.5,196.9 261.4,195.4 265.5,194.2 268.6,195.8" fill="#33b8a1" stroke="#0d6e5a" stroke-opacity="0.45" stroke-width="0.35"/><polygon points="257.3,196.5 254.1,212.8 261.4,195.4" fill="url(#g47)" stroke="url(#g47)" stroke-width="0.3"/><polygon points="254.1,212.8 258.2,176.6 261.4,195.4" fill="url(#g48)" stroke="url(#g48)" stroke-width="0.3"/><polygon points="257.3,196.5 254.1,212.8 258.2,176.6 261.4,195.4" fill="none" stroke="#000" stroke-opacity="0.18" stroke-width="0.35"/><polygon points="296.7,199.9 293.5,198.4 300.8,215.5" fill="url(#g49)" stroke="url(#g49)" stroke-width="0.3"/><polygon points="293.5,198.4 297.7,179.8 300.8,215.5" fill="url(#g50)" stroke="url(#g50)" stroke-width="0.3"/><polygon points="296.7,199.9 293.5,198.4 297.7,179.8 300.8,215.5" fill="none" stroke="#000" stroke-opacity="0.18" stroke-width="0.35"/><polygon points="289.4,199.6 286.3,198.0 290.4,196.9 293.5,198.4" fill="#33b8a1" stroke="#0d6e5a" stroke-opacity="0.45" stroke-width="0.35"/><polygon points="282.2,199.2 279.0,197.7 283.1,196.5 286.3,198.0" fill="#33b8a1" stroke="#0d6e5a" stroke-opacity="0.45" stroke-width="0.35"/><polygon points="274.9,198.8 271.8,197.3 275.9,196.1 279.0,197.7" fill="#33b8a1" stroke="#0d6e5a" stroke-opacity="0.45" stroke-width="0.35"/><polygon points="267.7,198.4 264.5,196.9 268.6,195.8 271.8,197.3" fill="#33b8a1" stroke="#0d6e5a" stroke-opacity="0.45" stroke-width="0.35"/><polygon points="260.4,198.1 257.3,196.5 261.4,195.4 264.5,196.9" fill="#33b8a1" stroke="#0d6e5a" stroke-opacity="0.45" stroke-width="0.35"/><polygon points="253.1,197.7 250.0,175.5 257.3,196.5" fill="url(#g51)" stroke="url(#g51)" stroke-width="0.3"/><polygon points="250.0,175.5 254.1,212.8 257.3,196.5" fill="url(#g52)" stroke="url(#g52)" stroke-width="0.3"/><polygon points="253.1,197.7 250.0,175.5 254.1,212.8 257.3,196.5" fill="none" stroke="#000" stroke-opacity="0.18" stroke-width="0.35"/><polygon points="299.8,201.5 296.7,199.9 304.0,178.9" fill="url(#g53)" stroke="url(#g53)" stroke-width="0.3"/><polygon points="296.7,199.9 300.8,215.5 304.0,178.9" fill="url(#g54)" stroke="url(#g54)" stroke-width="0.3"/><polygon points="299.8,201.5 296.7,199.9 300.8,215.5 304.0,178.9" fill="none" stroke="#000" stroke-opacity="0.18" stroke-width="0.35"/><polygon points="292.6,201.1 289.4,199.6 293.5,198.4 296.7,199.9" fill="#33b8a1" stroke="#0d6e5a" stroke-opacity="0.45" stroke-width="0.35"/><polygon points="285.3,200.7 282.2,199.2 286.3,198.0 289.4,199.6" fill="#33b8a1" stroke="#0d6e5a" stroke-opacity="0.45" stroke-width="0.35"/><polygon points="278.1,200.3 274.9,198.8 279.0,197.7 282.2,199.2" fill="#33b8a1" stroke="#0d6e5a" stroke-opacity="0.45" stroke-width="0.35"/><polygon points="270.8,200.0 267.7,198.4 271.8,197.3 274.9,198.8" fill="#33b8a1" stroke="#0d6e5a" stroke-opacity="0.45" stroke-width="0.35"/><polygon points="263.6,199.6 260.4,198.1 264.5,196.9 267.7,198.4" fill="#33b8a1" stroke="#0d6e5a" stroke-opacity="0.45" stroke-width="0.35"/><polygon points="256.3,199.2 253.1,197.7 257.3,196.5 260.4,198.1" fill="#33b8a1" stroke="#0d6e5a" stroke-opacity="0.45" stroke-width="0.35"/><polygon points="249.0,198.8 245.9,218.5 253.1,197.7" fill="url(#g55)" stroke="url(#g55)" stroke-width="0.3"/><polygon points="245.9,218.5 250.0,175.5 253.1,197.7" fill="url(#g56)" stroke="url(#g56)" stroke-width="0.3"/><polygon points="249.0,198.8 245.9,218.5 250.0,175.5 253.1,197.7" fill="none" stroke="#000" stroke-opacity="0.18" stroke-width="0.35"/><polygon points="303.0,203.0 299.8,201.5 307.1,221.8" fill="url(#g57)" stroke="url(#g57)" stroke-width="0.3"/><polygon points="299.8,201.5 304.0,178.9 307.1,221.8" fill="url(#g58)" stroke="url(#g58)" stroke-width="0.3"/><polygon points="303.0,203.0 299.8,201.5 304.0,178.9 307.1,221.8" fill="none" stroke="#000" stroke-opacity="0.18" stroke-width="0.35"/><polygon points="295.7,202.6 292.6,201.1 296.7,199.9 299.8,201.5" fill="#33b8a1" stroke="#0d6e5a" stroke-opacity="0.45" stroke-width="0.35"/><polygon points="288.5,202.2 285.3,200.7 289.4,199.6 292.6,201.1" fill="#33b8a1" stroke="#0d6e5a" stroke-opacity="0.45" stroke-width="0.35"/><polygon points="281.2,201.9 278.1,200.3 282.2,199.2 285.3,200.7" fill="#33b8a1" stroke="#0d6e5a" stroke-opacity="0.45" stroke-width="0.35"/><polygon points="274.0,201.5 270.8,200.0 274.9,198.8 278.1,200.3" fill="#33b8a1" stroke="#0d6e5a" stroke-opacity="0.45" stroke-width="0.35"/><polygon points="266.7,201.1 263.6,199.6 267.7,198.4 270.8,200.0" fill="#33b8a1" stroke="#0d6e5a" stroke-opacity="0.45" stroke-width="0.35"/><polygon points="259.4,200.7 256.3,199.2 260.4,198.1 263.6,199.6" fill="#33b8a1" stroke="#0d6e5a" stroke-opacity="0.45" stroke-width="0.35"/><polygon points="252.2,200.4 249.0,198.8 253.1,197.7 256.3,199.2" fill="#33b8a1" stroke="#0d6e5a" stroke-opacity="0.45" stroke-width="0.35"/><polygon points="244.9,200.0 241.8,176.2 249.0,198.8" fill="url(#g59)" stroke="url(#g59)" stroke-width="0.3"/><polygon points="241.8,176.2 245.9,218.5 249.0,198.8" fill="url(#g60)" stroke="url(#g60)" stroke-width="0.3"/><polygon points="244.9,200.0 241.8,176.2 245.9,218.5 249.0,198.8" fill="none" stroke="#000" stroke-opacity="0.18" stroke-width="0.35"/><polygon points="306.1,204.5 303.0,203.0 310.2,182.4" fill="url(#g61)" stroke="url(#g61)" stroke-width="0.3"/><polygon points="303.0,203.0 307.1,221.8 310.2,182.4" fill="url(#g62)" stroke="url(#g62)" stroke-width="0.3"/><polygon points="306.1,204.5 303.0,203.0 307.1,221.8 310.2,182.4" fill="none" stroke="#000" stroke-opacity="0.18" stroke-width="0.35"/><polygon points="298.9,204.1 295.7,202.6 299.8,201.5 303.0,203.0" fill="#33b8a1" stroke="#0d6e5a" stroke-opacity="0.45" stroke-width="0.35"/><polygon points="291.6,203.8 288.5,202.2 292.6,201.1 295.7,202.6" fill="#33b8a1" stroke="#0d6e5a" stroke-opacity="0.45" stroke-width="0.35"/><polygon points="284.4,203.4 281.2,201.9 285.3,200.7 288.5,202.2" fill="#33b8a1" stroke="#0d6e5a" stroke-opacity="0.45" stroke-width="0.35"/><polygon points="277.1,203.0 274.0,201.5 278.1,200.3 281.2,201.9" fill="#33b8a1" stroke="#0d6e5a" stroke-opacity="0.45" stroke-width="0.35"/><polygon points="269.9,202.6 266.7,201.1 270.8,200.0 274.0,201.5" fill="#33b8a1" stroke="#0d6e5a" stroke-opacity="0.45" stroke-width="0.35"/><polygon points="262.6,202.3 259.4,200.7 263.6,199.6 266.7,201.1" fill="#33b8a1" stroke="#0d6e5a" stroke-opacity="0.45" stroke-width="0.35"/><polygon points="255.3,201.9 252.2,200.4 256.3,199.2 259.4,200.7" fill="#33b8a1" stroke="#0d6e5a" stroke-opacity="0.45" stroke-width="0.35"/><polygon points="248.1,201.5 244.9,200.0 249.0,198.8 252.2,200.4" fill="#33b8a1" stroke="#0d6e5a" stroke-opacity="0.45" stroke-width="0.35"/><polygon points="240.8,201.2 237.7,221.9 244.9,200.0" fill="url(#g63)" stroke="url(#g63)" stroke-width="0.3"/><polygon points="237.7,221.9 241.8,176.2 244.9,200.0" fill="url(#g64)" stroke="url(#g64)" stroke-width="0.3"/><polygon points="240.8,201.2 237.7,221.9 241.8,176.2 244.9,200.0" fill="none" stroke="#000" stroke-opacity="0.18" stroke-width="0.35"/><polygon points="309.3,206.0 306.1,204.5 313.4,226.0" fill="url(#g65)" stroke="url(#g65)" stroke-width="0.3"/><polygon points="306.1,204.5 310.2,182.4 313.4,226.0" fill="url(#g66)" stroke="url(#g66)" stroke-width="0.3"/><polygon points="309.3,206.0 306.1,204.5 310.2,182.4 313.4,226.0" fill="none" stroke="#000" stroke-opacity="0.18" stroke-width="0.35"/><polygon points="302.0,205.7 298.9,204.1 303.0,203.0 306.1,204.5" fill="#33b8a1" stroke="#0d6e5a" stroke-opacity="0.45" stroke-width="0.35"/><polygon points="294.8,205.3 291.6,203.8 295.7,202.6 298.9,204.1" fill="#33b8a1" stroke="#0d6e5a" stroke-opacity="0.45" stroke-width="0.35"/><polygon points="287.5,204.9 284.4,203.4 288.5,202.2 291.6,203.8" fill="#33b8a1" stroke="#0d6e5a" stroke-opacity="0.45" stroke-width="0.35"/><polygon points="280.3,204.5 277.1,203.0 281.2,201.9 284.4,203.4" fill="#33b8a1" stroke="#0d6e5a" stroke-opacity="0.45" stroke-width="0.35"/><polygon points="273.0,204.2 269.9,202.6 274.0,201.5 277.1,203.0" fill="#33b8a1" stroke="#0d6e5a" stroke-opacity="0.45" stroke-width="0.35"/><polygon points="265.7,203.8 262.6,202.3 266.7,201.1 269.9,202.6" fill="#33b8a1" stroke="#0d6e5a" stroke-opacity="0.45" stroke-width="0.35"/><polygon points="258.5,203.4 255.3,201.9 259.4,200.7 262.6,202.3" fill="#33b8a1" stroke="#0d6e5a" stroke-opacity="0.45" stroke-width="0.35"/><polygon points="251.2,203.1 248.1,201.5 252.2,200.4 255.3,201.9" fill="#33b8a1" stroke="#0d6e5a" stroke-opacity="0.45" stroke-width="0.35"/><polygon points="244.0,202.7 240.8,201.2 244.9,200.0 248.1,201.5" fill="#33b8a1" stroke="#0d6e5a" stroke-opacity="0.45" stroke-width="0.35"/><polygon points="236.7,202.3 233.6,179.2 240.8,201.2" fill="url(#g67)" stroke="url(#g67)" stroke-width="0.3"/><polygon points="233.6,179.2 237.7,221.9 240.8,201.2" fill="url(#g68)" stroke="url(#g68)" stroke-width="0.3"/><polygon points="236.7,202.3 233.6,179.2 237.7,221.9 240.8,201.2" fill="none" stroke="#000" stroke-opacity="0.18" stroke-width="0.35"/><polygon points="312.4,207.6 309.3,206.0 316.6,185.7" fill="url(#g69)" stroke="url(#g69)" stroke-width="0.3"/><polygon points="309.3,206.0 313.4,226.0 316.6,185.7" fill="url(#g70)" stroke="url(#g70)" stroke-width="0.3"/><polygon points="312.4,207.6 309.3,206.0 313.4,226.0 316.6,185.7" fill="none" stroke="#000" stroke-opacity="0.18" stroke-width="0.35"/><polygon points="305.2,207.2 302.0,205.7 306.1,204.5 309.3,206.0" fill="#33b8a1" stroke="#0d6e5a" stroke-opacity="0.45" stroke-width="0.35"/><polygon points="297.9,206.8 294.8,205.3 298.9,204.1 302.0,205.7" fill="#33b8a1" stroke="#0d6e5a" stroke-opacity="0.45" stroke-width="0.35"/><polygon points="290.7,206.4 287.5,204.9 291.6,203.8 294.8,205.3" fill="#33b8a1" stroke="#0d6e5a" stroke-opacity="0.45" stroke-width="0.35"/><polygon points="283.4,206.1 280.3,204.5 284.4,203.4 287.5,204.9" fill="#33b8a1" stroke="#0d6e5a" stroke-opacity="0.45" stroke-width="0.35"/><polygon points="276.2,205.7 273.0,204.2 277.1,203.0 280.3,204.5" fill="#33b8a1" stroke="#0d6e5a" stroke-opacity="0.45" stroke-width="0.35"/><polygon points="268.9,205.3 265.7,203.8 269.9,202.6 273.0,204.2" fill="#33b8a1" stroke="#0d6e5a" stroke-opacity="0.45" stroke-width="0.35"/><polygon points="261.6,205.0 258.5,203.4 262.6,202.3 265.7,203.8" fill="#33b8a1" stroke="#0d6e5a" stroke-opacity="0.45" stroke-width="0.35"/><polygon points="254.4,204.6 251.2,203.1 255.3,201.9 258.5,203.4" fill="#33b8a1" stroke="#0d6e5a" stroke-opacity="0.45" stroke-width="0.35"/><polygon points="247.1,204.2 244.0,202.7 248.1,201.5 251.2,203.1" fill="#33b8a1" stroke="#0d6e5a" stroke-opacity="0.45" stroke-width="0.35"/><polygon points="239.9,203.8 236.7,202.3 240.8,201.2 244.0,202.7" fill="#33b8a1" stroke="#0d6e5a" stroke-opacity="0.45" stroke-width="0.35"/><polygon points="232.6,203.5 229.5,224.2 236.7,202.3" fill="url(#g71)" stroke="url(#g71)" stroke-width="0.3"/><polygon points="229.5,224.2 233.6,179.2 236.7,202.3" fill="url(#g72)" stroke="url(#g72)" stroke-width="0.3"/><polygon points="232.6,203.5 229.5,224.2 233.6,179.2 236.7,202.3" fill="none" stroke="#000" stroke-opacity="0.18" stroke-width="0.35"/><polygon points="315.6,209.1 312.4,207.6 319.7,229.1" fill="url(#g73)" stroke="url(#g73)" stroke-width="0.3"/><polygon points="312.4,207.6 316.6,185.7 319.7,229.1" fill="url(#g74)" stroke="url(#g74)" stroke-width="0.3"/><polygon points="315.6,209.1 312.4,207.6 316.6,185.7 319.7,229.1" fill="none" stroke="#000" stroke-opacity="0.18" stroke-width="0.35"/><polygon points="308.3,208.7 305.2,207.2 309.3,206.0 312.4,207.6" fill="#33b8a1" stroke="#0d6e5a" stroke-opacity="0.45" stroke-width="0.35"/><polygon points="301.1,208.3 297.9,206.8 302.0,205.7 305.2,207.2" fill="#33b8a1" stroke="#0d6e5a" stroke-opacity="0.45" stroke-width="0.35"/><polygon points="293.8,208.0 290.7,206.4 294.8,205.3 297.9,206.8" fill="#33b8a1" stroke="#0d6e5a" stroke-opacity="0.45" stroke-width="0.35"/><polygon points="286.6,207.6 283.4,206.1 287.5,204.9 290.7,206.4" fill="#33b8a1" stroke="#0d6e5a" stroke-opacity="0.45" stroke-width="0.35"/><polygon points="279.3,207.2 276.2,205.7 280.3,204.5 283.4,206.1" fill="#33b8a1" stroke="#0d6e5a" stroke-opacity="0.45" stroke-width="0.35"/><polygon points="272.0,206.9 268.9,205.3 273.0,204.2 276.2,205.7" fill="#33b8a1" stroke="#0d6e5a" stroke-opacity="0.45" stroke-width="0.35"/><polygon points="264.8,206.5 261.6,205.0 265.7,203.8 268.9,205.3" fill="#33b8a1" stroke="#0d6e5a" stroke-opacity="0.45" stroke-width="0.35"/><polygon points="257.5,206.1 254.4,204.6 258.5,203.4 261.6,205.0" fill="#33b8a1" stroke="#0d6e5a" stroke-opacity="0.45" stroke-width="0.35"/><polygon points="250.3,205.7 247.1,204.2 251.2,203.1 254.4,204.6" fill="#33b8a1" stroke="#0d6e5a" stroke-opacity="0.45" stroke-width="0.35"/><polygon points="243.0,205.4 239.9,203.8 244.0,202.7 247.1,204.2" fill="#33b8a1" stroke="#0d6e5a" stroke-opacity="0.45" stroke-width="0.35"/><polygon points="235.8,205.0 232.6,203.5 236.7,202.3 239.9,203.8" fill="#33b8a1" stroke="#0d6e5a" stroke-opacity="0.45" stroke-width="0.35"/><polygon points="228.5,204.6 225.4,184.2 232.6,203.5" fill="url(#g75)" stroke="url(#g75)" stroke-width="0.3"/><polygon points="225.4,184.2 229.5,224.2 232.6,203.5" fill="url(#g76)" stroke="url(#g76)" stroke-width="0.3"/><polygon points="228.5,204.6 225.4,184.2 229.5,224.2 232.6,203.5" fill="none" stroke="#000" stroke-opacity="0.18" stroke-width="0.35"/><polygon points="318.7,210.6 315.6,209.1 322.9,191.2" fill="url(#g77)" stroke="url(#g77)" stroke-width="0.3"/><polygon points="315.6,209.1 319.7,229.1 322.9,191.2" fill="url(#g78)" stroke="url(#g78)" stroke-width="0.3"/><polygon points="318.7,210.6 315.6,209.1 319.7,229.1 322.9,191.2" fill="none" stroke="#000" stroke-opacity="0.18" stroke-width="0.35"/><polygon points="311.5,210.2 308.3,208.7 312.4,207.6 315.6,209.1" fill="#33b8a1" stroke="#0d6e5a" stroke-opacity="0.45" stroke-width="0.35"/><polygon points="304.2,209.9 301.1,208.3 305.2,207.2 308.3,208.7" fill="#33b8a1" stroke="#0d6e5a" stroke-opacity="0.45" stroke-width="0.35"/><polygon points="297.0,209.5 293.8,208.0 297.9,206.8 301.1,208.3" fill="#33b8a1" stroke="#0d6e5a" stroke-opacity="0.45" stroke-width="0.35"/><polygon points="289.7,209.1 286.6,207.6 290.7,206.4 293.8,208.0" fill="#33b8a1" stroke="#0d6e5a" stroke-opacity="0.45" stroke-width="0.35"/><polygon points="282.5,208.8 279.3,207.2 283.4,206.1 286.6,207.6" fill="#33b8a1" stroke="#0d6e5a" stroke-opacity="0.45" stroke-width="0.35"/><polygon points="275.2,208.4 272.0,206.9 276.2,205.7 279.3,207.2" fill="#33b8a1" stroke="#0d6e5a" stroke-opacity="0.45" stroke-width="0.35"/><polygon points="267.9,208.0 264.8,206.5 268.9,205.3 272.0,206.9" fill="#33b8a1" stroke="#0d6e5a" stroke-opacity="0.45" stroke-width="0.35"/><polygon points="260.7,207.6 257.5,206.1 261.6,205.0 264.8,206.5" fill="#33b8a1" stroke="#0d6e5a" stroke-opacity="0.45" stroke-width="0.35"/><polygon points="253.4,207.3 250.3,205.7 254.4,204.6 257.5,206.1" fill="#33b8a1" stroke="#0d6e5a" stroke-opacity="0.45" stroke-width="0.35"/><polygon points="246.2,206.9 243.0,205.4 247.1,204.2 250.3,205.7" fill="#33b8a1" stroke="#0d6e5a" stroke-opacity="0.45" stroke-width="0.35"/><polygon points="238.9,206.5 235.8,205.0 239.9,203.8 243.0,205.4" fill="#33b8a1" stroke="#0d6e5a" stroke-opacity="0.45" stroke-width="0.35"/><polygon points="231.7,206.1 228.5,204.6 232.6,203.5 235.8,205.0" fill="#33b8a1" stroke="#0d6e5a" stroke-opacity="0.45" stroke-width="0.35"/><polygon points="224.4,205.8 221.2,225.4 228.5,204.6" fill="url(#g79)" stroke="url(#g79)" stroke-width="0.3"/><polygon points="221.2,225.4 225.4,184.2 228.5,204.6" fill="url(#g80)" stroke="url(#g80)" stroke-width="0.3"/><polygon points="224.4,205.8 221.2,225.4 225.4,184.2 228.5,204.6" fill="none" stroke="#000" stroke-opacity="0.18" stroke-width="0.35"/><polygon points="321.9,212.1 318.7,210.6 326.0,227.7" fill="url(#g81)" stroke="url(#g81)" stroke-width="0.3"/><polygon points="318.7,210.6 322.9,191.2 326.0,227.7" fill="url(#g82)" stroke="url(#g82)" stroke-width="0.3"/><polygon points="321.9,212.1 318.7,210.6 322.9,191.2 326.0,227.7" fill="none" stroke="#000" stroke-opacity="0.18" stroke-width="0.35"/><polygon points="314.6,211.8 311.5,210.2 315.6,209.1 318.7,210.6" fill="#33b8a1" stroke="#0d6e5a" stroke-opacity="0.45" stroke-width="0.35"/><polygon points="307.4,211.4 304.2,209.9 308.3,208.7 311.5,210.2" fill="#33b8a1" stroke="#0d6e5a" stroke-opacity="0.45" stroke-width="0.35"/><polygon points="300.1,211.0 297.0,209.5 301.1,208.3 304.2,209.9" fill="#33b8a1" stroke="#0d6e5a" stroke-opacity="0.45" stroke-width="0.35"/><polygon points="292.9,210.7 289.7,209.1 293.8,208.0 297.0,209.5" fill="#33b8a1" stroke="#0d6e5a" stroke-opacity="0.45" stroke-width="0.35"/><polygon points="285.6,210.3 282.5,208.8 286.6,207.6 289.7,209.1" fill="#33b8a1" stroke="#0d6e5a" stroke-opacity="0.45" stroke-width="0.35"/><polygon points="278.3,209.9 275.2,208.4 279.3,207.2 282.5,208.8" fill="#33b8a1" stroke="#0d6e5a" stroke-opacity="0.45" stroke-width="0.35"/><polygon points="271.1,209.5 267.9,208.0 272.0,206.9 275.2,208.4" fill="#33b8a1" stroke="#0d6e5a" stroke-opacity="0.45" stroke-width="0.35"/><polygon points="263.8,209.2 260.7,207.6 264.8,206.5 267.9,208.0" fill="#33b8a1" stroke="#0d6e5a" stroke-opacity="0.45" stroke-width="0.35"/><polygon points="256.6,208.8 253.4,207.3 257.5,206.1 260.7,207.6" fill="#33b8a1" stroke="#0d6e5a" stroke-opacity="0.45" stroke-width="0.35"/><polygon points="249.3,208.4 246.2,206.9 250.3,205.7 253.4,207.3" fill="#33b8a1" stroke="#0d6e5a" stroke-opacity="0.45" stroke-width="0.35"/><polygon points="242.1,208.0 238.9,206.5 243.0,205.4 246.2,206.9" fill="#33b8a1" stroke="#0d6e5a" stroke-opacity="0.45" stroke-width="0.35"/><polygon points="234.8,207.7 231.7,206.1 235.8,205.0 238.9,206.5" fill="#33b8a1" stroke="#0d6e5a" stroke-opacity="0.45" stroke-width="0.35"/><polygon points="227.5,207.3 224.4,205.8 228.5,204.6 231.7,206.1" fill="#33b8a1" stroke="#0d6e5a" stroke-opacity="0.45" stroke-width="0.35"/><polygon points="220.3,206.9 217.1,188.7 224.4,205.8" fill="url(#g83)" stroke="url(#g83)" stroke-width="0.3"/><polygon points="217.1,188.7 221.2,225.4 224.4,205.8" fill="url(#g84)" stroke="url(#g84)" stroke-width="0.3"/><polygon points="220.3,206.9 217.1,188.7 221.2,225.4 224.4,205.8" fill="none" stroke="#000" stroke-opacity="0.18" stroke-width="0.35"/><polygon points="325.0,213.7 321.9,212.1 329.2,196.7" fill="url(#g85)" stroke="url(#g85)" stroke-width="0.3"/><polygon points="321.9,212.1 326.0,227.7 329.2,196.7" fill="url(#g86)" stroke="url(#g86)" stroke-width="0.3"/><polygon points="325.0,213.7 321.9,212.1 326.0,227.7 329.2,196.7" fill="none" stroke="#000" stroke-opacity="0.18" stroke-width="0.35"/><polygon points="317.8,213.3 314.6,211.8 318.7,210.6 321.9,212.1" fill="#33b8a1" stroke="#0d6e5a" stroke-opacity="0.45" stroke-width="0.35"/><polygon points="310.5,212.9 307.4,211.4 311.5,210.2 314.6,211.8" fill="#33b8a1" stroke="#0d6e5a" stroke-opacity="0.45" stroke-width="0.35"/><polygon points="303.3,212.6 300.1,211.0 304.2,209.9 307.4,211.4" fill="#33b8a1" stroke="#0d6e5a" stroke-opacity="0.45" stroke-width="0.35"/><polygon points="296.0,212.2 292.9,210.7 297.0,209.5 300.1,211.0" fill="#33b8a1" stroke="#0d6e5a" stroke-opacity="0.45" stroke-width="0.35"/><polygon points="288.8,211.8 285.6,210.3 289.7,209.1 292.9,210.7" fill="#33b8a1" stroke="#0d6e5a" stroke-opacity="0.45" stroke-width="0.35"/><polygon points="281.5,211.4 278.3,209.9 282.5,208.8 285.6,210.3" fill="#33b8a1" stroke="#0d6e5a" stroke-opacity="0.45" stroke-width="0.35"/><polygon points="274.2,211.1 271.1,209.5 275.2,208.4 278.3,209.9" fill="#33b8a1" stroke="#0d6e5a" stroke-opacity="0.45" stroke-width="0.35"/><polygon points="267.0,210.7 263.8,209.2 267.9,208.0 271.1,209.5" fill="#33b8a1" stroke="#0d6e5a" stroke-opacity="0.45" stroke-width="0.35"/><polygon points="259.7,210.3 256.6,208.8 260.7,207.6 263.8,209.2" fill="#33b8a1" stroke="#0d6e5a" stroke-opacity="0.45" stroke-width="0.35"/><polygon points="252.5,209.9 249.3,208.4 253.4,207.3 256.6,208.8" fill="#33b8a1" stroke="#0d6e5a" stroke-opacity="0.45" stroke-width="0.35"/><polygon points="245.2,209.6 242.1,208.0 246.2,206.9 249.3,208.4" fill="#33b8a1" stroke="#0d6e5a" stroke-opacity="0.45" stroke-width="0.35"/><polygon points="238.0,209.2 234.8,207.7 238.9,206.5 242.1,208.0" fill="#33b8a1" stroke="#0d6e5a" stroke-opacity="0.45" stroke-width="0.35"/><polygon points="230.7,208.8 227.5,207.3 231.7,206.1 234.8,207.7" fill="#33b8a1" stroke="#0d6e5a" stroke-opacity="0.45" stroke-width="0.35"/><polygon points="223.4,208.5 220.3,206.9 224.4,205.8 227.5,207.3" fill="#33b8a1" stroke="#0d6e5a" stroke-opacity="0.45" stroke-width="0.35"/><polygon points="216.2,208.1 213.0,224.4 220.3,206.9" fill="url(#g87)" stroke="url(#g87)" stroke-width="0.3"/><polygon points="213.0,224.4 217.1,188.7 220.3,206.9" fill="url(#g88)" stroke="url(#g88)" stroke-width="0.3"/><polygon points="216.2,208.1 213.0,224.4 217.1,188.7 220.3,206.9" fill="none" stroke="#000" stroke-opacity="0.18" stroke-width="0.35"/><polygon points="328.2,215.2 325.0,213.7 332.3,226.8" fill="url(#g89)" stroke="url(#g89)" stroke-width="0.3"/><polygon points="325.0,213.7 329.2,196.7 332.3,226.8" fill="url(#g90)" stroke="url(#g90)" stroke-width="0.3"/><polygon points="328.2,215.2 325.0,213.7 329.2,196.7 332.3,226.8" fill="none" stroke="#000" stroke-opacity="0.18" stroke-width="0.35"/><polygon points="320.9,214.8 317.8,213.3 321.9,212.1 325.0,213.7" fill="#33b8a1" stroke="#0d6e5a" stroke-opacity="0.45" stroke-width="0.35"/><polygon points="313.7,214.5 310.5,212.9 314.6,211.8 317.8,213.3" fill="#33b8a1" stroke="#0d6e5a" stroke-opacity="0.45" stroke-width="0.35"/><polygon points="306.4,214.1 303.3,212.6 307.4,211.4 310.5,212.9" fill="#33b8a1" stroke="#0d6e5a" stroke-opacity="0.45" stroke-width="0.35"/><polygon points="299.2,213.7 296.0,212.2 300.1,211.0 303.3,212.6" fill="#33b8a1" stroke="#0d6e5a" stroke-opacity="0.45" stroke-width="0.35"/><polygon points="291.9,213.3 288.8,211.8 292.9,210.7 296.0,212.2" fill="#33b8a1" stroke="#0d6e5a" stroke-opacity="0.45" stroke-width="0.35"/><polygon points="284.6,213.0 281.5,211.4 285.6,210.3 288.8,211.8" fill="#33b8a1" stroke="#0d6e5a" stroke-opacity="0.45" stroke-width="0.35"/><polygon points="277.4,212.6 274.2,211.1 278.3,209.9 281.5,211.4" fill="#33b8a1" stroke="#0d6e5a" stroke-opacity="0.45" stroke-width="0.35"/><polygon points="270.1,212.2 267.0,210.7 271.1,209.5 274.2,211.1" fill="#33b8a1" stroke="#0d6e5a" stroke-opacity="0.45" stroke-width="0.35"/><polygon points="262.9,211.8 259.7,210.3 263.8,209.2 267.0,210.7" fill="#33b8a1" stroke="#0d6e5a" stroke-opacity="0.45" stroke-width="0.35"/><polygon points="255.6,211.5 252.5,209.9 256.6,208.8 259.7,210.3" fill="#33b8a1" stroke="#0d6e5a" stroke-opacity="0.45" stroke-width="0.35"/><polygon points="248.4,211.1 245.2,209.6 249.3,208.4 252.5,209.9" fill="#33b8a1" stroke="#0d6e5a" stroke-opacity="0.45" stroke-width="0.35"/><polygon points="241.1,210.7 238.0,209.2 242.1,208.0 245.2,209.6" fill="#33b8a1" stroke="#0d6e5a" stroke-opacity="0.45" stroke-width="0.35"/><polygon points="233.8,210.4 230.7,208.8 234.8,207.7 238.0,209.2" fill="#33b8a1" stroke="#0d6e5a" stroke-opacity="0.45" stroke-width="0.35"/><polygon points="226.6,210.0 223.4,208.5 227.5,207.3 230.7,208.8" fill="#33b8a1" stroke="#0d6e5a" stroke-opacity="0.45" stroke-width="0.35"/><polygon points="219.3,209.6 216.2,208.1 220.3,206.9 223.4,208.5" fill="#33b8a1" stroke="#0d6e5a" stroke-opacity="0.45" stroke-width="0.35"/><polygon points="212.1,209.2 208.9,195.1 216.2,208.1" fill="url(#g91)" stroke="url(#g91)" stroke-width="0.3"/><polygon points="208.9,195.1 213.0,224.4 216.2,208.1" fill="url(#g92)" stroke="url(#g92)" stroke-width="0.3"/><polygon points="212.1,209.2 208.9,195.1 213.0,224.4 216.2,208.1" fill="none" stroke="#000" stroke-opacity="0.18" stroke-width="0.35"/><polygon points="331.3,216.7 328.2,215.2 335.5,203.7" fill="url(#g93)" stroke="url(#g93)" stroke-width="0.3"/><polygon points="328.2,215.2 332.3,226.8 335.5,203.7" fill="url(#g94)" stroke="url(#g94)" stroke-width="0.3"/><polygon points="331.3,216.7 328.2,215.2 332.3,226.8 335.5,203.7" fill="none" stroke="#000" stroke-opacity="0.18" stroke-width="0.35"/><polygon points="324.1,216.4 320.9,214.8 325.0,213.7 328.2,215.2" fill="#33b8a1" stroke="#0d6e5a" stroke-opacity="0.45" stroke-width="0.35"/><polygon points="316.8,216.0 313.7,214.5 317.8,213.3 320.9,214.8" fill="#33b8a1" stroke="#0d6e5a" stroke-opacity="0.45" stroke-width="0.35"/><polygon points="309.6,215.6 306.4,214.1 310.5,212.9 313.7,214.5" fill="#33b8a1" stroke="#0d6e5a" stroke-opacity="0.45" stroke-width="0.35"/><polygon points="302.3,215.2 299.2,213.7 303.3,212.6 306.4,214.1" fill="#33b8a1" stroke="#0d6e5a" stroke-opacity="0.45" stroke-width="0.35"/><polygon points="295.1,214.9 291.9,213.3 296.0,212.2 299.2,213.7" fill="#33b8a1" stroke="#0d6e5a" stroke-opacity="0.45" stroke-width="0.35"/><polygon points="287.8,214.5 284.6,213.0 288.8,211.8 291.9,213.3" fill="#33b8a1" stroke="#0d6e5a" stroke-opacity="0.45" stroke-width="0.35"/><polygon points="280.5,214.1 277.4,212.6 281.5,211.4 284.6,213.0" fill="#33b8a1" stroke="#0d6e5a" stroke-opacity="0.45" stroke-width="0.35"/><polygon points="273.3,213.7 270.1,212.2 274.2,211.1 277.4,212.6" fill="#33b8a1" stroke="#0d6e5a" stroke-opacity="0.45" stroke-width="0.35"/><polygon points="266.0,213.4 262.9,211.8 267.0,210.7 270.1,212.2" fill="#33b8a1" stroke="#0d6e5a" stroke-opacity="0.45" stroke-width="0.35"/><polygon points="258.8,213.0 255.6,211.5 259.7,210.3 262.9,211.8" fill="#33b8a1" stroke="#0d6e5a" stroke-opacity="0.45" stroke-width="0.35"/><polygon points="251.5,212.6 248.4,211.1 252.5,209.9 255.6,211.5" fill="#33b8a1" stroke="#0d6e5a" stroke-opacity="0.45" stroke-width="0.35"/><polygon points="244.3,212.3 241.1,210.7 245.2,209.6 248.4,211.1" fill="#33b8a1" stroke="#0d6e5a" stroke-opacity="0.45" stroke-width="0.35"/><polygon points="237.0,211.9 233.8,210.4 238.0,209.2 241.1,210.7" fill="#33b8a1" stroke="#0d6e5a" stroke-opacity="0.45" stroke-width="0.35"/><polygon points="229.7,211.5 226.6,210.0 230.7,208.8 233.8,210.4" fill="#33b8a1" stroke="#0d6e5a" stroke-opacity="0.45" stroke-width="0.35"/><polygon points="222.5,211.1 219.3,209.6 223.4,208.5 226.6,210.0" fill="#33b8a1" stroke="#0d6e5a" stroke-opacity="0.45" stroke-width="0.35"/><polygon points="215.2,210.8 212.1,209.2 216.2,208.1 219.3,209.6" fill="#33b8a1" stroke="#0d6e5a" stroke-opacity="0.45" stroke-width="0.35"/><polygon points="208.0,210.4 204.8,221.7 212.1,209.2" fill="url(#g95)" stroke="url(#g95)" stroke-width="0.3"/><polygon points="204.8,221.7 208.9,195.1 212.1,209.2" fill="url(#g96)" stroke="url(#g96)" stroke-width="0.3"/><polygon points="208.0,210.4 204.8,221.7 208.9,195.1 212.1,209.2" fill="none" stroke="#000" stroke-opacity="0.18" stroke-width="0.35"/><polygon points="334.5,218.3 331.3,216.7 338.6,223.8" fill="url(#g97)" stroke="url(#g97)" stroke-width="0.3"/><polygon points="331.3,216.7 335.5,203.7 338.6,223.8" fill="url(#g98)" stroke="url(#g98)" stroke-width="0.3"/><polygon points="334.5,218.3 331.3,216.7 335.5,203.7 338.6,223.8" fill="none" stroke="#000" stroke-opacity="0.18" stroke-width="0.35"/><polygon points="327.2,217.9 324.1,216.4 328.2,215.2 331.3,216.7" fill="#33b8a1" stroke="#0d6e5a" stroke-opacity="0.45" stroke-width="0.35"/><polygon points="320.0,217.5 316.8,216.0 320.9,214.8 324.1,216.4" fill="#33b8a1" stroke="#0d6e5a" stroke-opacity="0.45" stroke-width="0.35"/><polygon points="312.7,217.1 309.6,215.6 313.7,214.5 316.8,216.0" fill="#33b8a1" stroke="#0d6e5a" stroke-opacity="0.45" stroke-width="0.35"/><polygon points="305.5,216.8 302.3,215.2 306.4,214.1 309.6,215.6" fill="#33b8a1" stroke="#0d6e5a" stroke-opacity="0.45" stroke-width="0.35"/><polygon points="298.2,216.4 295.1,214.9 299.2,213.7 302.3,215.2" fill="#33b8a1" stroke="#0d6e5a" stroke-opacity="0.45" stroke-width="0.35"/><polygon points="290.9,216.0 287.8,214.5 291.9,213.3 295.1,214.9" fill="#33b8a1" stroke="#0d6e5a" stroke-opacity="0.45" stroke-width="0.35"/><polygon points="283.7,215.6 280.5,214.1 284.6,213.0 287.8,214.5" fill="#33b8a1" stroke="#0d6e5a" stroke-opacity="0.45" stroke-width="0.35"/><polygon points="276.4,215.3 273.3,213.7 277.4,212.6 280.5,214.1" fill="#33b8a1" stroke="#0d6e5a" stroke-opacity="0.45" stroke-width="0.35"/><polygon points="269.2,214.9 266.0,213.4 270.1,212.2 273.3,213.7" fill="#33b8a1" stroke="#0d6e5a" stroke-opacity="0.45" stroke-width="0.35"/><polygon points="261.9,214.5 258.8,213.0 262.9,211.8 266.0,213.4" fill="#33b8a1" stroke="#0d6e5a" stroke-opacity="0.45" stroke-width="0.35"/><polygon points="254.7,214.2 251.5,212.6 255.6,211.5 258.8,213.0" fill="#33b8a1" stroke="#0d6e5a" stroke-opacity="0.45" stroke-width="0.35"/><polygon points="247.4,213.8 244.3,212.3 248.4,211.1 251.5,212.6" fill="#33b8a1" stroke="#0d6e5a" stroke-opacity="0.45" stroke-width="0.35"/><polygon points="240.1,213.4 237.0,211.9 241.1,210.7 244.3,212.3" fill="#33b8a1" stroke="#0d6e5a" stroke-opacity="0.45" stroke-width="0.35"/><polygon points="232.9,213.0 229.7,211.5 233.8,210.4 237.0,211.9" fill="#33b8a1" stroke="#0d6e5a" stroke-opacity="0.45" stroke-width="0.35"/><polygon points="225.6,212.7 222.5,211.1 226.6,210.0 229.7,211.5" fill="#33b8a1" stroke="#0d6e5a" stroke-opacity="0.45" stroke-width="0.35"/><polygon points="218.4,212.3 215.2,210.8 219.3,209.6 222.5,211.1" fill="#33b8a1" stroke="#0d6e5a" stroke-opacity="0.45" stroke-width="0.35"/><polygon points="211.1,211.9 208.0,210.4 212.1,209.2 215.2,210.8" fill="#33b8a1" stroke="#0d6e5a" stroke-opacity="0.45" stroke-width="0.35"/><polygon points="203.9,211.5 200.7,203.1 208.0,210.4" fill="url(#g99)" stroke="url(#g99)" stroke-width="0.3"/><polygon points="200.7,203.1 204.8,221.7 208.0,210.4" fill="url(#g100)" stroke="url(#g100)" stroke-width="0.3"/><polygon points="203.9,211.5 200.7,203.1 204.8,221.7 208.0,210.4" fill="none" stroke="#000" stroke-opacity="0.18" stroke-width="0.35"/><polygon points="337.6,219.8 334.5,218.3 341.8,214.2" fill="url(#g101)" stroke="url(#g101)" stroke-width="0.3"/><polygon points="334.5,218.3 338.6,223.8 341.8,214.2" fill="url(#g102)" stroke="url(#g102)" stroke-width="0.3"/><polygon points="337.6,219.8 334.5,218.3 338.6,223.8 341.8,214.2" fill="none" stroke="#000" stroke-opacity="0.18" stroke-width="0.35"/><polygon points="330.4,219.4 327.2,217.9 331.3,216.7 334.5,218.3" fill="#33b8a1" stroke="#0d6e5a" stroke-opacity="0.45" stroke-width="0.35"/><polygon points="323.1,219.0 320.0,217.5 324.1,216.4 327.2,217.9" fill="#33b8a1" stroke="#0d6e5a" stroke-opacity="0.45" stroke-width="0.35"/><polygon points="315.9,218.7 312.7,217.1 316.8,216.0 320.0,217.5" fill="#33b8a1" stroke="#0d6e5a" stroke-opacity="0.45" stroke-width="0.35"/><polygon points="308.6,218.3 305.5,216.8 309.6,215.6 312.7,217.1" fill="#33b8a1" stroke="#0d6e5a" stroke-opacity="0.45" stroke-width="0.35"/><polygon points="301.4,217.9 298.2,216.4 302.3,215.2 305.5,216.8" fill="#33b8a1" stroke="#0d6e5a" stroke-opacity="0.45" stroke-width="0.35"/><polygon points="294.1,217.5 290.9,216.0 295.1,214.9 298.2,216.4" fill="#33b8a1" stroke="#0d6e5a" stroke-opacity="0.45" stroke-width="0.35"/><polygon points="286.8,217.2 283.7,215.6 287.8,214.5 290.9,216.0" fill="#33b8a1" stroke="#0d6e5a" stroke-opacity="0.45" stroke-width="0.35"/><polygon points="279.6,216.8 276.4,215.3 280.5,214.1 283.7,215.6" fill="#33b8a1" stroke="#0d6e5a" stroke-opacity="0.45" stroke-width="0.35"/><polygon points="272.3,216.4 269.2,214.9 273.3,213.7 276.4,215.3" fill="#33b8a1" stroke="#0d6e5a" stroke-opacity="0.45" stroke-width="0.35"/><polygon points="265.1,216.1 261.9,214.5 266.0,213.4 269.2,214.9" fill="#33b8a1" stroke="#0d6e5a" stroke-opacity="0.45" stroke-width="0.35"/><polygon points="257.8,215.7 254.7,214.2 258.8,213.0 261.9,214.5" fill="#33b8a1" stroke="#0d6e5a" stroke-opacity="0.45" stroke-width="0.35"/><polygon points="250.6,215.3 247.4,213.8 251.5,212.6 254.7,214.2" fill="#33b8a1" stroke="#0d6e5a" stroke-opacity="0.45" stroke-width="0.35"/><polygon points="243.3,214.9 240.1,213.4 244.3,212.3 247.4,213.8" fill="#33b8a1" stroke="#0d6e5a" stroke-opacity="0.45" stroke-width="0.35"/><polygon points="236.0,214.6 232.9,213.0 237.0,211.9 240.1,213.4" fill="#33b8a1" stroke="#0d6e5a" stroke-opacity="0.45" stroke-width="0.35"/><polygon points="228.8,214.2 225.6,212.7 229.7,211.5 232.9,213.0" fill="#33b8a1" stroke="#0d6e5a" stroke-opacity="0.45" stroke-width="0.35"/><polygon points="221.5,213.8 218.4,212.3 222.5,211.1 225.6,212.7" fill="#33b8a1" stroke="#0d6e5a" stroke-opacity="0.45" stroke-width="0.35"/><polygon points="214.3,213.4 211.1,211.9 215.2,210.8 218.4,212.3" fill="#33b8a1" stroke="#0d6e5a" stroke-opacity="0.45" stroke-width="0.35"/><polygon points="207.0,213.1 203.9,211.5 208.0,210.4 211.1,211.9" fill="#33b8a1" stroke="#0d6e5a" stroke-opacity="0.45" stroke-width="0.35"/><polygon points="199.8,212.7 196.6,217.9 203.9,211.5" fill="url(#g103)" stroke="url(#g103)" stroke-width="0.3"/><polygon points="196.6,217.9 200.7,203.1 203.9,211.5" fill="url(#g104)" stroke="url(#g104)" stroke-width="0.3"/><polygon points="199.8,212.7 196.6,217.9 200.7,203.1 203.9,211.5" fill="none" stroke="#000" stroke-opacity="0.18" stroke-width="0.35"/><polygon points="333.5,220.9 330.4,219.4 334.5,218.3 337.6,219.8" fill="#33b8a1" stroke="#0d6e5a" stroke-opacity="0.45" stroke-width="0.35"/><polygon points="326.3,220.6 323.1,219.0 327.2,217.9 330.4,219.4" fill="#33b8a1" stroke="#0d6e5a" stroke-opacity="0.45" stroke-width="0.35"/><polygon points="319.0,220.2 315.9,218.7 320.0,217.5 323.1,219.0" fill="#33b8a1" stroke="#0d6e5a" stroke-opacity="0.45" stroke-width="0.35"/><polygon points="311.8,219.8 308.6,218.3 312.7,217.1 315.9,218.7" fill="#33b8a1" stroke="#0d6e5a" stroke-opacity="0.45" stroke-width="0.35"/><polygon points="304.5,219.4 301.4,217.9 305.5,216.8 308.6,218.3" fill="#33b8a1" stroke="#0d6e5a" stroke-opacity="0.45" stroke-width="0.35"/><polygon points="297.2,219.1 294.1,217.5 298.2,216.4 301.4,217.9" fill="#33b8a1" stroke="#0d6e5a" stroke-opacity="0.45" stroke-width="0.35"/><polygon points="290.0,218.7 286.8,217.2 290.9,216.0 294.1,217.5" fill="#33b8a1" stroke="#0d6e5a" stroke-opacity="0.45" stroke-width="0.35"/><polygon points="282.7,218.3 279.6,216.8 283.7,215.6 286.8,217.2" fill="#33b8a1" stroke="#0d6e5a" stroke-opacity="0.45" stroke-width="0.35"/><polygon points="275.5,218.0 272.3,216.4 276.4,215.3 279.6,216.8" fill="#33b8a1" stroke="#0d6e5a" stroke-opacity="0.45" stroke-width="0.35"/><polygon points="268.2,217.6 265.1,216.1 269.2,214.9 272.3,216.4" fill="#33b8a1" stroke="#0d6e5a" stroke-opacity="0.45" stroke-width="0.35"/><polygon points="261.0,217.2 257.8,215.7 261.9,214.5 265.1,216.1" fill="#33b8a1" stroke="#0d6e5a" stroke-opacity="0.45" stroke-width="0.35"/><polygon points="253.7,216.8 250.6,215.3 254.7,214.2 257.8,215.7" fill="#33b8a1" stroke="#0d6e5a" stroke-opacity="0.45" stroke-width="0.35"/><polygon points="246.4,216.5 243.3,214.9 247.4,213.8 250.6,215.3" fill="#33b8a1" stroke="#0d6e5a" stroke-opacity="0.45" stroke-width="0.35"/><polygon points="239.2,216.1 236.0,214.6 240.1,213.4 243.3,214.9" fill="#33b8a1" stroke="#0d6e5a" stroke-opacity="0.45" stroke-width="0.35"/><polygon points="231.9,215.7 228.8,214.2 232.9,213.0 236.0,214.6" fill="#33b8a1" stroke="#0d6e5a" stroke-opacity="0.45" stroke-width="0.35"/><polygon points="224.7,215.3 221.5,213.8 225.6,212.7 228.8,214.2" fill="#33b8a1" stroke="#0d6e5a" stroke-opacity="0.45" stroke-width="0.35"/><polygon points="217.4,215.0 214.3,213.4 218.4,212.3 221.5,213.8" fill="#33b8a1" stroke="#0d6e5a" stroke-opacity="0.45" stroke-width="0.35"/><polygon points="210.2,214.6 207.0,213.1 211.1,211.9 214.3,213.4" fill="#33b8a1" stroke="#0d6e5a" stroke-opacity="0.45" stroke-width="0.35"/><polygon points="202.9,214.2 199.8,212.7 203.9,211.5 207.0,213.1" fill="#33b8a1" stroke="#0d6e5a" stroke-opacity="0.45" stroke-width="0.35"/><polygon points="329.4,222.1 326.3,220.6 330.4,219.4 333.5,220.9" fill="#33b8a1" stroke="#0d6e5a" stroke-opacity="0.45" stroke-width="0.35"/><polygon points="322.2,221.7 319.0,220.2 323.1,219.0 326.3,220.6" fill="#33b8a1" stroke="#0d6e5a" stroke-opacity="0.45" stroke-width="0.35"/><polygon points="314.9,221.3 311.8,219.8 315.9,218.7 319.0,220.2" fill="#33b8a1" stroke="#0d6e5a" stroke-opacity="0.45" stroke-width="0.35"/><polygon points="307.7,221.0 304.5,219.4 308.6,218.3 311.8,219.8" fill="#33b8a1" stroke="#0d6e5a" stroke-opacity="0.45" stroke-width="0.35"/><polygon points="300.4,220.6 297.2,219.1 301.4,217.9 304.5,219.4" fill="#33b8a1" stroke="#0d6e5a" stroke-opacity="0.45" stroke-width="0.35"/><polygon points="293.1,220.2 290.0,218.7 294.1,217.5 297.2,219.1" fill="#33b8a1" stroke="#0d6e5a" stroke-opacity="0.45" stroke-width="0.35"/><polygon points="285.9,219.9 282.7,218.3 286.8,217.2 290.0,218.7" fill="#33b8a1" stroke="#0d6e5a" stroke-opacity="0.45" stroke-width="0.35"/><polygon points="278.6,219.5 275.5,218.0 279.6,216.8 282.7,218.3" fill="#33b8a1" stroke="#0d6e5a" stroke-opacity="0.45" stroke-width="0.35"/><polygon points="271.4,219.1 268.2,217.6 272.3,216.4 275.5,218.0" fill="#33b8a1" stroke="#0d6e5a" stroke-opacity="0.45" stroke-width="0.35"/><polygon points="264.1,218.7 261.0,217.2 265.1,216.1 268.2,217.6" fill="#33b8a1" stroke="#0d6e5a" stroke-opacity="0.45" stroke-width="0.35"/><polygon points="256.9,218.4 253.7,216.8 257.8,215.7 261.0,217.2" fill="#33b8a1" stroke="#0d6e5a" stroke-opacity="0.45" stroke-width="0.35"/><polygon points="249.6,218.0 246.4,216.5 250.6,215.3 253.7,216.8" fill="#33b8a1" stroke="#0d6e5a" stroke-opacity="0.45" stroke-width="0.35"/><polygon points="242.3,217.6 239.2,216.1 243.3,214.9 246.4,216.5" fill="#33b8a1" stroke="#0d6e5a" stroke-opacity="0.45" stroke-width="0.35"/><polygon points="235.1,217.2 231.9,215.7 236.0,214.6 239.2,216.1" fill="#33b8a1" stroke="#0d6e5a" stroke-opacity="0.45" stroke-width="0.35"/><polygon points="227.8,216.9 224.7,215.3 228.8,214.2 231.9,215.7" fill="#33b8a1" stroke="#0d6e5a" stroke-opacity="0.45" stroke-width="0.35"/><polygon points="220.6,216.5 217.4,215.0 221.5,213.8 224.7,215.3" fill="#33b8a1" stroke="#0d6e5a" stroke-opacity="0.45" stroke-width="0.35"/><polygon points="213.3,216.1 210.2,214.6 214.3,213.4 217.4,215.0" fill="#33b8a1" stroke="#0d6e5a" stroke-opacity="0.45" stroke-width="0.35"/><polygon points="206.1,215.8 202.9,214.2 207.0,213.1 210.2,214.6" fill="#33b8a1" stroke="#0d6e5a" stroke-opacity="0.45" stroke-width="0.35"/><polygon points="325.3,223.2 322.2,221.7 326.3,220.6 329.4,222.1" fill="#33b8a1" stroke="#0d6e5a" stroke-opacity="0.45" stroke-width="0.35"/><polygon points="318.1,222.9 314.9,221.3 319.0,220.2 322.2,221.7" fill="#33b8a1" stroke="#0d6e5a" stroke-opacity="0.45" stroke-width="0.35"/><polygon points="310.8,222.5 307.7,221.0 311.8,219.8 314.9,221.3" fill="#33b8a1" stroke="#0d6e5a" stroke-opacity="0.45" stroke-width="0.35"/><polygon points="303.5,222.1 300.4,220.6 304.5,219.4 307.7,221.0" fill="#33b8a1" stroke="#0d6e5a" stroke-opacity="0.45" stroke-width="0.35"/><polygon points="296.3,221.8 293.1,220.2 297.2,219.1 300.4,220.6" fill="#33b8a1" stroke="#0d6e5a" stroke-opacity="0.45" stroke-width="0.35"/><polygon points="289.0,221.4 285.9,219.9 290.0,218.7 293.1,220.2" fill="#33b8a1" stroke="#0d6e5a" stroke-opacity="0.45" stroke-width="0.35"/><polygon points="281.8,221.0 278.6,219.5 282.7,218.3 285.9,219.9" fill="#33b8a1" stroke="#0d6e5a" stroke-opacity="0.45" stroke-width="0.35"/><polygon points="274.5,220.6 271.4,219.1 275.5,218.0 278.6,219.5" fill="#33b8a1" stroke="#0d6e5a" stroke-opacity="0.45" stroke-width="0.35"/><polygon points="267.3,220.3 264.1,218.7 268.2,217.6 271.4,219.1" fill="#33b8a1" stroke="#0d6e5a" stroke-opacity="0.45" stroke-width="0.35"/><polygon points="260.0,219.9 256.9,218.4 261.0,217.2 264.1,218.7" fill="#33b8a1" stroke="#0d6e5a" stroke-opacity="0.45" stroke-width="0.35"/><polygon points="252.7,219.5 249.6,218.0 253.7,216.8 256.9,218.4" fill="#33b8a1" stroke="#0d6e5a" stroke-opacity="0.45" stroke-width="0.35"/><polygon points="245.5,219.1 242.3,217.6 246.4,216.5 249.6,218.0" fill="#33b8a1" stroke="#0d6e5a" stroke-opacity="0.45" stroke-width="0.35"/><polygon points="238.2,218.8 235.1,217.2 239.2,216.1 242.3,217.6" fill="#33b8a1" stroke="#0d6e5a" stroke-opacity="0.45" stroke-width="0.35"/><polygon points="231.0,218.4 227.8,216.9 231.9,215.7 235.1,217.2" fill="#33b8a1" stroke="#0d6e5a" stroke-opacity="0.45" stroke-width="0.35"/><polygon points="223.7,218.0 220.6,216.5 224.7,215.3 227.8,216.9" fill="#33b8a1" stroke="#0d6e5a" stroke-opacity="0.45" stroke-width="0.35"/><polygon points="216.5,217.7 213.3,216.1 217.4,215.0 220.6,216.5" fill="#33b8a1" stroke="#0d6e5a" stroke-opacity="0.45" stroke-width="0.35"/><polygon points="209.2,217.3 206.1,215.8 210.2,214.6 213.3,216.1" fill="#33b8a1" stroke="#0d6e5a" stroke-opacity="0.45" stroke-width="0.35"/><polygon points="321.2,224.4 318.1,222.9 322.2,221.7 325.3,223.2" fill="#33b8a1" stroke="#0d6e5a" stroke-opacity="0.45" stroke-width="0.35"/><polygon points="314.0,224.0 310.8,222.5 314.9,221.3 318.1,222.9" fill="#33b8a1" stroke="#0d6e5a" stroke-opacity="0.45" stroke-width="0.35"/><polygon points="306.7,223.7 303.5,222.1 307.7,221.0 310.8,222.5" fill="#33b8a1" stroke="#0d6e5a" stroke-opacity="0.45" stroke-width="0.35"/><polygon points="299.4,223.3 296.3,221.8 300.4,220.6 303.5,222.1" fill="#33b8a1" stroke="#0d6e5a" stroke-opacity="0.45" stroke-width="0.35"/><polygon points="292.2,222.9 289.0,221.4 293.1,220.2 296.3,221.8" fill="#33b8a1" stroke="#0d6e5a" stroke-opacity="0.45" stroke-width="0.35"/><polygon points="284.9,222.5 281.8,221.0 285.9,219.9 289.0,221.4" fill="#33b8a1" stroke="#0d6e5a" stroke-opacity="0.45" stroke-width="0.35"/><polygon points="277.7,222.2 274.5,220.6 278.6,219.5 281.8,221.0" fill="#33b8a1" stroke="#0d6e5a" stroke-opacity="0.45" stroke-width="0.35"/><polygon points="270.4,221.8 267.3,220.3 271.4,219.1 274.5,220.6" fill="#33b8a1" stroke="#0d6e5a" stroke-opacity="0.45" stroke-width="0.35"/><polygon points="263.2,221.4 260.0,219.9 264.1,218.7 267.3,220.3" fill="#33b8a1" stroke="#0d6e5a" stroke-opacity="0.45" stroke-width="0.35"/><polygon points="255.9,221.0 252.7,219.5 256.9,218.4 260.0,219.9" fill="#33b8a1" stroke="#0d6e5a" stroke-opacity="0.45" stroke-width="0.35"/><polygon points="248.6,220.7 245.5,219.1 249.6,218.0 252.7,219.5" fill="#33b8a1" stroke="#0d6e5a" stroke-opacity="0.45" stroke-width="0.35"/><polygon points="241.4,220.3 238.2,218.8 242.3,217.6 245.5,219.1" fill="#33b8a1" stroke="#0d6e5a" stroke-opacity="0.45" stroke-width="0.35"/><polygon points="234.1,219.9 231.0,218.4 235.1,217.2 238.2,218.8" fill="#33b8a1" stroke="#0d6e5a" stroke-opacity="0.45" stroke-width="0.35"/><polygon points="226.9,219.6 223.7,218.0 227.8,216.9 231.0,218.4" fill="#33b8a1" stroke="#0d6e5a" stroke-opacity="0.45" stroke-width="0.35"/><polygon points="219.6,219.2 216.5,217.7 220.6,216.5 223.7,218.0" fill="#33b8a1" stroke="#0d6e5a" stroke-opacity="0.45" stroke-width="0.35"/><polygon points="212.4,218.8 209.2,217.3 213.3,216.1 216.5,217.7" fill="#33b8a1" stroke="#0d6e5a" stroke-opacity="0.45" stroke-width="0.35"/><polygon points="317.1,225.6 314.0,224.0 318.1,222.9 321.2,224.4" fill="#33b8a1" stroke="#0d6e5a" stroke-opacity="0.45" stroke-width="0.35"/><polygon points="309.8,225.2 306.7,223.7 310.8,222.5 314.0,224.0" fill="#33b8a1" stroke="#0d6e5a" stroke-opacity="0.45" stroke-width="0.35"/><polygon points="302.6,224.8 299.4,223.3 303.5,222.1 306.7,223.7" fill="#33b8a1" stroke="#0d6e5a" stroke-opacity="0.45" stroke-width="0.35"/><polygon points="295.3,224.4 292.2,222.9 296.3,221.8 299.4,223.3" fill="#33b8a1" stroke="#0d6e5a" stroke-opacity="0.45" stroke-width="0.35"/><polygon points="288.1,224.1 284.9,222.5 289.0,221.4 292.2,222.9" fill="#33b8a1" stroke="#0d6e5a" stroke-opacity="0.45" stroke-width="0.35"/><polygon points="280.8,223.7 277.7,222.2 281.8,221.0 284.9,222.5" fill="#33b8a1" stroke="#0d6e5a" stroke-opacity="0.45" stroke-width="0.35"/><polygon points="273.6,223.3 270.4,221.8 274.5,220.6 277.7,222.2" fill="#33b8a1" stroke="#0d6e5a" stroke-opacity="0.45" stroke-width="0.35"/><polygon points="266.3,222.9 263.2,221.4 267.3,220.3 270.4,221.8" fill="#33b8a1" stroke="#0d6e5a" stroke-opacity="0.45" stroke-width="0.35"/><polygon points="259.0,222.6 255.9,221.0 260.0,219.9 263.2,221.4" fill="#33b8a1" stroke="#0d6e5a" stroke-opacity="0.45" stroke-width="0.35"/><polygon points="251.8,222.2 248.6,220.7 252.7,219.5 255.9,221.0" fill="#33b8a1" stroke="#0d6e5a" stroke-opacity="0.45" stroke-width="0.35"/><polygon points="244.5,221.8 241.4,220.3 245.5,219.1 248.6,220.7" fill="#33b8a1" stroke="#0d6e5a" stroke-opacity="0.45" stroke-width="0.35"/><polygon points="237.3,221.5 234.1,219.9 238.2,218.8 241.4,220.3" fill="#33b8a1" stroke="#0d6e5a" stroke-opacity="0.45" stroke-width="0.35"/><polygon points="230.0,221.1 226.9,219.6 231.0,218.4 234.1,219.9" fill="#33b8a1" stroke="#0d6e5a" stroke-opacity="0.45" stroke-width="0.35"/><polygon points="222.8,220.7 219.6,219.2 223.7,218.0 226.9,219.6" fill="#33b8a1" stroke="#0d6e5a" stroke-opacity="0.45" stroke-width="0.35"/><polygon points="215.5,220.3 212.4,218.8 216.5,217.7 219.6,219.2" fill="#33b8a1" stroke="#0d6e5a" stroke-opacity="0.45" stroke-width="0.35"/><polygon points="313.0,226.7 309.8,225.2 314.0,224.0 317.1,225.6" fill="#33b8a1" stroke="#0d6e5a" stroke-opacity="0.45" stroke-width="0.35"/><polygon points="305.7,226.3 302.6,224.8 306.7,223.7 309.8,225.2" fill="#33b8a1" stroke="#0d6e5a" stroke-opacity="0.45" stroke-width="0.35"/><polygon points="298.5,226.0 295.3,224.4 299.4,223.3 302.6,224.8" fill="#33b8a1" stroke="#0d6e5a" stroke-opacity="0.45" stroke-width="0.35"/><polygon points="291.2,225.6 288.1,224.1 292.2,222.9 295.3,224.4" fill="#33b8a1" stroke="#0d6e5a" stroke-opacity="0.45" stroke-width="0.35"/><polygon points="284.0,225.2 280.8,223.7 284.9,222.5 288.1,224.1" fill="#33b8a1" stroke="#0d6e5a" stroke-opacity="0.45" stroke-width="0.35"/><polygon points="276.7,224.8 273.6,223.3 277.7,222.2 280.8,223.7" fill="#33b8a1" stroke="#0d6e5a" stroke-opacity="0.45" stroke-width="0.35"/><polygon points="269.5,224.5 266.3,222.9 270.4,221.8 273.6,223.3" fill="#33b8a1" stroke="#0d6e5a" stroke-opacity="0.45" stroke-width="0.35"/><polygon points="262.2,224.1 259.0,222.6 263.2,221.4 266.3,222.9" fill="#33b8a1" stroke="#0d6e5a" stroke-opacity="0.45" stroke-width="0.35"/><polygon points="254.9,223.7 251.8,222.2 255.9,221.0 259.0,222.6" fill="#33b8a1" stroke="#0d6e5a" stroke-opacity="0.45" stroke-width="0.35"/><polygon points="247.7,223.4 244.5,221.8 248.6,220.7 251.8,222.2" fill="#33b8a1" stroke="#0d6e5a" stroke-opacity="0.45" stroke-width="0.35"/><polygon points="240.4,223.0 237.3,221.5 241.4,220.3 244.5,221.8" fill="#33b8a1" stroke="#0d6e5a" stroke-opacity="0.45" stroke-width="0.35"/><polygon points="233.2,222.6 230.0,221.1 234.1,219.9 237.3,221.5" fill="#33b8a1" stroke="#0d6e5a" stroke-opacity="0.45" stroke-width="0.35"/><polygon points="225.9,222.2 222.8,220.7 226.9,219.6 230.0,221.1" fill="#33b8a1" stroke="#0d6e5a" stroke-opacity="0.45" stroke-width="0.35"/><polygon points="218.7,221.9 215.5,220.3 219.6,219.2 222.8,220.7" fill="#33b8a1" stroke="#0d6e5a" stroke-opacity="0.45" stroke-width="0.35"/><polygon points="308.9,227.9 305.7,226.3 309.8,225.2 313.0,226.7" fill="#33b8a1" stroke="#0d6e5a" stroke-opacity="0.45" stroke-width="0.35"/><polygon points="301.6,227.5 298.5,226.0 302.6,224.8 305.7,226.3" fill="#33b8a1" stroke="#0d6e5a" stroke-opacity="0.45" stroke-width="0.35"/><polygon points="294.4,227.1 291.2,225.6 295.3,224.4 298.5,226.0" fill="#33b8a1" stroke="#0d6e5a" stroke-opacity="0.45" stroke-width="0.35"/><polygon points="287.1,226.7 284.0,225.2 288.1,224.1 291.2,225.6" fill="#33b8a1" stroke="#0d6e5a" stroke-opacity="0.45" stroke-width="0.35"/><polygon points="279.9,226.4 276.7,224.8 280.8,223.7 284.0,225.2" fill="#33b8a1" stroke="#0d6e5a" stroke-opacity="0.45" stroke-width="0.35"/><polygon points="272.6,226.0 269.5,224.5 273.6,223.3 276.7,224.8" fill="#33b8a1" stroke="#0d6e5a" stroke-opacity="0.45" stroke-width="0.35"/><polygon points="265.3,225.6 262.2,224.1 266.3,222.9 269.5,224.5" fill="#33b8a1" stroke="#0d6e5a" stroke-opacity="0.45" stroke-width="0.35"/><polygon points="258.1,225.3 254.9,223.7 259.0,222.6 262.2,224.1" fill="#33b8a1" stroke="#0d6e5a" stroke-opacity="0.45" stroke-width="0.35"/><polygon points="250.8,224.9 247.7,223.4 251.8,222.2 254.9,223.7" fill="#33b8a1" stroke="#0d6e5a" stroke-opacity="0.45" stroke-width="0.35"/><polygon points="243.6,224.5 240.4,223.0 244.5,221.8 247.7,223.4" fill="#33b8a1" stroke="#0d6e5a" stroke-opacity="0.45" stroke-width="0.35"/><polygon points="236.3,224.1 233.2,222.6 237.3,221.5 240.4,223.0" fill="#33b8a1" stroke="#0d6e5a" stroke-opacity="0.45" stroke-width="0.35"/><polygon points="229.1,223.8 225.9,222.2 230.0,221.1 233.2,222.6" fill="#33b8a1" stroke="#0d6e5a" stroke-opacity="0.45" stroke-width="0.35"/><polygon points="221.8,223.4 218.7,221.9 222.8,220.7 225.9,222.2" fill="#33b8a1" stroke="#0d6e5a" stroke-opacity="0.45" stroke-width="0.35"/><polygon points="304.8,229.0 301.6,227.5 305.7,226.3 308.9,227.9" fill="#33b8a1" stroke="#0d6e5a" stroke-opacity="0.45" stroke-width="0.35"/><polygon points="297.5,228.6 294.4,227.1 298.5,226.0 301.6,227.5" fill="#33b8a1" stroke="#0d6e5a" stroke-opacity="0.45" stroke-width="0.35"/><polygon points="290.3,228.3 287.1,226.7 291.2,225.6 294.4,227.1" fill="#33b8a1" stroke="#0d6e5a" stroke-opacity="0.45" stroke-width="0.35"/><polygon points="283.0,227.9 279.9,226.4 284.0,225.2 287.1,226.7" fill="#33b8a1" stroke="#0d6e5a" stroke-opacity="0.45" stroke-width="0.35"/><polygon points="275.8,227.5 272.6,226.0 276.7,224.8 279.9,226.4" fill="#33b8a1" stroke="#0d6e5a" stroke-opacity="0.45" stroke-width="0.35"/><polygon points="268.5,227.2 265.3,225.6 269.5,224.5 272.6,226.0" fill="#33b8a1" stroke="#0d6e5a" stroke-opacity="0.45" stroke-width="0.35"/><polygon points="261.2,226.8 258.1,225.3 262.2,224.1 265.3,225.6" fill="#33b8a1" stroke="#0d6e5a" stroke-opacity="0.45" stroke-width="0.35"/><polygon points="254.0,226.4 250.8,224.9 254.9,223.7 258.1,225.3" fill="#33b8a1" stroke="#0d6e5a" stroke-opacity="0.45" stroke-width="0.35"/><polygon points="246.7,226.0 243.6,224.5 247.7,223.4 250.8,224.9" fill="#33b8a1" stroke="#0d6e5a" stroke-opacity="0.45" stroke-width="0.35"/><polygon points="239.5,225.7 236.3,224.1 240.4,223.0 243.6,224.5" fill="#33b8a1" stroke="#0d6e5a" stroke-opacity="0.45" stroke-width="0.35"/><polygon points="232.2,225.3 229.1,223.8 233.2,222.6 236.3,224.1" fill="#33b8a1" stroke="#0d6e5a" stroke-opacity="0.45" stroke-width="0.35"/><polygon points="225.0,224.9 221.8,223.4 225.9,222.2 229.1,223.8" fill="#33b8a1" stroke="#0d6e5a" stroke-opacity="0.45" stroke-width="0.35"/><polygon points="300.7,230.2 297.5,228.6 301.6,227.5 304.8,229.0" fill="#33b8a1" stroke="#0d6e5a" stroke-opacity="0.45" stroke-width="0.35"/><polygon points="293.4,229.8 290.3,228.3 294.4,227.1 297.5,228.6" fill="#33b8a1" stroke="#0d6e5a" stroke-opacity="0.45" stroke-width="0.35"/><polygon points="286.2,229.4 283.0,227.9 287.1,226.7 290.3,228.3" fill="#33b8a1" stroke="#0d6e5a" stroke-opacity="0.45" stroke-width="0.35"/><polygon points="278.9,229.1 275.8,227.5 279.9,226.4 283.0,227.9" fill="#33b8a1" stroke="#0d6e5a" stroke-opacity="0.45" stroke-width="0.35"/><polygon points="271.6,228.7 268.5,227.2 272.6,226.0 275.8,227.5" fill="#33b8a1" stroke="#0d6e5a" stroke-opacity="0.45" stroke-width="0.35"/><polygon points="264.4,228.3 261.2,226.8 265.3,225.6 268.5,227.2" fill="#33b8a1" stroke="#0d6e5a" stroke-opacity="0.45" stroke-width="0.35"/><polygon points="257.1,227.9 254.0,226.4 258.1,225.3 261.2,226.8" fill="#33b8a1" stroke="#0d6e5a" stroke-opacity="0.45" stroke-width="0.35"/><polygon points="249.9,227.6 246.7,226.0 250.8,224.9 254.0,226.4" fill="#33b8a1" stroke="#0d6e5a" stroke-opacity="0.45" stroke-width="0.35"/><polygon points="242.6,227.2 239.5,225.7 243.6,224.5 246.7,226.0" fill="#33b8a1" stroke="#0d6e5a" stroke-opacity="0.45" stroke-width="0.35"/><polygon points="235.4,226.8 232.2,225.3 236.3,224.1 239.5,225.7" fill="#33b8a1" stroke="#0d6e5a" stroke-opacity="0.45" stroke-width="0.35"/><polygon points="228.1,226.5 225.0,224.9 229.1,223.8 232.2,225.3" fill="#33b8a1" stroke="#0d6e5a" stroke-opacity="0.45" stroke-width="0.35"/><polygon points="296.6,231.3 293.4,229.8 297.5,228.6 300.7,230.2" fill="#33b8a1" stroke="#0d6e5a" stroke-opacity="0.45" stroke-width="0.35"/><polygon points="289.3,231.0 286.2,229.4 290.3,228.3 293.4,229.8" fill="#33b8a1" stroke="#0d6e5a" stroke-opacity="0.45" stroke-width="0.35"/><polygon points="282.1,230.6 278.9,229.1 283.0,227.9 286.2,229.4" fill="#33b8a1" stroke="#0d6e5a" stroke-opacity="0.45" stroke-width="0.35"/><polygon points="274.8,230.2 271.6,228.7 275.8,227.5 278.9,229.1" fill="#33b8a1" stroke="#0d6e5a" stroke-opacity="0.45" stroke-width="0.35"/><polygon points="267.5,229.8 264.4,228.3 268.5,227.2 271.6,228.7" fill="#33b8a1" stroke="#0d6e5a" stroke-opacity="0.45" stroke-width="0.35"/><polygon points="260.3,229.5 257.1,227.9 261.2,226.8 264.4,228.3" fill="#33b8a1" stroke="#0d6e5a" stroke-opacity="0.45" stroke-width="0.35"/><polygon points="253.0,229.1 249.9,227.6 254.0,226.4 257.1,227.9" fill="#33b8a1" stroke="#0d6e5a" stroke-opacity="0.45" stroke-width="0.35"/><polygon points="245.8,228.7 242.6,227.2 246.7,226.0 249.9,227.6" fill="#33b8a1" stroke="#0d6e5a" stroke-opacity="0.45" stroke-width="0.35"/><polygon points="238.5,228.4 235.4,226.8 239.5,225.7 242.6,227.2" fill="#33b8a1" stroke="#0d6e5a" stroke-opacity="0.45" stroke-width="0.35"/><polygon points="231.3,228.0 228.1,226.5 232.2,225.3 235.4,226.8" fill="#33b8a1" stroke="#0d6e5a" stroke-opacity="0.45" stroke-width="0.35"/><polygon points="292.5,232.5 289.3,231.0 293.4,229.8 296.6,231.3" fill="#33b8a1" stroke="#0d6e5a" stroke-opacity="0.45" stroke-width="0.35"/><polygon points="285.2,232.1 282.1,230.6 286.2,229.4 289.3,231.0" fill="#33b8a1" stroke="#0d6e5a" stroke-opacity="0.45" stroke-width="0.35"/><polygon points="277.9,231.7 274.8,230.2 278.9,229.1 282.1,230.6" fill="#33b8a1" stroke="#0d6e5a" stroke-opacity="0.45" stroke-width="0.35"/><polygon points="270.7,231.4 267.5,229.8 271.6,228.7 274.8,230.2" fill="#33b8a1" stroke="#0d6e5a" stroke-opacity="0.45" stroke-width="0.35"/><polygon points="263.4,231.0 260.3,229.5 264.4,228.3 267.5,229.8" fill="#33b8a1" stroke="#0d6e5a" stroke-opacity="0.45" stroke-width="0.35"/><polygon points="256.2,230.6 253.0,229.1 257.1,227.9 260.3,229.5" fill="#33b8a1" stroke="#0d6e5a" stroke-opacity="0.45" stroke-width="0.35"/><polygon points="248.9,230.2 245.8,228.7 249.9,227.6 253.0,229.1" fill="#33b8a1" stroke="#0d6e5a" stroke-opacity="0.45" stroke-width="0.35"/><polygon points="241.7,229.9 238.5,228.4 242.6,227.2 245.8,228.7" fill="#33b8a1" stroke="#0d6e5a" stroke-opacity="0.45" stroke-width="0.35"/><polygon points="234.4,229.5 231.3,228.0 235.4,226.8 238.5,228.4" fill="#33b8a1" stroke="#0d6e5a" stroke-opacity="0.45" stroke-width="0.35"/><polygon points="288.4,233.6 285.2,232.1 289.3,231.0 292.5,232.5" fill="#33b8a1" stroke="#0d6e5a" stroke-opacity="0.45" stroke-width="0.35"/><polygon points="281.1,233.3 277.9,231.7 282.1,230.6 285.2,232.1" fill="#33b8a1" stroke="#0d6e5a" stroke-opacity="0.45" stroke-width="0.35"/><polygon points="273.8,232.9 270.7,231.4 274.8,230.2 277.9,231.7" fill="#33b8a1" stroke="#0d6e5a" stroke-opacity="0.45" stroke-width="0.35"/><polygon points="266.6,232.5 263.4,231.0 267.5,229.8 270.7,231.4" fill="#33b8a1" stroke="#0d6e5a" stroke-opacity="0.45" stroke-width="0.35"/><polygon points="259.3,232.2 256.2,230.6 260.3,229.5 263.4,231.0" fill="#33b8a1" stroke="#0d6e5a" stroke-opacity="0.45" stroke-width="0.35"/><polygon points="252.1,231.8 248.9,230.2 253.0,229.1 256.2,230.6" fill="#33b8a1" stroke="#0d6e5a" stroke-opacity="0.45" stroke-width="0.35"/><polygon points="244.8,231.4 241.7,229.9 245.8,228.7 248.9,230.2" fill="#33b8a1" stroke="#0d6e5a" stroke-opacity="0.45" stroke-width="0.35"/><polygon points="237.6,231.0 234.4,229.5 238.5,228.4 241.7,229.9" fill="#33b8a1" stroke="#0d6e5a" stroke-opacity="0.45" stroke-width="0.35"/><polygon points="284.2,234.8 281.1,233.3 285.2,232.1 288.4,233.6" fill="#33b8a1" stroke="#0d6e5a" stroke-opacity="0.45" stroke-width="0.35"/><polygon points="277.0,234.4 273.8,232.9 277.9,231.7 281.1,233.3" fill="#33b8a1" stroke="#0d6e5a" stroke-opacity="0.45" stroke-width="0.35"/><polygon points="269.7,234.1 266.6,232.5 270.7,231.4 273.8,232.9" fill="#33b8a1" stroke="#0d6e5a" stroke-opacity="0.45" stroke-width="0.35"/><polygon points="262.5,233.7 259.3,232.2 263.4,231.0 266.6,232.5" fill="#33b8a1" stroke="#0d6e5a" stroke-opacity="0.45" stroke-width="0.35"/><polygon points="255.2,233.3 252.1,231.8 256.2,230.6 259.3,232.2" fill="#33b8a1" stroke="#0d6e5a" stroke-opacity="0.45" stroke-width="0.35"/><polygon points="248.0,232.9 244.8,231.4 248.9,230.2 252.1,231.8" fill="#33b8a1" stroke="#0d6e5a" stroke-opacity="0.45" stroke-width="0.35"/><polygon points="240.7,232.6 237.6,231.0 241.7,229.9 244.8,231.4" fill="#33b8a1" stroke="#0d6e5a" stroke-opacity="0.45" stroke-width="0.35"/><polygon points="280.1,236.0 277.0,234.4 281.1,233.3 284.2,234.8" fill="#33b8a1" stroke="#0d6e5a" stroke-opacity="0.45" stroke-width="0.35"/><polygon points="272.9,235.6 269.7,234.1 273.8,232.9 277.0,234.4" fill="#33b8a1" stroke="#0d6e5a" stroke-opacity="0.45" stroke-width="0.35"/><polygon points="265.6,235.2 262.5,233.7 266.6,232.5 269.7,234.1" fill="#33b8a1" stroke="#0d6e5a" stroke-opacity="0.45" stroke-width="0.35"/><polygon points="258.4,234.8 255.2,233.3 259.3,232.2 262.5,233.7" fill="#33b8a1" stroke="#0d6e5a" stroke-opacity="0.45" stroke-width="0.35"/><polygon points="251.1,234.5 248.0,232.9 252.1,231.8 255.2,233.3" fill="#33b8a1" stroke="#0d6e5a" stroke-opacity="0.45" stroke-width="0.35"/><polygon points="243.9,234.1 240.7,232.6 244.8,231.4 248.0,232.9" fill="#33b8a1" stroke="#0d6e5a" stroke-opacity="0.45" stroke-width="0.35"/><polygon points="276.0,237.1 272.9,235.6 277.0,234.4 280.1,236.0" fill="#33b8a1" stroke="#0d6e5a" stroke-opacity="0.45" stroke-width="0.35"/><polygon points="268.8,236.7 265.6,235.2 269.7,234.1 272.9,235.6" fill="#33b8a1" stroke="#0d6e5a" stroke-opacity="0.45" stroke-width="0.35"/><polygon points="261.5,236.4 258.4,234.8 262.5,233.7 265.6,235.2" fill="#33b8a1" stroke="#0d6e5a" stroke-opacity="0.45" stroke-width="0.35"/><polygon points="254.3,236.0 251.1,234.5 255.2,233.3 258.4,234.8" fill="#33b8a1" stroke="#0d6e5a" stroke-opacity="0.45" stroke-width="0.35"/><polygon points="247.0,235.6 243.9,234.1 248.0,232.9 251.1,234.5" fill="#33b8a1" stroke="#0d6e5a" stroke-opacity="0.45" stroke-width="0.35"/><polygon points="271.9,238.3 268.8,236.7 272.9,235.6 276.0,237.1" fill="#33b8a1" stroke="#0d6e5a" stroke-opacity="0.45" stroke-width="0.35"/><polygon points="264.7,237.9 261.5,236.4 265.6,235.2 268.8,236.7" fill="#33b8a1" stroke="#0d6e5a" stroke-opacity="0.45" stroke-width="0.35"/><polygon points="257.4,237.5 254.3,236.0 258.4,234.8 261.5,236.4" fill="#33b8a1" stroke="#0d6e5a" stroke-opacity="0.45" stroke-width="0.35"/><polygon points="250.2,237.1 247.0,235.6 251.1,234.5 254.3,236.0" fill="#33b8a1" stroke="#0d6e5a" stroke-opacity="0.45" stroke-width="0.35"/><polygon points="267.8,239.4 264.7,237.9 268.8,236.7 271.9,238.3" fill="#33b8a1" stroke="#0d6e5a" stroke-opacity="0.45" stroke-width="0.35"/><polygon points="260.6,239.0 257.4,237.5 261.5,236.4 264.7,237.9" fill="#33b8a1" stroke="#0d6e5a" stroke-opacity="0.45" stroke-width="0.35"/><polygon points="253.3,238.7 250.2,237.1 254.3,236.0 257.4,237.5" fill="#33b8a1" stroke="#0d6e5a" stroke-opacity="0.45" stroke-width="0.35"/><polygon points="263.7,240.6 260.6,239.0 264.7,237.9 267.8,239.4" fill="#33b8a1" stroke="#0d6e5a" stroke-opacity="0.45" stroke-width="0.35"/><polygon points="256.5,240.2 253.3,238.7 257.4,237.5 260.6,239.0" fill="#33b8a1" stroke="#0d6e5a" stroke-opacity="0.45" stroke-width="0.35"/><polygon points="259.6,241.7 256.5,240.2 260.6,239.0 263.7,240.6" fill="#33b8a1" stroke="#0d6e5a" stroke-opacity="0.45" stroke-width="0.35"/></g>
<text x="194.10" y="180.40" font-family="Liberation Serif" font-weight="bold" font-size="7.5" text-anchor="end">0.3</text>
<text x="194.10" y="213.78" font-family="Liberation Serif" font-weight="bold" font-size="7.5" text-anchor="end">0</text>
<text x="194.10" y="247.15" font-family="Liberation Serif" font-weight="bold" font-size="7.5" text-anchor="end">-0.3</text>
<text x="191.20" y="253.10" font-family="Liberation Serif" font-weight="bold" font-size="8" text-anchor="middle">10</text>
<text x="198.30" y="255.40" font-family="Liberation Serif" font-weight="bold" font-size="8" text-anchor="middle">9</text>
<text x="205.10" y="259.20" font-family="Liberation Serif" font-weight="bold" font-size="8" text-anchor="middle">8</text>
<text x="211.40" y="262.20" font-family="Liberation Serif" font-weight="bold" font-size="8" text-anchor="middle">7</text>
<text x="217.80" y="265.20" font-family="Liberation Serif" font-weight="bold" font-size="8" text-anchor="middle">6</text>
<text x="224.00" y="267.90" font-family="Liberation Serif" font-weight="bold" font-size="8" text-anchor="middle">5</text>
<text x="230.30" y="270.70" font-family="Liberation Serif" font-weight="bold" font-size="8" text-anchor="middle">4</text>
<text x="236.70" y="274.30" font-family="Liberation Serif" font-weight="bold" font-size="8" text-anchor="middle">3</text>
<text x="242.30" y="277.10" font-family="Liberation Serif" font-weight="bold" font-size="8" text-anchor="middle">2</text>
<text x="248.90" y="279.80" font-family="Liberation Serif" font-weight="bold" font-size="8" text-anchor="middle">1</text>
<text x="255.40" y="283.50" font-family="Liberation Serif" font-weight="bold" font-size="8" text-anchor="middle">0</text>
<text x="267.20" y="286.20" font-family="Liberation Serif" font-weight="bold" font-size="8" text-anchor="middle">-5</text>
<text x="275.30" y="283.60" font-family="Liberation Serif" font-weight="bold" font-size="8" text-anchor="middle">-4</text>
<text x="283.90" y="281.60" font-family="Liberation Serif" font-weight="bold" font-size="8" text-anchor="middle">-3</text>
<text x="291.80" y="278.90" font-family="Liberation Serif" font-weight="bold" font-size="8" text-anchor="middle">-2</text>
<text x="299.20" y="276.80" font-family="Liberation Serif" font-weight="bold" font-size="8" text-anchor="middle">-1</text>
<text x="305.90" y="274.40" font-family="Liberation Serif" font-weight="bold" font-size="8" text-anchor="middle">0</text>
<text x="314.30" y="272.00" font-family="Liberation Serif" font-weight="bold" font-size="8" text-anchor="middle">1</text>
<text x="322.10" y="269.90" font-family="Liberation Serif" font-weight="bold" font-size="8" text-anchor="middle">2</text>
<text x="330.70" y="267.00" font-family="Liberation Serif" font-weight="bold" font-size="8" text-anchor="middle">3</text>
<text x="338.90" y="264.90" font-family="Liberation Serif" font-weight="bold" font-size="8" text-anchor="middle">4</text>
<text x="347.10" y="262.70" font-family="Liberation Serif" font-weight="bold" font-size="8" text-anchor="middle">5</text>
<text transform="translate(215.4,269.4) rotate(27)" font-family="Liberation Serif" font-weight="bold" font-style="italic" font-size="9" letter-spacing="0.2" text-anchor="middle" dominant-baseline="central">OAM(<tspan font-style="italic">l</tspan>)</text>
<text transform="translate(314.0,282.8) rotate(-12.5)" font-family="Liberation Serif" font-weight="bold" font-size="9.5" letter-spacing="0.3" text-anchor="middle">Freq(<tspan font-style="italic">n</tspan>)</text>
<text x="261" y="254.9" font-family="Liberation Serif" font-weight="bold" font-size="9"><tspan font-style="italic">E</tspan> = 8</text>
<text x="177.7" y="164.1" font-family="Liberation Serif" font-weight="bold" font-style="italic" font-size="9.7">(d)</text>
</svg></body></html>
